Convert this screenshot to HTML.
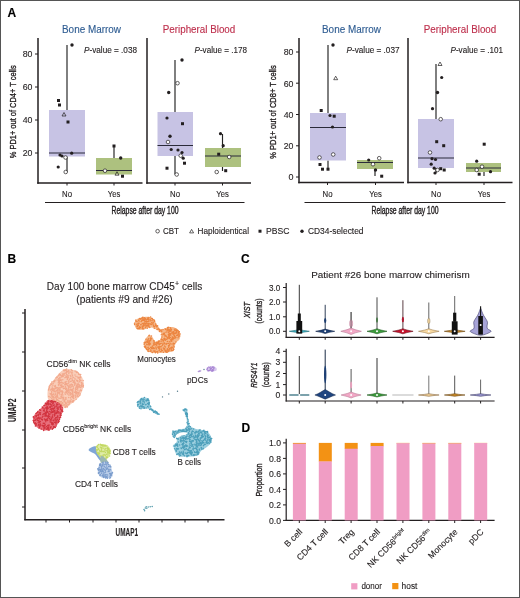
<!DOCTYPE html>
<html><head><meta charset="utf-8"><style>
html,body{margin:0;padding:0;background:#fff;}
svg{display:block;font-family:"Liberation Sans",sans-serif;will-change:transform;}
</style></head><body>
<svg width="520" height="598" viewBox="0 0 520 598">
<rect x="0" y="0" width="520" height="598" fill="#ffffff"/>
<line x1="0" y1="0.5" x2="520" y2="0.5" stroke="#555" stroke-width="1"/>
<line x1="0.5" y1="0" x2="0.5" y2="598" stroke="#555" stroke-width="1"/>
<line x1="519.5" y1="0" x2="519.5" y2="598" stroke="#555" stroke-width="1"/>
<line x1="0" y1="597.5" x2="520" y2="597.5" stroke="#555" stroke-width="1"/>
<text x="7.5" y="17" font-size="12" text-anchor="start" fill="#000" font-weight="bold" stroke="#000" stroke-width="0.12">A</text>
<text x="7.5" y="263" font-size="12" text-anchor="start" fill="#000" font-weight="bold" stroke="#000" stroke-width="0.12">B</text>
<text x="241" y="263" font-size="12" text-anchor="start" fill="#000" font-weight="bold" stroke="#000" stroke-width="0.12">C</text>
<text x="241.5" y="431.5" font-size="12" text-anchor="start" fill="#000" font-weight="bold" stroke="#000" stroke-width="0.12">D</text>
<line x1="38" y1="38" x2="38" y2="183.8" stroke="#231f20" stroke-width="1.5"/>
<line x1="37.25" y1="183" x2="142.5" y2="183" stroke="#231f20" stroke-width="1.6"/>
<line x1="35" y1="54" x2="38" y2="54" stroke="#231f20" stroke-width="1"/>
<text x="32.5" y="57.3" font-size="9.2" text-anchor="end" fill="#231f20" textLength="9.8" lengthAdjust="spacingAndGlyphs" stroke="#231f20" stroke-width="0.12">80</text>
<line x1="35" y1="87" x2="38" y2="87" stroke="#231f20" stroke-width="1"/>
<text x="32.5" y="90.3" font-size="9.2" text-anchor="end" fill="#231f20" textLength="9.8" lengthAdjust="spacingAndGlyphs" stroke="#231f20" stroke-width="0.12">60</text>
<line x1="35" y1="120" x2="38" y2="120" stroke="#231f20" stroke-width="1"/>
<text x="32.5" y="123.3" font-size="9.2" text-anchor="end" fill="#231f20" textLength="9.8" lengthAdjust="spacingAndGlyphs" stroke="#231f20" stroke-width="0.12">40</text>
<line x1="35" y1="153" x2="38" y2="153" stroke="#231f20" stroke-width="1"/>
<text x="32.5" y="156.3" font-size="9.2" text-anchor="end" fill="#231f20" textLength="9.8" lengthAdjust="spacingAndGlyphs" stroke="#231f20" stroke-width="0.12">20</text>
<line x1="67" y1="183" x2="67" y2="185.5" stroke="#231f20" stroke-width="1"/>
<text x="67" y="196.8" font-size="8.6" text-anchor="middle" fill="#231f20" textLength="10" lengthAdjust="spacingAndGlyphs" stroke="#231f20" stroke-width="0.12">No</text>
<line x1="114" y1="183" x2="114" y2="185.5" stroke="#231f20" stroke-width="1"/>
<text x="114" y="196.8" font-size="8.6" text-anchor="middle" fill="#231f20" textLength="12.5" lengthAdjust="spacingAndGlyphs" stroke="#231f20" stroke-width="0.12">Yes</text>
<line x1="147" y1="38" x2="147" y2="183.8" stroke="#231f20" stroke-width="1.5"/>
<line x1="146.25" y1="183" x2="251" y2="183" stroke="#231f20" stroke-width="1.6"/>
<line x1="175" y1="183" x2="175" y2="185.5" stroke="#231f20" stroke-width="1"/>
<text x="175" y="196.8" font-size="8.6" text-anchor="middle" fill="#231f20" textLength="10" lengthAdjust="spacingAndGlyphs" stroke="#231f20" stroke-width="0.12">No</text>
<line x1="222.5" y1="183" x2="222.5" y2="185.5" stroke="#231f20" stroke-width="1"/>
<text x="222.5" y="196.8" font-size="8.6" text-anchor="middle" fill="#231f20" textLength="12.5" lengthAdjust="spacingAndGlyphs" stroke="#231f20" stroke-width="0.12">Yes</text>
<text x="91.5" y="33.3" font-size="10.2" text-anchor="middle" fill="#2e5c92" textLength="59" lengthAdjust="spacingAndGlyphs" stroke="#2e5c92" stroke-width="0.12">Bone Marrow</text>
<text x="199" y="33.3" font-size="10.2" text-anchor="middle" fill="#be2f4c" textLength="72.5" lengthAdjust="spacingAndGlyphs" stroke="#be2f4c" stroke-width="0.12">Peripheral Blood</text>
<line x1="67" y1="45" x2="67" y2="110" stroke="#222" stroke-width="1.15"/>
<line x1="67" y1="156.5" x2="67" y2="172" stroke="#222" stroke-width="1.15"/>
<rect x="49" y="110" width="36" height="46.5" fill="#c7c3e4"/>
<line x1="49" y1="153" x2="85" y2="153" stroke="#2b2b3a" stroke-width="1.2"/>
<circle cx="72" cy="45" r="1.7" fill="#231f20"/>
<rect x="57.0" y="99.0" width="3" height="3" fill="#231f20"/>
<rect x="58.0" y="103.5" width="3" height="3" fill="#231f20"/>
<path d="M64,112.5 L66,116.0 L62,116.0 Z" fill="none" stroke="#231f20" stroke-width="0.7"/>
<rect x="66.5" y="120.5" width="3" height="3" fill="#231f20"/>
<circle cx="60" cy="155" r="1.6" fill="#231f20"/>
<circle cx="62" cy="156" r="1.6" fill="#231f20"/>
<circle cx="71.7" cy="153.2" r="1.6" fill="#231f20"/>
<circle cx="65.5" cy="157.5" r="1.8" fill="#fff" stroke="#231f20" stroke-width="0.7"/>
<circle cx="58.2" cy="167" r="1.6" fill="#231f20"/>
<circle cx="65.7" cy="172" r="1.8" fill="#fff" stroke="#231f20" stroke-width="0.7"/>
<line x1="114" y1="146" x2="114" y2="158" stroke="#222" stroke-width="1.15"/>
<line x1="114" y1="174.5" x2="114" y2="174.5" stroke="#222" stroke-width="1.15"/>
<rect x="96" y="158" width="36" height="16.5" fill="#adc17f"/>
<line x1="96" y1="170.5" x2="132" y2="170.5" stroke="#2b2b3a" stroke-width="1.2"/>
<rect x="112.5" y="144.5" width="3" height="3" fill="#231f20"/>
<circle cx="120.7" cy="158" r="1.7" fill="#231f20"/>
<circle cx="105" cy="170.7" r="1.8" fill="#fff" stroke="#231f20" stroke-width="0.7"/>
<path d="M117,171.7 L119,175.2 L115,175.2 Z" fill="none" stroke="#231f20" stroke-width="0.7"/>
<rect x="121.0" y="174.7" width="3" height="3" fill="#231f20"/>
<line x1="175" y1="60" x2="175" y2="112" stroke="#222" stroke-width="1.15"/>
<line x1="175" y1="156" x2="175" y2="174.5" stroke="#222" stroke-width="1.15"/>
<rect x="157.5" y="112" width="35.5" height="44" fill="#c7c3e4"/>
<line x1="157.5" y1="145.5" x2="193" y2="145.5" stroke="#2b2b3a" stroke-width="1.2"/>
<circle cx="182" cy="60" r="1.7" fill="#231f20"/>
<circle cx="177.5" cy="83.2" r="1.8" fill="#fff" stroke="#231f20" stroke-width="0.7"/>
<circle cx="168.7" cy="92.5" r="1.7" fill="#231f20"/>
<circle cx="167" cy="118" r="1.6" fill="#231f20"/>
<rect x="181.0" y="122.2" width="3" height="3" fill="#231f20"/>
<circle cx="170" cy="136.2" r="1.7" fill="#231f20"/>
<circle cx="168" cy="142" r="1.8" fill="#fff" stroke="#231f20" stroke-width="0.7"/>
<circle cx="171.2" cy="149.5" r="1.6" fill="#231f20"/>
<circle cx="178" cy="150" r="1.6" fill="#231f20"/>
<circle cx="182" cy="152.5" r="1.6" fill="#231f20"/>
<circle cx="180.7" cy="155.7" r="1.8" fill="#fff" stroke="#231f20" stroke-width="0.7"/>
<circle cx="183.2" cy="158.2" r="1.6" fill="#231f20"/>
<rect x="183.0" y="161.7" width="3" height="3" fill="#231f20"/>
<rect x="165.5" y="166.7" width="3" height="3" fill="#231f20"/>
<circle cx="176.7" cy="174.5" r="1.8" fill="#fff" stroke="#231f20" stroke-width="0.7"/>
<line x1="222.5" y1="134" x2="222.5" y2="148" stroke="#222" stroke-width="1.15"/>
<line x1="222.5" y1="167" x2="222.5" y2="171" stroke="#222" stroke-width="1.15"/>
<rect x="205" y="148" width="36" height="19" fill="#adc17f"/>
<line x1="205" y1="156" x2="241" y2="156" stroke="#2b2b3a" stroke-width="1.2"/>
<circle cx="220.5" cy="133.7" r="1.6" fill="#231f20"/>
<circle cx="223.2" cy="145.7" r="1.6" fill="#231f20"/>
<rect x="217.2" y="152.7" width="3" height="3" fill="#231f20"/>
<circle cx="229.2" cy="157" r="1.8" fill="#fff" stroke="#231f20" stroke-width="0.7"/>
<circle cx="216.7" cy="172" r="1.8" fill="#fff" stroke="#231f20" stroke-width="0.7"/>
<rect x="224.2" y="169.2" width="3" height="3" fill="#231f20"/>
<text x="84" y="53" font-size="8.3" fill="#231f20" textLength="53" lengthAdjust="spacingAndGlyphs" stroke="#231f20" stroke-width="0.12"><tspan font-style="italic">P</tspan>-value = .038</text>
<text x="194.5" y="53" font-size="8.3" fill="#231f20" textLength="52.5" lengthAdjust="spacingAndGlyphs" stroke="#231f20" stroke-width="0.12"><tspan font-style="italic">P</tspan>-value = .178</text>
<text transform="translate(16.2,111.8) rotate(-90)" font-size="9.6" text-anchor="middle" fill="#231f20" stroke="#231f20" stroke-width="0.35" textLength="93" lengthAdjust="spacingAndGlyphs">% PD1+ out of CD4+ T cells</text>
<line x1="45" y1="202.5" x2="244.5" y2="202.5" stroke="#231f20" stroke-width="1.2"/>
<text x="145" y="214" font-size="10.4" text-anchor="middle" fill="#231f20" textLength="67" lengthAdjust="spacingAndGlyphs" stroke="#231f20" stroke-width="0.4">Relapse after day 100</text>
<line x1="299" y1="38" x2="299" y2="183.3" stroke="#231f20" stroke-width="1.5"/>
<line x1="298.25" y1="182.5" x2="404" y2="182.5" stroke="#231f20" stroke-width="1.6"/>
<line x1="296" y1="52" x2="299" y2="52" stroke="#231f20" stroke-width="1"/>
<text x="293.5" y="55.3" font-size="9.2" text-anchor="end" fill="#231f20" textLength="9.8" lengthAdjust="spacingAndGlyphs" stroke="#231f20" stroke-width="0.12">80</text>
<line x1="296" y1="83.2" x2="299" y2="83.2" stroke="#231f20" stroke-width="1"/>
<text x="293.5" y="86.5" font-size="9.2" text-anchor="end" fill="#231f20" textLength="9.8" lengthAdjust="spacingAndGlyphs" stroke="#231f20" stroke-width="0.12">60</text>
<line x1="296" y1="114.5" x2="299" y2="114.5" stroke="#231f20" stroke-width="1"/>
<text x="293.5" y="117.8" font-size="9.2" text-anchor="end" fill="#231f20" textLength="9.8" lengthAdjust="spacingAndGlyphs" stroke="#231f20" stroke-width="0.12">40</text>
<line x1="296" y1="145.8" x2="299" y2="145.8" stroke="#231f20" stroke-width="1"/>
<text x="293.5" y="149.10000000000002" font-size="9.2" text-anchor="end" fill="#231f20" textLength="9.8" lengthAdjust="spacingAndGlyphs" stroke="#231f20" stroke-width="0.12">20</text>
<line x1="296" y1="177" x2="299" y2="177" stroke="#231f20" stroke-width="1"/>
<text x="293.5" y="180.3" font-size="9.2" text-anchor="end" fill="#231f20" textLength="5" lengthAdjust="spacingAndGlyphs" stroke="#231f20" stroke-width="0.12">0</text>
<line x1="327.5" y1="182.5" x2="327.5" y2="185.0" stroke="#231f20" stroke-width="1"/>
<text x="327.5" y="196.8" font-size="8.6" text-anchor="middle" fill="#231f20" textLength="10" lengthAdjust="spacingAndGlyphs" stroke="#231f20" stroke-width="0.12">No</text>
<line x1="375.5" y1="182.5" x2="375.5" y2="185.0" stroke="#231f20" stroke-width="1"/>
<text x="375.5" y="196.8" font-size="8.6" text-anchor="middle" fill="#231f20" textLength="12.5" lengthAdjust="spacingAndGlyphs" stroke="#231f20" stroke-width="0.12">Yes</text>
<line x1="408" y1="38" x2="408" y2="183.3" stroke="#231f20" stroke-width="1.5"/>
<line x1="407.25" y1="182.5" x2="512.5" y2="182.5" stroke="#231f20" stroke-width="1.6"/>
<line x1="436" y1="182.5" x2="436" y2="185.0" stroke="#231f20" stroke-width="1"/>
<text x="436" y="196.8" font-size="8.6" text-anchor="middle" fill="#231f20" textLength="10" lengthAdjust="spacingAndGlyphs" stroke="#231f20" stroke-width="0.12">No</text>
<line x1="484" y1="182.5" x2="484" y2="185.0" stroke="#231f20" stroke-width="1"/>
<text x="484" y="196.8" font-size="8.6" text-anchor="middle" fill="#231f20" textLength="12.5" lengthAdjust="spacingAndGlyphs" stroke="#231f20" stroke-width="0.12">Yes</text>
<text x="351.5" y="33.3" font-size="10.2" text-anchor="middle" fill="#2e5c92" textLength="59" lengthAdjust="spacingAndGlyphs" stroke="#2e5c92" stroke-width="0.12">Bone Marrow</text>
<text x="460" y="33.3" font-size="10.2" text-anchor="middle" fill="#be2f4c" textLength="72.5" lengthAdjust="spacingAndGlyphs" stroke="#be2f4c" stroke-width="0.12">Peripheral Blood</text>
<line x1="328" y1="45" x2="328" y2="113" stroke="#222" stroke-width="1.15"/>
<line x1="328" y1="160.5" x2="328" y2="169" stroke="#222" stroke-width="1.15"/>
<rect x="310" y="113" width="36" height="47.5" fill="#c7c3e4"/>
<line x1="310" y1="127.5" x2="346" y2="127.5" stroke="#2b2b3a" stroke-width="1.2"/>
<circle cx="333" cy="45" r="1.7" fill="#231f20"/>
<path d="M335.7,76.2 L337.7,79.7 L333.7,79.7 Z" fill="none" stroke="#231f20" stroke-width="0.7"/>
<rect x="319.7" y="109.0" width="3" height="3" fill="#231f20"/>
<circle cx="330" cy="115.5" r="1.6" fill="#231f20"/>
<rect x="332.7" y="114.7" width="3" height="3" fill="#231f20"/>
<circle cx="332.5" cy="127" r="1.6" fill="#231f20"/>
<circle cx="319.5" cy="157.5" r="1.8" fill="#fff" stroke="#231f20" stroke-width="0.7"/>
<circle cx="333.2" cy="154.5" r="1.8" fill="#fff" stroke="#231f20" stroke-width="0.7"/>
<rect x="318.5" y="163.0" width="3" height="3" fill="#231f20"/>
<rect x="321.0" y="167.7" width="3" height="3" fill="#231f20"/>
<rect x="326.5" y="167.7" width="3" height="3" fill="#231f20"/>
<line x1="375" y1="160" x2="375" y2="160" stroke="#222" stroke-width="1.15"/>
<line x1="375" y1="169" x2="375" y2="176" stroke="#222" stroke-width="1.15"/>
<rect x="357" y="160" width="36" height="9" fill="#adc17f"/>
<line x1="357" y1="162.5" x2="393" y2="162.5" stroke="#2b2b3a" stroke-width="1.2"/>
<circle cx="368.7" cy="160" r="1.6" fill="#231f20"/>
<circle cx="373" cy="164.2" r="1.8" fill="#fff" stroke="#231f20" stroke-width="0.7"/>
<circle cx="379.2" cy="158.2" r="1.8" fill="#fff" stroke="#231f20" stroke-width="0.7"/>
<circle cx="375.5" cy="170" r="1.7" fill="#231f20"/>
<rect x="380.2" y="174.7" width="3" height="3" fill="#231f20"/>
<line x1="436" y1="64" x2="436" y2="119" stroke="#222" stroke-width="1.15"/>
<line x1="436" y1="168" x2="436" y2="173" stroke="#222" stroke-width="1.15"/>
<rect x="418" y="119" width="36" height="49" fill="#c7c3e4"/>
<line x1="418" y1="158" x2="454" y2="158" stroke="#2b2b3a" stroke-width="1.2"/>
<path d="M440,62 L442,65.5 L438,65.5 Z" fill="none" stroke="#231f20" stroke-width="0.7"/>
<circle cx="441.7" cy="77.5" r="1.6" fill="#231f20"/>
<circle cx="437.5" cy="92.5" r="1.7" fill="#231f20"/>
<circle cx="432.5" cy="108.7" r="1.6" fill="#231f20"/>
<circle cx="440.7" cy="119.2" r="1.8" fill="#fff" stroke="#231f20" stroke-width="0.7"/>
<rect x="435.2" y="140.2" width="3" height="3" fill="#231f20"/>
<rect x="442.2" y="144.2" width="3" height="3" fill="#231f20"/>
<circle cx="430" cy="152.5" r="1.8" fill="#fff" stroke="#231f20" stroke-width="0.7"/>
<circle cx="432" cy="158.7" r="1.6" fill="#231f20"/>
<circle cx="435.5" cy="159.5" r="1.6" fill="#231f20"/>
<circle cx="431.2" cy="164.2" r="1.6" fill="#231f20"/>
<circle cx="434.2" cy="168.2" r="1.6" fill="#231f20"/>
<circle cx="437.5" cy="170" r="1.8" fill="#fff" stroke="#231f20" stroke-width="0.7"/>
<rect x="439.2" y="167.2" width="3" height="3" fill="#231f20"/>
<rect x="442.7" y="168.5" width="3" height="3" fill="#231f20"/>
<circle cx="435" cy="173" r="1.6" fill="#231f20"/>
<line x1="484" y1="163" x2="484" y2="163" stroke="#222" stroke-width="1.15"/>
<line x1="484" y1="172" x2="484" y2="176" stroke="#222" stroke-width="1.15"/>
<rect x="466" y="163" width="35" height="9" fill="#adc17f"/>
<line x1="466" y1="168" x2="501" y2="168" stroke="#2b2b3a" stroke-width="1.2"/>
<rect x="482.7" y="142.7" width="3" height="3" fill="#231f20"/>
<circle cx="476.7" cy="161.2" r="1.6" fill="#231f20"/>
<circle cx="482" cy="166.7" r="1.8" fill="#fff" stroke="#231f20" stroke-width="0.7"/>
<circle cx="476.7" cy="170" r="1.8" fill="#fff" stroke="#231f20" stroke-width="0.7"/>
<rect x="477.7" y="172.7" width="3" height="3" fill="#231f20"/>
<circle cx="490.5" cy="171.7" r="1.6" fill="#231f20"/>
<text x="346.5" y="53" font-size="8.3" fill="#231f20" textLength="53" lengthAdjust="spacingAndGlyphs" stroke="#231f20" stroke-width="0.12"><tspan font-style="italic">P</tspan>-value = .037</text>
<text x="450.5" y="53" font-size="8.3" fill="#231f20" textLength="52.5" lengthAdjust="spacingAndGlyphs" stroke="#231f20" stroke-width="0.12"><tspan font-style="italic">P</tspan>-value = .101</text>
<text transform="translate(275.6,112) rotate(-90)" font-size="9.6" text-anchor="middle" fill="#231f20" stroke="#231f20" stroke-width="0.35" textLength="93.5" lengthAdjust="spacingAndGlyphs">% PD1+ out of CD8+ T cells</text>
<line x1="304.5" y1="202.5" x2="505.5" y2="202.5" stroke="#231f20" stroke-width="1.2"/>
<text x="405" y="214" font-size="10.4" text-anchor="middle" fill="#231f20" textLength="67" lengthAdjust="spacingAndGlyphs" stroke="#231f20" stroke-width="0.4">Relapse after day 100</text>
<circle cx="157.6" cy="231.2" r="1.8" fill="#fff" stroke="#231f20" stroke-width="0.7"/>
<text x="163" y="233.6" font-size="8.4" text-anchor="start" fill="#231f20" textLength="16" lengthAdjust="spacingAndGlyphs" stroke="#231f20" stroke-width="0.12">CBT</text>
<path d="M191.6,229.4 L193.6,232.9 L189.6,232.9 Z" fill="none" stroke="#231f20" stroke-width="0.7"/>
<text x="197.5" y="233.6" font-size="8.4" text-anchor="start" fill="#231f20" textLength="51.5" lengthAdjust="spacingAndGlyphs" stroke="#231f20" stroke-width="0.12">Haploidentical</text>
<rect x="258.5" y="229.7" width="3" height="3" fill="#231f20"/>
<text x="266" y="233.6" font-size="8.4" text-anchor="start" fill="#231f20" textLength="23.5" lengthAdjust="spacingAndGlyphs" stroke="#231f20" stroke-width="0.12">PBSC</text>
<circle cx="302" cy="231.2" r="1.7" fill="#231f20"/>
<text x="308" y="233.6" font-size="8.4" text-anchor="start" fill="#231f20" textLength="55.5" lengthAdjust="spacingAndGlyphs" stroke="#231f20" stroke-width="0.12">CD34-selected</text>
<text x="124.5" y="289.8" font-size="10" text-anchor="middle" fill="#231f20" textLength="155.5" stroke="#231f20" stroke-width="0.12">Day 100 bone marrow CD45<tspan font-size="7" dy="-4">+</tspan><tspan dy="4"> cells</tspan></text>
<text x="124.5" y="302.8" font-size="10" text-anchor="middle" fill="#231f20" textLength="96.5" lengthAdjust="spacingAndGlyphs" stroke="#231f20" stroke-width="0.12">(patients #9 and #26)</text>
<line x1="25" y1="309" x2="25" y2="520.2" stroke="#231f20" stroke-width="1.5"/>
<line x1="24.3" y1="519.8" x2="224.5" y2="519.8" stroke="#231f20" stroke-width="1.6"/>
<line x1="22" y1="313" x2="25" y2="313" stroke="#231f20" stroke-width="1"/>
<line x1="22" y1="352" x2="25" y2="352" stroke="#231f20" stroke-width="1"/>
<line x1="22" y1="391" x2="25" y2="391" stroke="#231f20" stroke-width="1"/>
<line x1="22" y1="430" x2="25" y2="430" stroke="#231f20" stroke-width="1"/>
<line x1="22" y1="468" x2="25" y2="468" stroke="#231f20" stroke-width="1"/>
<line x1="22" y1="507" x2="25" y2="507" stroke="#231f20" stroke-width="1"/>
<line x1="46" y1="519.8" x2="46" y2="522.5" stroke="#231f20" stroke-width="1"/>
<line x1="69.5" y1="519.8" x2="69.5" y2="522.5" stroke="#231f20" stroke-width="1"/>
<line x1="93" y1="519.8" x2="93" y2="522.5" stroke="#231f20" stroke-width="1"/>
<line x1="116" y1="519.8" x2="116" y2="522.5" stroke="#231f20" stroke-width="1"/>
<line x1="139" y1="519.8" x2="139" y2="522.5" stroke="#231f20" stroke-width="1"/>
<line x1="162" y1="519.8" x2="162" y2="522.5" stroke="#231f20" stroke-width="1"/>
<line x1="185" y1="519.8" x2="185" y2="522.5" stroke="#231f20" stroke-width="1"/>
<line x1="208" y1="519.8" x2="208" y2="522.5" stroke="#231f20" stroke-width="1"/>
<text transform="translate(15.8,410.3) rotate(-90)" font-size="10.2" font-weight="bold" text-anchor="middle" fill="#231f20" textLength="23.5" lengthAdjust="spacingAndGlyphs" stroke="#231f20" stroke-width="0.12">UMAP2</text>
<text x="126.8" y="535.6" font-size="10.4" text-anchor="middle" fill="#231f20" font-weight="bold" textLength="22.5" lengthAdjust="spacingAndGlyphs" stroke="#231f20" stroke-width="0.12">UMAP1</text>
<path d="M68.6,369.1 C70.9,369.3 74.6,370.2 76.8,371.4 C79.0,372.6 80.3,374.2 81.5,376.2 C82.7,378.2 83.7,380.9 83.8,383.5 C83.9,386.1 83.0,389.0 82.0,391.5 C81.0,394.0 79.3,396.4 77.5,398.5 C75.7,400.6 73.1,402.4 71.0,404.0 C68.9,405.6 67.5,408.2 65.0,408.0 C62.5,407.8 58.7,403.8 56.0,402.5 C53.3,401.2 50.1,401.7 48.7,400.1 C47.3,398.5 47.4,395.6 47.5,393.1 C47.6,390.6 48.3,387.0 49.3,384.9 C50.3,382.8 51.9,381.9 53.4,380.2 C54.9,378.4 56.5,376.0 58.1,374.4 C59.7,372.8 61.0,371.2 62.7,370.3 C64.5,369.4 66.2,368.9 68.6,369.1 Z" fill="#f9cdb8"/>
<path d="M75.2,379.0m-0.75,0a0.75,0.75 0 1,0 1.5,0a0.75,0.75 0 1,0 -1.5,0M65.5,386.6m-0.75,0a0.75,0.75 0 1,0 1.5,0a0.75,0.75 0 1,0 -1.5,0M71.1,399.8m-0.75,0a0.75,0.75 0 1,0 1.5,0a0.75,0.75 0 1,0 -1.5,0M77.8,385.9m-0.75,0a0.75,0.75 0 1,0 1.5,0a0.75,0.75 0 1,0 -1.5,0M63.6,397.2m-0.75,0a0.75,0.75 0 1,0 1.5,0a0.75,0.75 0 1,0 -1.5,0M48.4,390.1m-0.75,0a0.75,0.75 0 1,0 1.5,0a0.75,0.75 0 1,0 -1.5,0M81.6,383.9m-0.75,0a0.75,0.75 0 1,0 1.5,0a0.75,0.75 0 1,0 -1.5,0M55.3,385.5m-0.75,0a0.75,0.75 0 1,0 1.5,0a0.75,0.75 0 1,0 -1.5,0M63.4,388.4m-0.75,0a0.75,0.75 0 1,0 1.5,0a0.75,0.75 0 1,0 -1.5,0M55.9,378.1m-0.75,0a0.75,0.75 0 1,0 1.5,0a0.75,0.75 0 1,0 -1.5,0M55.4,387.0m-0.75,0a0.75,0.75 0 1,0 1.5,0a0.75,0.75 0 1,0 -1.5,0M77.9,390.7m-0.75,0a0.75,0.75 0 1,0 1.5,0a0.75,0.75 0 1,0 -1.5,0M70.8,376.3m-0.75,0a0.75,0.75 0 1,0 1.5,0a0.75,0.75 0 1,0 -1.5,0M51.8,382.0m-0.75,0a0.75,0.75 0 1,0 1.5,0a0.75,0.75 0 1,0 -1.5,0M73.7,396.8m-0.75,0a0.75,0.75 0 1,0 1.5,0a0.75,0.75 0 1,0 -1.5,0M81.5,385.5m-0.75,0a0.75,0.75 0 1,0 1.5,0a0.75,0.75 0 1,0 -1.5,0M77.6,395.2m-0.75,0a0.75,0.75 0 1,0 1.5,0a0.75,0.75 0 1,0 -1.5,0M58.5,391.9m-0.75,0a0.75,0.75 0 1,0 1.5,0a0.75,0.75 0 1,0 -1.5,0M65.8,392.0m-0.75,0a0.75,0.75 0 1,0 1.5,0a0.75,0.75 0 1,0 -1.5,0M76.4,385.2m-0.75,0a0.75,0.75 0 1,0 1.5,0a0.75,0.75 0 1,0 -1.5,0M53.7,390.4m-0.75,0a0.75,0.75 0 1,0 1.5,0a0.75,0.75 0 1,0 -1.5,0M73.0,395.3m-0.75,0a0.75,0.75 0 1,0 1.5,0a0.75,0.75 0 1,0 -1.5,0M61.1,386.2m-0.75,0a0.75,0.75 0 1,0 1.5,0a0.75,0.75 0 1,0 -1.5,0M65.9,399.4m-0.75,0a0.75,0.75 0 1,0 1.5,0a0.75,0.75 0 1,0 -1.5,0M66.4,384.4m-0.75,0a0.75,0.75 0 1,0 1.5,0a0.75,0.75 0 1,0 -1.5,0M65.2,370.2m-0.75,0a0.75,0.75 0 1,0 1.5,0a0.75,0.75 0 1,0 -1.5,0M49.0,396.5m-0.75,0a0.75,0.75 0 1,0 1.5,0a0.75,0.75 0 1,0 -1.5,0M61.8,375.7m-0.75,0a0.75,0.75 0 1,0 1.5,0a0.75,0.75 0 1,0 -1.5,0M65.7,407.3m-0.75,0a0.75,0.75 0 1,0 1.5,0a0.75,0.75 0 1,0 -1.5,0M75.5,390.1m-0.75,0a0.75,0.75 0 1,0 1.5,0a0.75,0.75 0 1,0 -1.5,0M78.7,378.1m-0.75,0a0.75,0.75 0 1,0 1.5,0a0.75,0.75 0 1,0 -1.5,0M66.1,406.1m-0.75,0a0.75,0.75 0 1,0 1.5,0a0.75,0.75 0 1,0 -1.5,0M68.5,386.9m-0.75,0a0.75,0.75 0 1,0 1.5,0a0.75,0.75 0 1,0 -1.5,0M57.2,390.4m-0.75,0a0.75,0.75 0 1,0 1.5,0a0.75,0.75 0 1,0 -1.5,0M76.9,389.3m-0.75,0a0.75,0.75 0 1,0 1.5,0a0.75,0.75 0 1,0 -1.5,0M67.9,385.7m-0.75,0a0.75,0.75 0 1,0 1.5,0a0.75,0.75 0 1,0 -1.5,0M68.2,376.8m-0.75,0a0.75,0.75 0 1,0 1.5,0a0.75,0.75 0 1,0 -1.5,0M65.8,387.9m-0.75,0a0.75,0.75 0 1,0 1.5,0a0.75,0.75 0 1,0 -1.5,0M60.4,382.5m-0.75,0a0.75,0.75 0 1,0 1.5,0a0.75,0.75 0 1,0 -1.5,0M67.0,393.3m-0.75,0a0.75,0.75 0 1,0 1.5,0a0.75,0.75 0 1,0 -1.5,0M69.7,386.9m-0.75,0a0.75,0.75 0 1,0 1.5,0a0.75,0.75 0 1,0 -1.5,0M53.9,391.8m-0.75,0a0.75,0.75 0 1,0 1.5,0a0.75,0.75 0 1,0 -1.5,0M56.7,401.8m-0.75,0a0.75,0.75 0 1,0 1.5,0a0.75,0.75 0 1,0 -1.5,0M71.9,372.3m-0.75,0a0.75,0.75 0 1,0 1.5,0a0.75,0.75 0 1,0 -1.5,0M74.9,378.8m-0.75,0a0.75,0.75 0 1,0 1.5,0a0.75,0.75 0 1,0 -1.5,0M51.4,393.4m-0.75,0a0.75,0.75 0 1,0 1.5,0a0.75,0.75 0 1,0 -1.5,0M53.2,389.6m-0.75,0a0.75,0.75 0 1,0 1.5,0a0.75,0.75 0 1,0 -1.5,0M73.3,386.8m-0.75,0a0.75,0.75 0 1,0 1.5,0a0.75,0.75 0 1,0 -1.5,0M59.2,387.5m-0.75,0a0.75,0.75 0 1,0 1.5,0a0.75,0.75 0 1,0 -1.5,0M62.7,376.4m-0.75,0a0.75,0.75 0 1,0 1.5,0a0.75,0.75 0 1,0 -1.5,0M66.0,377.2m-0.75,0a0.75,0.75 0 1,0 1.5,0a0.75,0.75 0 1,0 -1.5,0M69.5,400.9m-0.75,0a0.75,0.75 0 1,0 1.5,0a0.75,0.75 0 1,0 -1.5,0M52.8,397.1m-0.75,0a0.75,0.75 0 1,0 1.5,0a0.75,0.75 0 1,0 -1.5,0M53.3,396.5m-0.75,0a0.75,0.75 0 1,0 1.5,0a0.75,0.75 0 1,0 -1.5,0M72.1,390.3m-0.75,0a0.75,0.75 0 1,0 1.5,0a0.75,0.75 0 1,0 -1.5,0M76.4,389.2m-0.75,0a0.75,0.75 0 1,0 1.5,0a0.75,0.75 0 1,0 -1.5,0M55.6,394.3m-0.75,0a0.75,0.75 0 1,0 1.5,0a0.75,0.75 0 1,0 -1.5,0M61.8,391.5m-0.75,0a0.75,0.75 0 1,0 1.5,0a0.75,0.75 0 1,0 -1.5,0M59.1,393.6m-0.75,0a0.75,0.75 0 1,0 1.5,0a0.75,0.75 0 1,0 -1.5,0M58.6,402.5m-0.75,0a0.75,0.75 0 1,0 1.5,0a0.75,0.75 0 1,0 -1.5,0M74.5,385.3m-0.75,0a0.75,0.75 0 1,0 1.5,0a0.75,0.75 0 1,0 -1.5,0M68.2,375.7m-0.75,0a0.75,0.75 0 1,0 1.5,0a0.75,0.75 0 1,0 -1.5,0M73.0,388.9m-0.75,0a0.75,0.75 0 1,0 1.5,0a0.75,0.75 0 1,0 -1.5,0M61.2,382.6m-0.75,0a0.75,0.75 0 1,0 1.5,0a0.75,0.75 0 1,0 -1.5,0M54.9,395.3m-0.75,0a0.75,0.75 0 1,0 1.5,0a0.75,0.75 0 1,0 -1.5,0M63.2,376.6m-0.75,0a0.75,0.75 0 1,0 1.5,0a0.75,0.75 0 1,0 -1.5,0M51.2,395.0m-0.75,0a0.75,0.75 0 1,0 1.5,0a0.75,0.75 0 1,0 -1.5,0M58.2,388.5m-0.75,0a0.75,0.75 0 1,0 1.5,0a0.75,0.75 0 1,0 -1.5,0M59.3,403.0m-0.75,0a0.75,0.75 0 1,0 1.5,0a0.75,0.75 0 1,0 -1.5,0M54.7,381.8m-0.75,0a0.75,0.75 0 1,0 1.5,0a0.75,0.75 0 1,0 -1.5,0M59.8,377.4m-0.75,0a0.75,0.75 0 1,0 1.5,0a0.75,0.75 0 1,0 -1.5,0M72.0,401.7m-0.75,0a0.75,0.75 0 1,0 1.5,0a0.75,0.75 0 1,0 -1.5,0M81.3,382.5m-0.75,0a0.75,0.75 0 1,0 1.5,0a0.75,0.75 0 1,0 -1.5,0M79.5,395.8m-0.75,0a0.75,0.75 0 1,0 1.5,0a0.75,0.75 0 1,0 -1.5,0M65.1,407.4m-0.75,0a0.75,0.75 0 1,0 1.5,0a0.75,0.75 0 1,0 -1.5,0M56.0,397.3m-0.75,0a0.75,0.75 0 1,0 1.5,0a0.75,0.75 0 1,0 -1.5,0M80.6,377.4m-0.75,0a0.75,0.75 0 1,0 1.5,0a0.75,0.75 0 1,0 -1.5,0M75.0,392.4m-0.75,0a0.75,0.75 0 1,0 1.5,0a0.75,0.75 0 1,0 -1.5,0M78.0,383.4m-0.75,0a0.75,0.75 0 1,0 1.5,0a0.75,0.75 0 1,0 -1.5,0M59.8,380.4m-0.75,0a0.75,0.75 0 1,0 1.5,0a0.75,0.75 0 1,0 -1.5,0M79.0,392.6m-0.75,0a0.75,0.75 0 1,0 1.5,0a0.75,0.75 0 1,0 -1.5,0M52.4,390.5m-0.75,0a0.75,0.75 0 1,0 1.5,0a0.75,0.75 0 1,0 -1.5,0M59.8,393.0m-0.75,0a0.75,0.75 0 1,0 1.5,0a0.75,0.75 0 1,0 -1.5,0M75.9,383.8m-0.75,0a0.75,0.75 0 1,0 1.5,0a0.75,0.75 0 1,0 -1.5,0M68.2,377.8m-0.75,0a0.75,0.75 0 1,0 1.5,0a0.75,0.75 0 1,0 -1.5,0M79.8,391.0m-0.75,0a0.75,0.75 0 1,0 1.5,0a0.75,0.75 0 1,0 -1.5,0M81.1,386.9m-0.75,0a0.75,0.75 0 1,0 1.5,0a0.75,0.75 0 1,0 -1.5,0M57.5,399.7m-0.75,0a0.75,0.75 0 1,0 1.5,0a0.75,0.75 0 1,0 -1.5,0M71.8,372.6m-0.75,0a0.75,0.75 0 1,0 1.5,0a0.75,0.75 0 1,0 -1.5,0M83.4,385.5m-0.75,0a0.75,0.75 0 1,0 1.5,0a0.75,0.75 0 1,0 -1.5,0M56.2,398.0m-0.75,0a0.75,0.75 0 1,0 1.5,0a0.75,0.75 0 1,0 -1.5,0M80.5,380.5m-0.75,0a0.75,0.75 0 1,0 1.5,0a0.75,0.75 0 1,0 -1.5,0M56.7,387.6m-0.75,0a0.75,0.75 0 1,0 1.5,0a0.75,0.75 0 1,0 -1.5,0M51.1,394.5m-0.75,0a0.75,0.75 0 1,0 1.5,0a0.75,0.75 0 1,0 -1.5,0M83.2,380.6m-0.75,0a0.75,0.75 0 1,0 1.5,0a0.75,0.75 0 1,0 -1.5,0M69.1,386.6m-0.75,0a0.75,0.75 0 1,0 1.5,0a0.75,0.75 0 1,0 -1.5,0M55.3,393.1m-0.75,0a0.75,0.75 0 1,0 1.5,0a0.75,0.75 0 1,0 -1.5,0M72.5,394.8m-0.75,0a0.75,0.75 0 1,0 1.5,0a0.75,0.75 0 1,0 -1.5,0M56.9,390.2m-0.75,0a0.75,0.75 0 1,0 1.5,0a0.75,0.75 0 1,0 -1.5,0M58.6,378.7m-0.75,0a0.75,0.75 0 1,0 1.5,0a0.75,0.75 0 1,0 -1.5,0M83.2,386.5m-0.75,0a0.75,0.75 0 1,0 1.5,0a0.75,0.75 0 1,0 -1.5,0M71.1,394.1m-0.75,0a0.75,0.75 0 1,0 1.5,0a0.75,0.75 0 1,0 -1.5,0M81.6,384.3m-0.75,0a0.75,0.75 0 1,0 1.5,0a0.75,0.75 0 1,0 -1.5,0M58.6,381.8m-0.75,0a0.75,0.75 0 1,0 1.5,0a0.75,0.75 0 1,0 -1.5,0M59.0,402.0m-0.75,0a0.75,0.75 0 1,0 1.5,0a0.75,0.75 0 1,0 -1.5,0M79.9,380.9m-0.75,0a0.75,0.75 0 1,0 1.5,0a0.75,0.75 0 1,0 -1.5,0M59.6,390.3m-0.75,0a0.75,0.75 0 1,0 1.5,0a0.75,0.75 0 1,0 -1.5,0M68.5,392.3m-0.75,0a0.75,0.75 0 1,0 1.5,0a0.75,0.75 0 1,0 -1.5,0M67.5,371.8m-0.75,0a0.75,0.75 0 1,0 1.5,0a0.75,0.75 0 1,0 -1.5,0M50.2,393.8m-0.75,0a0.75,0.75 0 1,0 1.5,0a0.75,0.75 0 1,0 -1.5,0M58.0,399.9m-0.75,0a0.75,0.75 0 1,0 1.5,0a0.75,0.75 0 1,0 -1.5,0M65.4,402.7m-0.75,0a0.75,0.75 0 1,0 1.5,0a0.75,0.75 0 1,0 -1.5,0M53.1,388.6m-0.75,0a0.75,0.75 0 1,0 1.5,0a0.75,0.75 0 1,0 -1.5,0M76.3,372.1m-0.75,0a0.75,0.75 0 1,0 1.5,0a0.75,0.75 0 1,0 -1.5,0M77.3,381.5m-0.75,0a0.75,0.75 0 1,0 1.5,0a0.75,0.75 0 1,0 -1.5,0M51.3,389.1m-0.75,0a0.75,0.75 0 1,0 1.5,0a0.75,0.75 0 1,0 -1.5,0M80.9,380.5m-0.75,0a0.75,0.75 0 1,0 1.5,0a0.75,0.75 0 1,0 -1.5,0M79.9,374.6m-0.75,0a0.75,0.75 0 1,0 1.5,0a0.75,0.75 0 1,0 -1.5,0M58.9,404.2m-0.75,0a0.75,0.75 0 1,0 1.5,0a0.75,0.75 0 1,0 -1.5,0M72.5,376.0m-0.75,0a0.75,0.75 0 1,0 1.5,0a0.75,0.75 0 1,0 -1.5,0M63.2,375.2m-0.75,0a0.75,0.75 0 1,0 1.5,0a0.75,0.75 0 1,0 -1.5,0M73.4,395.1m-0.75,0a0.75,0.75 0 1,0 1.5,0a0.75,0.75 0 1,0 -1.5,0M67.4,390.1m-0.75,0a0.75,0.75 0 1,0 1.5,0a0.75,0.75 0 1,0 -1.5,0M78.4,386.7m-0.75,0a0.75,0.75 0 1,0 1.5,0a0.75,0.75 0 1,0 -1.5,0M61.8,382.2m-0.75,0a0.75,0.75 0 1,0 1.5,0a0.75,0.75 0 1,0 -1.5,0M70.9,385.3m-0.75,0a0.75,0.75 0 1,0 1.5,0a0.75,0.75 0 1,0 -1.5,0M68.2,371.5m-0.75,0a0.75,0.75 0 1,0 1.5,0a0.75,0.75 0 1,0 -1.5,0M60.3,374.4m-0.75,0a0.75,0.75 0 1,0 1.5,0a0.75,0.75 0 1,0 -1.5,0M77.6,384.6m-0.75,0a0.75,0.75 0 1,0 1.5,0a0.75,0.75 0 1,0 -1.5,0M62.0,392.9m-0.75,0a0.75,0.75 0 1,0 1.5,0a0.75,0.75 0 1,0 -1.5,0M66.7,388.6m-0.75,0a0.75,0.75 0 1,0 1.5,0a0.75,0.75 0 1,0 -1.5,0M71.0,386.1m-0.75,0a0.75,0.75 0 1,0 1.5,0a0.75,0.75 0 1,0 -1.5,0M72.4,397.5m-0.75,0a0.75,0.75 0 1,0 1.5,0a0.75,0.75 0 1,0 -1.5,0M56.1,388.3m-0.75,0a0.75,0.75 0 1,0 1.5,0a0.75,0.75 0 1,0 -1.5,0M64.9,377.8m-0.75,0a0.75,0.75 0 1,0 1.5,0a0.75,0.75 0 1,0 -1.5,0M62.4,390.9m-0.75,0a0.75,0.75 0 1,0 1.5,0a0.75,0.75 0 1,0 -1.5,0M57.5,394.2m-0.75,0a0.75,0.75 0 1,0 1.5,0a0.75,0.75 0 1,0 -1.5,0M66.0,403.2m-0.75,0a0.75,0.75 0 1,0 1.5,0a0.75,0.75 0 1,0 -1.5,0M53.2,398.9m-0.75,0a0.75,0.75 0 1,0 1.5,0a0.75,0.75 0 1,0 -1.5,0M79.5,381.2m-0.75,0a0.75,0.75 0 1,0 1.5,0a0.75,0.75 0 1,0 -1.5,0M72.6,402.1m-0.75,0a0.75,0.75 0 1,0 1.5,0a0.75,0.75 0 1,0 -1.5,0M61.0,396.4m-0.75,0a0.75,0.75 0 1,0 1.5,0a0.75,0.75 0 1,0 -1.5,0M74.2,392.2m-0.75,0a0.75,0.75 0 1,0 1.5,0a0.75,0.75 0 1,0 -1.5,0M55.4,391.2m-0.75,0a0.75,0.75 0 1,0 1.5,0a0.75,0.75 0 1,0 -1.5,0M75.0,371.1m-0.75,0a0.75,0.75 0 1,0 1.5,0a0.75,0.75 0 1,0 -1.5,0M72.2,397.0m-0.75,0a0.75,0.75 0 1,0 1.5,0a0.75,0.75 0 1,0 -1.5,0M60.1,389.1m-0.75,0a0.75,0.75 0 1,0 1.5,0a0.75,0.75 0 1,0 -1.5,0M53.4,397.5m-0.75,0a0.75,0.75 0 1,0 1.5,0a0.75,0.75 0 1,0 -1.5,0M76.8,393.5m-0.75,0a0.75,0.75 0 1,0 1.5,0a0.75,0.75 0 1,0 -1.5,0M71.4,396.3m-0.75,0a0.75,0.75 0 1,0 1.5,0a0.75,0.75 0 1,0 -1.5,0M63.6,405.1m-0.75,0a0.75,0.75 0 1,0 1.5,0a0.75,0.75 0 1,0 -1.5,0M82.8,384.0m-0.75,0a0.75,0.75 0 1,0 1.5,0a0.75,0.75 0 1,0 -1.5,0M76.6,385.9m-0.75,0a0.75,0.75 0 1,0 1.5,0a0.75,0.75 0 1,0 -1.5,0M53.4,381.7m-0.75,0a0.75,0.75 0 1,0 1.5,0a0.75,0.75 0 1,0 -1.5,0M69.3,385.0m-0.75,0a0.75,0.75 0 1,0 1.5,0a0.75,0.75 0 1,0 -1.5,0M56.5,398.2m-0.75,0a0.75,0.75 0 1,0 1.5,0a0.75,0.75 0 1,0 -1.5,0M63.4,369.9m-0.75,0a0.75,0.75 0 1,0 1.5,0a0.75,0.75 0 1,0 -1.5,0M70.3,392.6m-0.75,0a0.75,0.75 0 1,0 1.5,0a0.75,0.75 0 1,0 -1.5,0M77.8,377.1m-0.75,0a0.75,0.75 0 1,0 1.5,0a0.75,0.75 0 1,0 -1.5,0M57.8,390.2m-0.75,0a0.75,0.75 0 1,0 1.5,0a0.75,0.75 0 1,0 -1.5,0M57.4,391.9m-0.75,0a0.75,0.75 0 1,0 1.5,0a0.75,0.75 0 1,0 -1.5,0M56.6,395.7m-0.75,0a0.75,0.75 0 1,0 1.5,0a0.75,0.75 0 1,0 -1.5,0M65.3,402.4m-0.75,0a0.75,0.75 0 1,0 1.5,0a0.75,0.75 0 1,0 -1.5,0M75.4,391.3m-0.75,0a0.75,0.75 0 1,0 1.5,0a0.75,0.75 0 1,0 -1.5,0M61.4,380.1m-0.75,0a0.75,0.75 0 1,0 1.5,0a0.75,0.75 0 1,0 -1.5,0M51.4,400.5m-0.75,0a0.75,0.75 0 1,0 1.5,0a0.75,0.75 0 1,0 -1.5,0M51.7,398.2m-0.75,0a0.75,0.75 0 1,0 1.5,0a0.75,0.75 0 1,0 -1.5,0M67.3,406.6m-0.75,0a0.75,0.75 0 1,0 1.5,0a0.75,0.75 0 1,0 -1.5,0M52.4,388.5m-0.75,0a0.75,0.75 0 1,0 1.5,0a0.75,0.75 0 1,0 -1.5,0M68.3,381.2m-0.75,0a0.75,0.75 0 1,0 1.5,0a0.75,0.75 0 1,0 -1.5,0M65.7,383.0m-0.75,0a0.75,0.75 0 1,0 1.5,0a0.75,0.75 0 1,0 -1.5,0M66.7,369.1m-0.75,0a0.75,0.75 0 1,0 1.5,0a0.75,0.75 0 1,0 -1.5,0M63.5,386.6m-0.75,0a0.75,0.75 0 1,0 1.5,0a0.75,0.75 0 1,0 -1.5,0M58.5,384.6m-0.75,0a0.75,0.75 0 1,0 1.5,0a0.75,0.75 0 1,0 -1.5,0M75.9,395.7m-0.75,0a0.75,0.75 0 1,0 1.5,0a0.75,0.75 0 1,0 -1.5,0M65.3,394.3m-0.75,0a0.75,0.75 0 1,0 1.5,0a0.75,0.75 0 1,0 -1.5,0M61.2,377.0m-0.75,0a0.75,0.75 0 1,0 1.5,0a0.75,0.75 0 1,0 -1.5,0M69.2,403.4m-0.75,0a0.75,0.75 0 1,0 1.5,0a0.75,0.75 0 1,0 -1.5,0M77.6,389.0m-0.75,0a0.75,0.75 0 1,0 1.5,0a0.75,0.75 0 1,0 -1.5,0M83.3,387.0m-0.75,0a0.75,0.75 0 1,0 1.5,0a0.75,0.75 0 1,0 -1.5,0M77.8,385.0m-0.75,0a0.75,0.75 0 1,0 1.5,0a0.75,0.75 0 1,0 -1.5,0M58.5,375.7m-0.75,0a0.75,0.75 0 1,0 1.5,0a0.75,0.75 0 1,0 -1.5,0M70.0,389.7m-0.75,0a0.75,0.75 0 1,0 1.5,0a0.75,0.75 0 1,0 -1.5,0M61.6,385.6m-0.75,0a0.75,0.75 0 1,0 1.5,0a0.75,0.75 0 1,0 -1.5,0M62.2,402.6m-0.75,0a0.75,0.75 0 1,0 1.5,0a0.75,0.75 0 1,0 -1.5,0M68.7,397.6m-0.75,0a0.75,0.75 0 1,0 1.5,0a0.75,0.75 0 1,0 -1.5,0M65.4,398.1m-0.75,0a0.75,0.75 0 1,0 1.5,0a0.75,0.75 0 1,0 -1.5,0M70.7,394.3m-0.75,0a0.75,0.75 0 1,0 1.5,0a0.75,0.75 0 1,0 -1.5,0M70.3,384.9m-0.75,0a0.75,0.75 0 1,0 1.5,0a0.75,0.75 0 1,0 -1.5,0M70.3,393.7m-0.75,0a0.75,0.75 0 1,0 1.5,0a0.75,0.75 0 1,0 -1.5,0M77.1,392.6m-0.75,0a0.75,0.75 0 1,0 1.5,0a0.75,0.75 0 1,0 -1.5,0M60.1,379.4m-0.75,0a0.75,0.75 0 1,0 1.5,0a0.75,0.75 0 1,0 -1.5,0M67.2,375.0m-0.75,0a0.75,0.75 0 1,0 1.5,0a0.75,0.75 0 1,0 -1.5,0M77.7,387.9m-0.75,0a0.75,0.75 0 1,0 1.5,0a0.75,0.75 0 1,0 -1.5,0M64.4,370.8m-0.75,0a0.75,0.75 0 1,0 1.5,0a0.75,0.75 0 1,0 -1.5,0M66.0,398.1m-0.75,0a0.75,0.75 0 1,0 1.5,0a0.75,0.75 0 1,0 -1.5,0M62.8,382.9m-0.75,0a0.75,0.75 0 1,0 1.5,0a0.75,0.75 0 1,0 -1.5,0M71.3,369.8m-0.75,0a0.75,0.75 0 1,0 1.5,0a0.75,0.75 0 1,0 -1.5,0M65.9,405.9m-0.75,0a0.75,0.75 0 1,0 1.5,0a0.75,0.75 0 1,0 -1.5,0M72.5,384.7m-0.75,0a0.75,0.75 0 1,0 1.5,0a0.75,0.75 0 1,0 -1.5,0M72.5,392.6m-0.75,0a0.75,0.75 0 1,0 1.5,0a0.75,0.75 0 1,0 -1.5,0M79.7,379.5m-0.75,0a0.75,0.75 0 1,0 1.5,0a0.75,0.75 0 1,0 -1.5,0M66.5,383.4m-0.75,0a0.75,0.75 0 1,0 1.5,0a0.75,0.75 0 1,0 -1.5,0M66.0,397.7m-0.75,0a0.75,0.75 0 1,0 1.5,0a0.75,0.75 0 1,0 -1.5,0M53.6,394.5m-0.75,0a0.75,0.75 0 1,0 1.5,0a0.75,0.75 0 1,0 -1.5,0M73.4,400.8m-0.75,0a0.75,0.75 0 1,0 1.5,0a0.75,0.75 0 1,0 -1.5,0M57.3,392.8m-0.75,0a0.75,0.75 0 1,0 1.5,0a0.75,0.75 0 1,0 -1.5,0M55.9,390.9m-0.75,0a0.75,0.75 0 1,0 1.5,0a0.75,0.75 0 1,0 -1.5,0M53.7,399.8m-0.75,0a0.75,0.75 0 1,0 1.5,0a0.75,0.75 0 1,0 -1.5,0M79.0,381.9m-0.75,0a0.75,0.75 0 1,0 1.5,0a0.75,0.75 0 1,0 -1.5,0M73.1,401.9m-0.75,0a0.75,0.75 0 1,0 1.5,0a0.75,0.75 0 1,0 -1.5,0M70.1,381.4m-0.75,0a0.75,0.75 0 1,0 1.5,0a0.75,0.75 0 1,0 -1.5,0M63.1,398.7m-0.75,0a0.75,0.75 0 1,0 1.5,0a0.75,0.75 0 1,0 -1.5,0M76.0,376.5m-0.75,0a0.75,0.75 0 1,0 1.5,0a0.75,0.75 0 1,0 -1.5,0M70.2,375.5m-0.75,0a0.75,0.75 0 1,0 1.5,0a0.75,0.75 0 1,0 -1.5,0M82.8,386.3m-0.75,0a0.75,0.75 0 1,0 1.5,0a0.75,0.75 0 1,0 -1.5,0M69.5,379.3m-0.75,0a0.75,0.75 0 1,0 1.5,0a0.75,0.75 0 1,0 -1.5,0M66.6,374.5m-0.75,0a0.75,0.75 0 1,0 1.5,0a0.75,0.75 0 1,0 -1.5,0M52.5,396.9m-0.75,0a0.75,0.75 0 1,0 1.5,0a0.75,0.75 0 1,0 -1.5,0M60.6,398.3m-0.75,0a0.75,0.75 0 1,0 1.5,0a0.75,0.75 0 1,0 -1.5,0M56.2,397.0m-0.75,0a0.75,0.75 0 1,0 1.5,0a0.75,0.75 0 1,0 -1.5,0M73.6,381.0m-0.75,0a0.75,0.75 0 1,0 1.5,0a0.75,0.75 0 1,0 -1.5,0M51.3,384.5m-0.75,0a0.75,0.75 0 1,0 1.5,0a0.75,0.75 0 1,0 -1.5,0M65.3,373.0m-0.75,0a0.75,0.75 0 1,0 1.5,0a0.75,0.75 0 1,0 -1.5,0M69.2,403.7m-0.75,0a0.75,0.75 0 1,0 1.5,0a0.75,0.75 0 1,0 -1.5,0M73.0,400.8m-0.75,0a0.75,0.75 0 1,0 1.5,0a0.75,0.75 0 1,0 -1.5,0M59.9,401.7m-0.75,0a0.75,0.75 0 1,0 1.5,0a0.75,0.75 0 1,0 -1.5,0M51.7,396.0m-0.75,0a0.75,0.75 0 1,0 1.5,0a0.75,0.75 0 1,0 -1.5,0M50.9,384.6m-0.75,0a0.75,0.75 0 1,0 1.5,0a0.75,0.75 0 1,0 -1.5,0M65.4,383.8m-0.75,0a0.75,0.75 0 1,0 1.5,0a0.75,0.75 0 1,0 -1.5,0M77.3,387.1m-0.75,0a0.75,0.75 0 1,0 1.5,0a0.75,0.75 0 1,0 -1.5,0M68.5,377.3m-0.75,0a0.75,0.75 0 1,0 1.5,0a0.75,0.75 0 1,0 -1.5,0M73.4,381.9m-0.75,0a0.75,0.75 0 1,0 1.5,0a0.75,0.75 0 1,0 -1.5,0M69.0,404.5m-0.75,0a0.75,0.75 0 1,0 1.5,0a0.75,0.75 0 1,0 -1.5,0M59.1,384.0m-0.75,0a0.75,0.75 0 1,0 1.5,0a0.75,0.75 0 1,0 -1.5,0M68.5,404.8m-0.75,0a0.75,0.75 0 1,0 1.5,0a0.75,0.75 0 1,0 -1.5,0M62.0,403.3m-0.75,0a0.75,0.75 0 1,0 1.5,0a0.75,0.75 0 1,0 -1.5,0M75.0,375.0m-0.75,0a0.75,0.75 0 1,0 1.5,0a0.75,0.75 0 1,0 -1.5,0M52.7,394.9m-0.75,0a0.75,0.75 0 1,0 1.5,0a0.75,0.75 0 1,0 -1.5,0M52.2,387.1m-0.75,0a0.75,0.75 0 1,0 1.5,0a0.75,0.75 0 1,0 -1.5,0M70.6,398.1m-0.75,0a0.75,0.75 0 1,0 1.5,0a0.75,0.75 0 1,0 -1.5,0M72.4,402.0m-0.75,0a0.75,0.75 0 1,0 1.5,0a0.75,0.75 0 1,0 -1.5,0M71.5,384.2m-0.75,0a0.75,0.75 0 1,0 1.5,0a0.75,0.75 0 1,0 -1.5,0M70.8,378.5m-0.75,0a0.75,0.75 0 1,0 1.5,0a0.75,0.75 0 1,0 -1.5,0M68.9,382.7m-0.75,0a0.75,0.75 0 1,0 1.5,0a0.75,0.75 0 1,0 -1.5,0M69.5,390.9m-0.75,0a0.75,0.75 0 1,0 1.5,0a0.75,0.75 0 1,0 -1.5,0M66.4,371.4m-0.75,0a0.75,0.75 0 1,0 1.5,0a0.75,0.75 0 1,0 -1.5,0M60.3,385.1m-0.75,0a0.75,0.75 0 1,0 1.5,0a0.75,0.75 0 1,0 -1.5,0M62.9,394.9m-0.75,0a0.75,0.75 0 1,0 1.5,0a0.75,0.75 0 1,0 -1.5,0M73.4,398.0m-0.75,0a0.75,0.75 0 1,0 1.5,0a0.75,0.75 0 1,0 -1.5,0M73.7,398.4m-0.75,0a0.75,0.75 0 1,0 1.5,0a0.75,0.75 0 1,0 -1.5,0M77.0,387.3m-0.75,0a0.75,0.75 0 1,0 1.5,0a0.75,0.75 0 1,0 -1.5,0M48.9,389.8m-0.75,0a0.75,0.75 0 1,0 1.5,0a0.75,0.75 0 1,0 -1.5,0M63.6,374.1m-0.75,0a0.75,0.75 0 1,0 1.5,0a0.75,0.75 0 1,0 -1.5,0M61.8,396.6m-0.75,0a0.75,0.75 0 1,0 1.5,0a0.75,0.75 0 1,0 -1.5,0M66.5,372.6m-0.75,0a0.75,0.75 0 1,0 1.5,0a0.75,0.75 0 1,0 -1.5,0M76.5,372.4m-0.75,0a0.75,0.75 0 1,0 1.5,0a0.75,0.75 0 1,0 -1.5,0M74.1,381.3m-0.75,0a0.75,0.75 0 1,0 1.5,0a0.75,0.75 0 1,0 -1.5,0M52.2,400.0m-0.75,0a0.75,0.75 0 1,0 1.5,0a0.75,0.75 0 1,0 -1.5,0M58.5,385.6m-0.75,0a0.75,0.75 0 1,0 1.5,0a0.75,0.75 0 1,0 -1.5,0M56.4,390.8m-0.75,0a0.75,0.75 0 1,0 1.5,0a0.75,0.75 0 1,0 -1.5,0M59.4,382.2m-0.75,0a0.75,0.75 0 1,0 1.5,0a0.75,0.75 0 1,0 -1.5,0M68.7,373.1m-0.75,0a0.75,0.75 0 1,0 1.5,0a0.75,0.75 0 1,0 -1.5,0M71.2,386.5m-0.75,0a0.75,0.75 0 1,0 1.5,0a0.75,0.75 0 1,0 -1.5,0M77.8,396.4m-0.75,0a0.75,0.75 0 1,0 1.5,0a0.75,0.75 0 1,0 -1.5,0M66.9,404.0m-0.75,0a0.75,0.75 0 1,0 1.5,0a0.75,0.75 0 1,0 -1.5,0M77.7,380.4m-0.75,0a0.75,0.75 0 1,0 1.5,0a0.75,0.75 0 1,0 -1.5,0M53.2,383.5m-0.75,0a0.75,0.75 0 1,0 1.5,0a0.75,0.75 0 1,0 -1.5,0M66.4,372.9m-0.75,0a0.75,0.75 0 1,0 1.5,0a0.75,0.75 0 1,0 -1.5,0M60.0,391.4m-0.75,0a0.75,0.75 0 1,0 1.5,0a0.75,0.75 0 1,0 -1.5,0M71.1,381.3m-0.75,0a0.75,0.75 0 1,0 1.5,0a0.75,0.75 0 1,0 -1.5,0M58.3,382.8m-0.75,0a0.75,0.75 0 1,0 1.5,0a0.75,0.75 0 1,0 -1.5,0M59.3,398.2m-0.75,0a0.75,0.75 0 1,0 1.5,0a0.75,0.75 0 1,0 -1.5,0M65.7,389.5m-0.75,0a0.75,0.75 0 1,0 1.5,0a0.75,0.75 0 1,0 -1.5,0M59.3,381.8m-0.75,0a0.75,0.75 0 1,0 1.5,0a0.75,0.75 0 1,0 -1.5,0M64.9,404.6m-0.75,0a0.75,0.75 0 1,0 1.5,0a0.75,0.75 0 1,0 -1.5,0M52.3,389.5m-0.75,0a0.75,0.75 0 1,0 1.5,0a0.75,0.75 0 1,0 -1.5,0M75.9,396.4m-0.75,0a0.75,0.75 0 1,0 1.5,0a0.75,0.75 0 1,0 -1.5,0M74.6,383.1m-0.75,0a0.75,0.75 0 1,0 1.5,0a0.75,0.75 0 1,0 -1.5,0M62.1,387.2m-0.75,0a0.75,0.75 0 1,0 1.5,0a0.75,0.75 0 1,0 -1.5,0M72.4,391.0m-0.75,0a0.75,0.75 0 1,0 1.5,0a0.75,0.75 0 1,0 -1.5,0M80.4,376.3m-0.75,0a0.75,0.75 0 1,0 1.5,0a0.75,0.75 0 1,0 -1.5,0M62.4,397.4m-0.75,0a0.75,0.75 0 1,0 1.5,0a0.75,0.75 0 1,0 -1.5,0M67.3,379.4m-0.75,0a0.75,0.75 0 1,0 1.5,0a0.75,0.75 0 1,0 -1.5,0M70.4,389.6m-0.75,0a0.75,0.75 0 1,0 1.5,0a0.75,0.75 0 1,0 -1.5,0M78.4,394.1m-0.75,0a0.75,0.75 0 1,0 1.5,0a0.75,0.75 0 1,0 -1.5,0M78.3,396.7m-0.75,0a0.75,0.75 0 1,0 1.5,0a0.75,0.75 0 1,0 -1.5,0M57.8,403.8m-0.75,0a0.75,0.75 0 1,0 1.5,0a0.75,0.75 0 1,0 -1.5,0M69.2,402.8m-0.75,0a0.75,0.75 0 1,0 1.5,0a0.75,0.75 0 1,0 -1.5,0M79.9,385.6m-0.75,0a0.75,0.75 0 1,0 1.5,0a0.75,0.75 0 1,0 -1.5,0M72.0,390.3m-0.75,0a0.75,0.75 0 1,0 1.5,0a0.75,0.75 0 1,0 -1.5,0M73.8,400.8m-0.75,0a0.75,0.75 0 1,0 1.5,0a0.75,0.75 0 1,0 -1.5,0M54.8,398.1m-0.75,0a0.75,0.75 0 1,0 1.5,0a0.75,0.75 0 1,0 -1.5,0M75.5,389.1m-0.75,0a0.75,0.75 0 1,0 1.5,0a0.75,0.75 0 1,0 -1.5,0M65.2,384.8m-0.75,0a0.75,0.75 0 1,0 1.5,0a0.75,0.75 0 1,0 -1.5,0M68.7,370.6m-0.75,0a0.75,0.75 0 1,0 1.5,0a0.75,0.75 0 1,0 -1.5,0M78.4,386.9m-0.75,0a0.75,0.75 0 1,0 1.5,0a0.75,0.75 0 1,0 -1.5,0M54.3,380.7m-0.75,0a0.75,0.75 0 1,0 1.5,0a0.75,0.75 0 1,0 -1.5,0M68.2,390.5m-0.75,0a0.75,0.75 0 1,0 1.5,0a0.75,0.75 0 1,0 -1.5,0M66.6,390.2m-0.75,0a0.75,0.75 0 1,0 1.5,0a0.75,0.75 0 1,0 -1.5,0M62.3,393.6m-0.75,0a0.75,0.75 0 1,0 1.5,0a0.75,0.75 0 1,0 -1.5,0M58.6,380.8m-0.75,0a0.75,0.75 0 1,0 1.5,0a0.75,0.75 0 1,0 -1.5,0M65.9,391.9m-0.75,0a0.75,0.75 0 1,0 1.5,0a0.75,0.75 0 1,0 -1.5,0M67.4,407.1m-0.75,0a0.75,0.75 0 1,0 1.5,0a0.75,0.75 0 1,0 -1.5,0M53.4,393.9m-0.75,0a0.75,0.75 0 1,0 1.5,0a0.75,0.75 0 1,0 -1.5,0M68.0,383.4m-0.75,0a0.75,0.75 0 1,0 1.5,0a0.75,0.75 0 1,0 -1.5,0M62.1,405.5m-0.75,0a0.75,0.75 0 1,0 1.5,0a0.75,0.75 0 1,0 -1.5,0M80.0,395.1m-0.75,0a0.75,0.75 0 1,0 1.5,0a0.75,0.75 0 1,0 -1.5,0M78.2,384.0m-0.75,0a0.75,0.75 0 1,0 1.5,0a0.75,0.75 0 1,0 -1.5,0M64.3,400.1m-0.75,0a0.75,0.75 0 1,0 1.5,0a0.75,0.75 0 1,0 -1.5,0M61.0,398.2m-0.75,0a0.75,0.75 0 1,0 1.5,0a0.75,0.75 0 1,0 -1.5,0M64.9,382.2m-0.75,0a0.75,0.75 0 1,0 1.5,0a0.75,0.75 0 1,0 -1.5,0M64.0,373.6m-0.75,0a0.75,0.75 0 1,0 1.5,0a0.75,0.75 0 1,0 -1.5,0M60.3,385.2m-0.75,0a0.75,0.75 0 1,0 1.5,0a0.75,0.75 0 1,0 -1.5,0M56.9,402.5m-0.75,0a0.75,0.75 0 1,0 1.5,0a0.75,0.75 0 1,0 -1.5,0M68.9,380.2m-0.75,0a0.75,0.75 0 1,0 1.5,0a0.75,0.75 0 1,0 -1.5,0M66.1,397.9m-0.75,0a0.75,0.75 0 1,0 1.5,0a0.75,0.75 0 1,0 -1.5,0M72.6,385.9m-0.75,0a0.75,0.75 0 1,0 1.5,0a0.75,0.75 0 1,0 -1.5,0M75.7,388.0m-0.75,0a0.75,0.75 0 1,0 1.5,0a0.75,0.75 0 1,0 -1.5,0M73.5,388.2m-0.75,0a0.75,0.75 0 1,0 1.5,0a0.75,0.75 0 1,0 -1.5,0M64.9,406.1m-0.75,0a0.75,0.75 0 1,0 1.5,0a0.75,0.75 0 1,0 -1.5,0M62.0,397.2m-0.75,0a0.75,0.75 0 1,0 1.5,0a0.75,0.75 0 1,0 -1.5,0M77.8,372.5m-0.75,0a0.75,0.75 0 1,0 1.5,0a0.75,0.75 0 1,0 -1.5,0M67.4,389.9m-0.75,0a0.75,0.75 0 1,0 1.5,0a0.75,0.75 0 1,0 -1.5,0M67.5,385.4m-0.75,0a0.75,0.75 0 1,0 1.5,0a0.75,0.75 0 1,0 -1.5,0M71.9,373.7m-0.75,0a0.75,0.75 0 1,0 1.5,0a0.75,0.75 0 1,0 -1.5,0M57.1,379.9m-0.75,0a0.75,0.75 0 1,0 1.5,0a0.75,0.75 0 1,0 -1.5,0M64.9,400.0m-0.75,0a0.75,0.75 0 1,0 1.5,0a0.75,0.75 0 1,0 -1.5,0M72.1,372.5m-0.75,0a0.75,0.75 0 1,0 1.5,0a0.75,0.75 0 1,0 -1.5,0M61.6,395.1m-0.75,0a0.75,0.75 0 1,0 1.5,0a0.75,0.75 0 1,0 -1.5,0M58.1,388.8m-0.75,0a0.75,0.75 0 1,0 1.5,0a0.75,0.75 0 1,0 -1.5,0M78.5,373.2m-0.75,0a0.75,0.75 0 1,0 1.5,0a0.75,0.75 0 1,0 -1.5,0M61.5,404.3m-0.75,0a0.75,0.75 0 1,0 1.5,0a0.75,0.75 0 1,0 -1.5,0M54.8,389.3m-0.75,0a0.75,0.75 0 1,0 1.5,0a0.75,0.75 0 1,0 -1.5,0M62.6,403.6m-0.75,0a0.75,0.75 0 1,0 1.5,0a0.75,0.75 0 1,0 -1.5,0M65.3,403.9m-0.75,0a0.75,0.75 0 1,0 1.5,0a0.75,0.75 0 1,0 -1.5,0M67.3,377.4m-0.75,0a0.75,0.75 0 1,0 1.5,0a0.75,0.75 0 1,0 -1.5,0M75.1,382.2m-0.75,0a0.75,0.75 0 1,0 1.5,0a0.75,0.75 0 1,0 -1.5,0M65.1,369.4m-0.75,0a0.75,0.75 0 1,0 1.5,0a0.75,0.75 0 1,0 -1.5,0M57.2,390.1m-0.75,0a0.75,0.75 0 1,0 1.5,0a0.75,0.75 0 1,0 -1.5,0M63.5,398.6m-0.75,0a0.75,0.75 0 1,0 1.5,0a0.75,0.75 0 1,0 -1.5,0M78.1,378.0m-0.75,0a0.75,0.75 0 1,0 1.5,0a0.75,0.75 0 1,0 -1.5,0M57.4,396.6m-0.75,0a0.75,0.75 0 1,0 1.5,0a0.75,0.75 0 1,0 -1.5,0M62.4,374.1m-0.75,0a0.75,0.75 0 1,0 1.5,0a0.75,0.75 0 1,0 -1.5,0M54.5,390.9m-0.75,0a0.75,0.75 0 1,0 1.5,0a0.75,0.75 0 1,0 -1.5,0M66.8,392.8m-0.75,0a0.75,0.75 0 1,0 1.5,0a0.75,0.75 0 1,0 -1.5,0M52.9,385.2m-0.75,0a0.75,0.75 0 1,0 1.5,0a0.75,0.75 0 1,0 -1.5,0M57.6,396.1m-0.75,0a0.75,0.75 0 1,0 1.5,0a0.75,0.75 0 1,0 -1.5,0M57.2,377.4m-0.75,0a0.75,0.75 0 1,0 1.5,0a0.75,0.75 0 1,0 -1.5,0M60.8,387.4m-0.75,0a0.75,0.75 0 1,0 1.5,0a0.75,0.75 0 1,0 -1.5,0M59.7,392.6m-0.75,0a0.75,0.75 0 1,0 1.5,0a0.75,0.75 0 1,0 -1.5,0M72.7,389.9m-0.75,0a0.75,0.75 0 1,0 1.5,0a0.75,0.75 0 1,0 -1.5,0M72.5,394.2m-0.75,0a0.75,0.75 0 1,0 1.5,0a0.75,0.75 0 1,0 -1.5,0M58.9,388.3m-0.75,0a0.75,0.75 0 1,0 1.5,0a0.75,0.75 0 1,0 -1.5,0M59.4,374.0m-0.75,0a0.75,0.75 0 1,0 1.5,0a0.75,0.75 0 1,0 -1.5,0M50.6,390.0m-0.75,0a0.75,0.75 0 1,0 1.5,0a0.75,0.75 0 1,0 -1.5,0M73.0,391.0m-0.75,0a0.75,0.75 0 1,0 1.5,0a0.75,0.75 0 1,0 -1.5,0M72.3,377.9m-0.75,0a0.75,0.75 0 1,0 1.5,0a0.75,0.75 0 1,0 -1.5,0M54.7,391.2m-0.75,0a0.75,0.75 0 1,0 1.5,0a0.75,0.75 0 1,0 -1.5,0M79.6,385.5m-0.75,0a0.75,0.75 0 1,0 1.5,0a0.75,0.75 0 1,0 -1.5,0M58.5,393.0m-0.75,0a0.75,0.75 0 1,0 1.5,0a0.75,0.75 0 1,0 -1.5,0M59.8,392.5m-0.75,0a0.75,0.75 0 1,0 1.5,0a0.75,0.75 0 1,0 -1.5,0M66.3,370.0m-0.75,0a0.75,0.75 0 1,0 1.5,0a0.75,0.75 0 1,0 -1.5,0M59.4,374.5m-0.75,0a0.75,0.75 0 1,0 1.5,0a0.75,0.75 0 1,0 -1.5,0M56.6,399.0m-0.75,0a0.75,0.75 0 1,0 1.5,0a0.75,0.75 0 1,0 -1.5,0M72.2,370.7m-0.75,0a0.75,0.75 0 1,0 1.5,0a0.75,0.75 0 1,0 -1.5,0M50.3,397.3m-0.75,0a0.75,0.75 0 1,0 1.5,0a0.75,0.75 0 1,0 -1.5,0M62.0,405.4m-0.75,0a0.75,0.75 0 1,0 1.5,0a0.75,0.75 0 1,0 -1.5,0M70.7,378.5m-0.75,0a0.75,0.75 0 1,0 1.5,0a0.75,0.75 0 1,0 -1.5,0M72.2,379.7m-0.75,0a0.75,0.75 0 1,0 1.5,0a0.75,0.75 0 1,0 -1.5,0M66.2,381.6m-0.75,0a0.75,0.75 0 1,0 1.5,0a0.75,0.75 0 1,0 -1.5,0M81.9,382.8m-0.75,0a0.75,0.75 0 1,0 1.5,0a0.75,0.75 0 1,0 -1.5,0M76.7,394.0m-0.75,0a0.75,0.75 0 1,0 1.5,0a0.75,0.75 0 1,0 -1.5,0M78.1,392.7m-0.75,0a0.75,0.75 0 1,0 1.5,0a0.75,0.75 0 1,0 -1.5,0M79.1,384.8m-0.75,0a0.75,0.75 0 1,0 1.5,0a0.75,0.75 0 1,0 -1.5,0M72.1,393.2m-0.75,0a0.75,0.75 0 1,0 1.5,0a0.75,0.75 0 1,0 -1.5,0M66.6,391.0m-0.75,0a0.75,0.75 0 1,0 1.5,0a0.75,0.75 0 1,0 -1.5,0M66.9,384.4m-0.75,0a0.75,0.75 0 1,0 1.5,0a0.75,0.75 0 1,0 -1.5,0M80.1,393.7m-0.75,0a0.75,0.75 0 1,0 1.5,0a0.75,0.75 0 1,0 -1.5,0M67.4,371.2m-0.75,0a0.75,0.75 0 1,0 1.5,0a0.75,0.75 0 1,0 -1.5,0M65.9,375.9m-0.75,0a0.75,0.75 0 1,0 1.5,0a0.75,0.75 0 1,0 -1.5,0M55.3,386.0m-0.75,0a0.75,0.75 0 1,0 1.5,0a0.75,0.75 0 1,0 -1.5,0M67.3,378.8m-0.75,0a0.75,0.75 0 1,0 1.5,0a0.75,0.75 0 1,0 -1.5,0M57.3,389.7m-0.75,0a0.75,0.75 0 1,0 1.5,0a0.75,0.75 0 1,0 -1.5,0M64.7,384.8m-0.75,0a0.75,0.75 0 1,0 1.5,0a0.75,0.75 0 1,0 -1.5,0M51.2,383.6m-0.75,0a0.75,0.75 0 1,0 1.5,0a0.75,0.75 0 1,0 -1.5,0M71.2,390.3m-0.75,0a0.75,0.75 0 1,0 1.5,0a0.75,0.75 0 1,0 -1.5,0M67.2,401.9m-0.75,0a0.75,0.75 0 1,0 1.5,0a0.75,0.75 0 1,0 -1.5,0M73.7,395.7m-0.75,0a0.75,0.75 0 1,0 1.5,0a0.75,0.75 0 1,0 -1.5,0M72.3,375.1m-0.75,0a0.75,0.75 0 1,0 1.5,0a0.75,0.75 0 1,0 -1.5,0M80.7,374.6m-0.75,0a0.75,0.75 0 1,0 1.5,0a0.75,0.75 0 1,0 -1.5,0M79.4,377.5m-0.75,0a0.75,0.75 0 1,0 1.5,0a0.75,0.75 0 1,0 -1.5,0M59.6,403.7m-0.75,0a0.75,0.75 0 1,0 1.5,0a0.75,0.75 0 1,0 -1.5,0M61.3,386.2m-0.75,0a0.75,0.75 0 1,0 1.5,0a0.75,0.75 0 1,0 -1.5,0M51.7,392.5m-0.75,0a0.75,0.75 0 1,0 1.5,0a0.75,0.75 0 1,0 -1.5,0M57.3,395.0m-0.75,0a0.75,0.75 0 1,0 1.5,0a0.75,0.75 0 1,0 -1.5,0M76.5,392.6m-0.75,0a0.75,0.75 0 1,0 1.5,0a0.75,0.75 0 1,0 -1.5,0M61.2,390.9m-0.75,0a0.75,0.75 0 1,0 1.5,0a0.75,0.75 0 1,0 -1.5,0M79.5,387.0m-0.75,0a0.75,0.75 0 1,0 1.5,0a0.75,0.75 0 1,0 -1.5,0M75.8,392.4m-0.75,0a0.75,0.75 0 1,0 1.5,0a0.75,0.75 0 1,0 -1.5,0M62.8,405.4m-0.75,0a0.75,0.75 0 1,0 1.5,0a0.75,0.75 0 1,0 -1.5,0M62.3,392.7m-0.75,0a0.75,0.75 0 1,0 1.5,0a0.75,0.75 0 1,0 -1.5,0M49.4,387.4m-0.75,0a0.75,0.75 0 1,0 1.5,0a0.75,0.75 0 1,0 -1.5,0M48.8,396.5m-0.75,0a0.75,0.75 0 1,0 1.5,0a0.75,0.75 0 1,0 -1.5,0M65.9,382.9m-0.75,0a0.75,0.75 0 1,0 1.5,0a0.75,0.75 0 1,0 -1.5,0M56.4,400.5m-0.75,0a0.75,0.75 0 1,0 1.5,0a0.75,0.75 0 1,0 -1.5,0M56.2,391.0m-0.75,0a0.75,0.75 0 1,0 1.5,0a0.75,0.75 0 1,0 -1.5,0M60.5,375.2m-0.75,0a0.75,0.75 0 1,0 1.5,0a0.75,0.75 0 1,0 -1.5,0M58.9,403.3m-0.75,0a0.75,0.75 0 1,0 1.5,0a0.75,0.75 0 1,0 -1.5,0M60.0,394.7m-0.75,0a0.75,0.75 0 1,0 1.5,0a0.75,0.75 0 1,0 -1.5,0M49.5,386.0m-0.75,0a0.75,0.75 0 1,0 1.5,0a0.75,0.75 0 1,0 -1.5,0M61.1,380.5m-0.75,0a0.75,0.75 0 1,0 1.5,0a0.75,0.75 0 1,0 -1.5,0M77.1,386.2m-0.75,0a0.75,0.75 0 1,0 1.5,0a0.75,0.75 0 1,0 -1.5,0M72.9,393.8m-0.75,0a0.75,0.75 0 1,0 1.5,0a0.75,0.75 0 1,0 -1.5,0M66.3,371.2m-0.75,0a0.75,0.75 0 1,0 1.5,0a0.75,0.75 0 1,0 -1.5,0M53.7,394.1m-0.75,0a0.75,0.75 0 1,0 1.5,0a0.75,0.75 0 1,0 -1.5,0M65.2,382.3m-0.75,0a0.75,0.75 0 1,0 1.5,0a0.75,0.75 0 1,0 -1.5,0M61.4,401.5m-0.75,0a0.75,0.75 0 1,0 1.5,0a0.75,0.75 0 1,0 -1.5,0M53.8,397.0m-0.75,0a0.75,0.75 0 1,0 1.5,0a0.75,0.75 0 1,0 -1.5,0M76.0,387.0m-0.75,0a0.75,0.75 0 1,0 1.5,0a0.75,0.75 0 1,0 -1.5,0M64.6,388.2m-0.75,0a0.75,0.75 0 1,0 1.5,0a0.75,0.75 0 1,0 -1.5,0M75.6,397.2m-0.75,0a0.75,0.75 0 1,0 1.5,0a0.75,0.75 0 1,0 -1.5,0M54.5,386.2m-0.75,0a0.75,0.75 0 1,0 1.5,0a0.75,0.75 0 1,0 -1.5,0M67.2,391.3m-0.75,0a0.75,0.75 0 1,0 1.5,0a0.75,0.75 0 1,0 -1.5,0M52.9,383.7m-0.75,0a0.75,0.75 0 1,0 1.5,0a0.75,0.75 0 1,0 -1.5,0M75.3,395.0m-0.75,0a0.75,0.75 0 1,0 1.5,0a0.75,0.75 0 1,0 -1.5,0M76.5,380.3m-0.75,0a0.75,0.75 0 1,0 1.5,0a0.75,0.75 0 1,0 -1.5,0M70.5,397.7m-0.75,0a0.75,0.75 0 1,0 1.5,0a0.75,0.75 0 1,0 -1.5,0M80.6,390.0m-0.75,0a0.75,0.75 0 1,0 1.5,0a0.75,0.75 0 1,0 -1.5,0M59.9,378.4m-0.75,0a0.75,0.75 0 1,0 1.5,0a0.75,0.75 0 1,0 -1.5,0M68.7,389.0m-0.75,0a0.75,0.75 0 1,0 1.5,0a0.75,0.75 0 1,0 -1.5,0M63.0,400.0m-0.75,0a0.75,0.75 0 1,0 1.5,0a0.75,0.75 0 1,0 -1.5,0M72.9,396.0m-0.75,0a0.75,0.75 0 1,0 1.5,0a0.75,0.75 0 1,0 -1.5,0M71.2,390.0m-0.75,0a0.75,0.75 0 1,0 1.5,0a0.75,0.75 0 1,0 -1.5,0M56.5,399.4m-0.75,0a0.75,0.75 0 1,0 1.5,0a0.75,0.75 0 1,0 -1.5,0M51.8,394.1m-0.75,0a0.75,0.75 0 1,0 1.5,0a0.75,0.75 0 1,0 -1.5,0M61.5,390.9m-0.75,0a0.75,0.75 0 1,0 1.5,0a0.75,0.75 0 1,0 -1.5,0M70.8,387.7m-0.75,0a0.75,0.75 0 1,0 1.5,0a0.75,0.75 0 1,0 -1.5,0M58.8,379.9m-0.75,0a0.75,0.75 0 1,0 1.5,0a0.75,0.75 0 1,0 -1.5,0M62.6,392.2m-0.75,0a0.75,0.75 0 1,0 1.5,0a0.75,0.75 0 1,0 -1.5,0M59.0,389.9m-0.75,0a0.75,0.75 0 1,0 1.5,0a0.75,0.75 0 1,0 -1.5,0M63.8,388.6m-0.75,0a0.75,0.75 0 1,0 1.5,0a0.75,0.75 0 1,0 -1.5,0M62.6,375.6m-0.75,0a0.75,0.75 0 1,0 1.5,0a0.75,0.75 0 1,0 -1.5,0M61.8,384.2m-0.75,0a0.75,0.75 0 1,0 1.5,0a0.75,0.75 0 1,0 -1.5,0M54.7,400.9m-0.75,0a0.75,0.75 0 1,0 1.5,0a0.75,0.75 0 1,0 -1.5,0M60.5,375.0m-0.75,0a0.75,0.75 0 1,0 1.5,0a0.75,0.75 0 1,0 -1.5,0M68.1,402.0m-0.75,0a0.75,0.75 0 1,0 1.5,0a0.75,0.75 0 1,0 -1.5,0M75.8,393.3m-0.75,0a0.75,0.75 0 1,0 1.5,0a0.75,0.75 0 1,0 -1.5,0M74.0,382.2m-0.75,0a0.75,0.75 0 1,0 1.5,0a0.75,0.75 0 1,0 -1.5,0M60.1,379.9m-0.75,0a0.75,0.75 0 1,0 1.5,0a0.75,0.75 0 1,0 -1.5,0M64.5,374.9m-0.75,0a0.75,0.75 0 1,0 1.5,0a0.75,0.75 0 1,0 -1.5,0M54.6,400.3m-0.75,0a0.75,0.75 0 1,0 1.5,0a0.75,0.75 0 1,0 -1.5,0M67.0,376.8m-0.75,0a0.75,0.75 0 1,0 1.5,0a0.75,0.75 0 1,0 -1.5,0M63.0,403.0m-0.75,0a0.75,0.75 0 1,0 1.5,0a0.75,0.75 0 1,0 -1.5,0M68.4,390.6m-0.75,0a0.75,0.75 0 1,0 1.5,0a0.75,0.75 0 1,0 -1.5,0M61.7,376.7m-0.75,0a0.75,0.75 0 1,0 1.5,0a0.75,0.75 0 1,0 -1.5,0M70.2,372.1m-0.75,0a0.75,0.75 0 1,0 1.5,0a0.75,0.75 0 1,0 -1.5,0M76.0,371.3m-0.75,0a0.75,0.75 0 1,0 1.5,0a0.75,0.75 0 1,0 -1.5,0M74.6,384.0m-0.75,0a0.75,0.75 0 1,0 1.5,0a0.75,0.75 0 1,0 -1.5,0M72.3,392.1m-0.75,0a0.75,0.75 0 1,0 1.5,0a0.75,0.75 0 1,0 -1.5,0M52.1,390.0m-0.75,0a0.75,0.75 0 1,0 1.5,0a0.75,0.75 0 1,0 -1.5,0M61.3,380.2m-0.75,0a0.75,0.75 0 1,0 1.5,0a0.75,0.75 0 1,0 -1.5,0M60.4,401.7m-0.75,0a0.75,0.75 0 1,0 1.5,0a0.75,0.75 0 1,0 -1.5,0M55.6,396.7m-0.75,0a0.75,0.75 0 1,0 1.5,0a0.75,0.75 0 1,0 -1.5,0M60.1,389.9m-0.75,0a0.75,0.75 0 1,0 1.5,0a0.75,0.75 0 1,0 -1.5,0M55.0,387.1m-0.75,0a0.75,0.75 0 1,0 1.5,0a0.75,0.75 0 1,0 -1.5,0M58.0,400.6m-0.75,0a0.75,0.75 0 1,0 1.5,0a0.75,0.75 0 1,0 -1.5,0M69.0,393.0m-0.75,0a0.75,0.75 0 1,0 1.5,0a0.75,0.75 0 1,0 -1.5,0M74.9,379.0m-0.75,0a0.75,0.75 0 1,0 1.5,0a0.75,0.75 0 1,0 -1.5,0M58.9,400.7m-0.75,0a0.75,0.75 0 1,0 1.5,0a0.75,0.75 0 1,0 -1.5,0M70.5,378.6m-0.75,0a0.75,0.75 0 1,0 1.5,0a0.75,0.75 0 1,0 -1.5,0M55.0,388.8m-0.75,0a0.75,0.75 0 1,0 1.5,0a0.75,0.75 0 1,0 -1.5,0M73.2,401.0m-0.75,0a0.75,0.75 0 1,0 1.5,0a0.75,0.75 0 1,0 -1.5,0M61.4,405.0m-0.75,0a0.75,0.75 0 1,0 1.5,0a0.75,0.75 0 1,0 -1.5,0M52.3,397.0m-0.75,0a0.75,0.75 0 1,0 1.5,0a0.75,0.75 0 1,0 -1.5,0M75.2,383.8m-0.75,0a0.75,0.75 0 1,0 1.5,0a0.75,0.75 0 1,0 -1.5,0M65.0,393.0m-0.75,0a0.75,0.75 0 1,0 1.5,0a0.75,0.75 0 1,0 -1.5,0M57.2,393.9m-0.75,0a0.75,0.75 0 1,0 1.5,0a0.75,0.75 0 1,0 -1.5,0M65.7,402.4m-0.75,0a0.75,0.75 0 1,0 1.5,0a0.75,0.75 0 1,0 -1.5,0M62.8,379.7m-0.75,0a0.75,0.75 0 1,0 1.5,0a0.75,0.75 0 1,0 -1.5,0M52.2,390.8m-0.75,0a0.75,0.75 0 1,0 1.5,0a0.75,0.75 0 1,0 -1.5,0M63.9,370.8m-0.75,0a0.75,0.75 0 1,0 1.5,0a0.75,0.75 0 1,0 -1.5,0M55.2,401.1m-0.75,0a0.75,0.75 0 1,0 1.5,0a0.75,0.75 0 1,0 -1.5,0M67.0,405.1m-0.75,0a0.75,0.75 0 1,0 1.5,0a0.75,0.75 0 1,0 -1.5,0M72.1,370.7m-0.75,0a0.75,0.75 0 1,0 1.5,0a0.75,0.75 0 1,0 -1.5,0M62.8,386.3m-0.75,0a0.75,0.75 0 1,0 1.5,0a0.75,0.75 0 1,0 -1.5,0M54.4,388.9m-0.75,0a0.75,0.75 0 1,0 1.5,0a0.75,0.75 0 1,0 -1.5,0M66.4,376.7m-0.75,0a0.75,0.75 0 1,0 1.5,0a0.75,0.75 0 1,0 -1.5,0M60.5,403.2m-0.75,0a0.75,0.75 0 1,0 1.5,0a0.75,0.75 0 1,0 -1.5,0M64.1,401.5m-0.75,0a0.75,0.75 0 1,0 1.5,0a0.75,0.75 0 1,0 -1.5,0M80.4,380.2m-0.75,0a0.75,0.75 0 1,0 1.5,0a0.75,0.75 0 1,0 -1.5,0M49.0,388.6m-0.75,0a0.75,0.75 0 1,0 1.5,0a0.75,0.75 0 1,0 -1.5,0M70.9,384.4m-0.75,0a0.75,0.75 0 1,0 1.5,0a0.75,0.75 0 1,0 -1.5,0M80.4,387.4m-0.75,0a0.75,0.75 0 1,0 1.5,0a0.75,0.75 0 1,0 -1.5,0M81.4,390.6m-0.75,0a0.75,0.75 0 1,0 1.5,0a0.75,0.75 0 1,0 -1.5,0M80.5,387.6m-0.75,0a0.75,0.75 0 1,0 1.5,0a0.75,0.75 0 1,0 -1.5,0M63.0,392.0m-0.75,0a0.75,0.75 0 1,0 1.5,0a0.75,0.75 0 1,0 -1.5,0M59.0,374.9m-0.75,0a0.75,0.75 0 1,0 1.5,0a0.75,0.75 0 1,0 -1.5,0M68.9,402.2m-0.75,0a0.75,0.75 0 1,0 1.5,0a0.75,0.75 0 1,0 -1.5,0M57.5,402.7m-0.75,0a0.75,0.75 0 1,0 1.5,0a0.75,0.75 0 1,0 -1.5,0M76.1,399.3m-0.75,0a0.75,0.75 0 1,0 1.5,0a0.75,0.75 0 1,0 -1.5,0M76.2,391.5m-0.75,0a0.75,0.75 0 1,0 1.5,0a0.75,0.75 0 1,0 -1.5,0M51.6,391.4m-0.75,0a0.75,0.75 0 1,0 1.5,0a0.75,0.75 0 1,0 -1.5,0M59.7,383.4m-0.75,0a0.75,0.75 0 1,0 1.5,0a0.75,0.75 0 1,0 -1.5,0M67.5,393.9m-0.75,0a0.75,0.75 0 1,0 1.5,0a0.75,0.75 0 1,0 -1.5,0M68.6,387.9m-0.75,0a0.75,0.75 0 1,0 1.5,0a0.75,0.75 0 1,0 -1.5,0M70.5,402.0m-0.75,0a0.75,0.75 0 1,0 1.5,0a0.75,0.75 0 1,0 -1.5,0M63.7,388.5m-0.75,0a0.75,0.75 0 1,0 1.5,0a0.75,0.75 0 1,0 -1.5,0M53.3,381.7m-0.75,0a0.75,0.75 0 1,0 1.5,0a0.75,0.75 0 1,0 -1.5,0M59.0,388.9m-0.75,0a0.75,0.75 0 1,0 1.5,0a0.75,0.75 0 1,0 -1.5,0M78.4,392.8m-0.75,0a0.75,0.75 0 1,0 1.5,0a0.75,0.75 0 1,0 -1.5,0M70.4,401.0m-0.75,0a0.75,0.75 0 1,0 1.5,0a0.75,0.75 0 1,0 -1.5,0M67.5,391.4m-0.75,0a0.75,0.75 0 1,0 1.5,0a0.75,0.75 0 1,0 -1.5,0M69.9,372.0m-0.75,0a0.75,0.75 0 1,0 1.5,0a0.75,0.75 0 1,0 -1.5,0M57.7,397.3m-0.75,0a0.75,0.75 0 1,0 1.5,0a0.75,0.75 0 1,0 -1.5,0M57.0,377.3m-0.75,0a0.75,0.75 0 1,0 1.5,0a0.75,0.75 0 1,0 -1.5,0M57.5,387.8m-0.75,0a0.75,0.75 0 1,0 1.5,0a0.75,0.75 0 1,0 -1.5,0M74.3,380.8m-0.75,0a0.75,0.75 0 1,0 1.5,0a0.75,0.75 0 1,0 -1.5,0M77.3,372.0m-0.75,0a0.75,0.75 0 1,0 1.5,0a0.75,0.75 0 1,0 -1.5,0M78.7,374.3m-0.75,0a0.75,0.75 0 1,0 1.5,0a0.75,0.75 0 1,0 -1.5,0M63.5,383.2m-0.75,0a0.75,0.75 0 1,0 1.5,0a0.75,0.75 0 1,0 -1.5,0M58.9,398.3m-0.75,0a0.75,0.75 0 1,0 1.5,0a0.75,0.75 0 1,0 -1.5,0M68.8,394.9m-0.75,0a0.75,0.75 0 1,0 1.5,0a0.75,0.75 0 1,0 -1.5,0M79.2,385.6m-0.75,0a0.75,0.75 0 1,0 1.5,0a0.75,0.75 0 1,0 -1.5,0M68.8,373.8m-0.75,0a0.75,0.75 0 1,0 1.5,0a0.75,0.75 0 1,0 -1.5,0M57.1,376.7m-0.75,0a0.75,0.75 0 1,0 1.5,0a0.75,0.75 0 1,0 -1.5,0M73.7,377.6m-0.75,0a0.75,0.75 0 1,0 1.5,0a0.75,0.75 0 1,0 -1.5,0M56.7,390.6m-0.75,0a0.75,0.75 0 1,0 1.5,0a0.75,0.75 0 1,0 -1.5,0M50.5,400.9m-0.75,0a0.75,0.75 0 1,0 1.5,0a0.75,0.75 0 1,0 -1.5,0M48.7,389.6m-0.75,0a0.75,0.75 0 1,0 1.5,0a0.75,0.75 0 1,0 -1.5,0M55.1,380.3m-0.75,0a0.75,0.75 0 1,0 1.5,0a0.75,0.75 0 1,0 -1.5,0M65.3,383.5m-0.75,0a0.75,0.75 0 1,0 1.5,0a0.75,0.75 0 1,0 -1.5,0M61.7,394.5m-0.75,0a0.75,0.75 0 1,0 1.5,0a0.75,0.75 0 1,0 -1.5,0M72.3,380.6m-0.75,0a0.75,0.75 0 1,0 1.5,0a0.75,0.75 0 1,0 -1.5,0M81.4,385.7m-0.75,0a0.75,0.75 0 1,0 1.5,0a0.75,0.75 0 1,0 -1.5,0M64.7,370.0m-0.75,0a0.75,0.75 0 1,0 1.5,0a0.75,0.75 0 1,0 -1.5,0M70.2,394.9m-0.75,0a0.75,0.75 0 1,0 1.5,0a0.75,0.75 0 1,0 -1.5,0M82.1,385.9m-0.75,0a0.75,0.75 0 1,0 1.5,0a0.75,0.75 0 1,0 -1.5,0M73.2,382.4m-0.75,0a0.75,0.75 0 1,0 1.5,0a0.75,0.75 0 1,0 -1.5,0M50.1,385.4m-0.75,0a0.75,0.75 0 1,0 1.5,0a0.75,0.75 0 1,0 -1.5,0M73.0,400.4m-0.75,0a0.75,0.75 0 1,0 1.5,0a0.75,0.75 0 1,0 -1.5,0M67.9,390.5m-0.75,0a0.75,0.75 0 1,0 1.5,0a0.75,0.75 0 1,0 -1.5,0M65.7,387.7m-0.75,0a0.75,0.75 0 1,0 1.5,0a0.75,0.75 0 1,0 -1.5,0M72.2,391.5m-0.75,0a0.75,0.75 0 1,0 1.5,0a0.75,0.75 0 1,0 -1.5,0M78.6,386.6m-0.75,0a0.75,0.75 0 1,0 1.5,0a0.75,0.75 0 1,0 -1.5,0M64.6,401.5m-0.75,0a0.75,0.75 0 1,0 1.5,0a0.75,0.75 0 1,0 -1.5,0M72.0,389.5m-0.75,0a0.75,0.75 0 1,0 1.5,0a0.75,0.75 0 1,0 -1.5,0M67.9,400.4m-0.75,0a0.75,0.75 0 1,0 1.5,0a0.75,0.75 0 1,0 -1.5,0M69.5,379.2m-0.75,0a0.75,0.75 0 1,0 1.5,0a0.75,0.75 0 1,0 -1.5,0M58.7,392.6m-0.75,0a0.75,0.75 0 1,0 1.5,0a0.75,0.75 0 1,0 -1.5,0M49.1,386.9m-0.75,0a0.75,0.75 0 1,0 1.5,0a0.75,0.75 0 1,0 -1.5,0M79.9,378.1m-0.75,0a0.75,0.75 0 1,0 1.5,0a0.75,0.75 0 1,0 -1.5,0" fill="#f2a88c"/>
<path d="M48.1,400.1 C50.3,399.3 53.5,400.6 56.0,401.8 C58.5,403.0 62.0,405.3 63.0,407.2 C64.0,409.1 62.5,411.1 62.0,413.2 C61.5,415.2 60.9,417.4 60.0,419.5 C59.1,421.6 57.8,424.3 56.5,426.0 C55.2,427.7 54.3,428.8 52.0,429.5 C49.7,430.2 45.7,430.8 42.9,430.2 C40.1,429.6 37.0,427.9 35.3,426.0 C33.6,424.1 32.8,421.0 32.9,418.8 C33.0,416.6 34.1,415.1 35.8,413.0 C37.5,410.9 40.8,408.6 42.9,406.5 C45.0,404.4 45.9,400.9 48.1,400.1 Z" fill="#e8707c"/>
<path d="M58.3,422.4m-0.75,0a0.75,0.75 0 1,0 1.5,0a0.75,0.75 0 1,0 -1.5,0M53.3,409.3m-0.75,0a0.75,0.75 0 1,0 1.5,0a0.75,0.75 0 1,0 -1.5,0M51.3,418.4m-0.75,0a0.75,0.75 0 1,0 1.5,0a0.75,0.75 0 1,0 -1.5,0M50.6,404.7m-0.75,0a0.75,0.75 0 1,0 1.5,0a0.75,0.75 0 1,0 -1.5,0M46.0,411.9m-0.75,0a0.75,0.75 0 1,0 1.5,0a0.75,0.75 0 1,0 -1.5,0M46.4,408.1m-0.75,0a0.75,0.75 0 1,0 1.5,0a0.75,0.75 0 1,0 -1.5,0M47.0,409.6m-0.75,0a0.75,0.75 0 1,0 1.5,0a0.75,0.75 0 1,0 -1.5,0M44.5,427.1m-0.75,0a0.75,0.75 0 1,0 1.5,0a0.75,0.75 0 1,0 -1.5,0M48.9,417.0m-0.75,0a0.75,0.75 0 1,0 1.5,0a0.75,0.75 0 1,0 -1.5,0M53.4,405.4m-0.75,0a0.75,0.75 0 1,0 1.5,0a0.75,0.75 0 1,0 -1.5,0M55.3,427.6m-0.75,0a0.75,0.75 0 1,0 1.5,0a0.75,0.75 0 1,0 -1.5,0M56.1,424.0m-0.75,0a0.75,0.75 0 1,0 1.5,0a0.75,0.75 0 1,0 -1.5,0M43.7,429.9m-0.75,0a0.75,0.75 0 1,0 1.5,0a0.75,0.75 0 1,0 -1.5,0M55.8,421.7m-0.75,0a0.75,0.75 0 1,0 1.5,0a0.75,0.75 0 1,0 -1.5,0M46.9,416.1m-0.75,0a0.75,0.75 0 1,0 1.5,0a0.75,0.75 0 1,0 -1.5,0M47.8,428.1m-0.75,0a0.75,0.75 0 1,0 1.5,0a0.75,0.75 0 1,0 -1.5,0M48.1,425.3m-0.75,0a0.75,0.75 0 1,0 1.5,0a0.75,0.75 0 1,0 -1.5,0M43.7,426.9m-0.75,0a0.75,0.75 0 1,0 1.5,0a0.75,0.75 0 1,0 -1.5,0M60.3,414.0m-0.75,0a0.75,0.75 0 1,0 1.5,0a0.75,0.75 0 1,0 -1.5,0M50.2,428.0m-0.75,0a0.75,0.75 0 1,0 1.5,0a0.75,0.75 0 1,0 -1.5,0M54.9,414.7m-0.75,0a0.75,0.75 0 1,0 1.5,0a0.75,0.75 0 1,0 -1.5,0M39.7,409.8m-0.75,0a0.75,0.75 0 1,0 1.5,0a0.75,0.75 0 1,0 -1.5,0M54.2,404.9m-0.75,0a0.75,0.75 0 1,0 1.5,0a0.75,0.75 0 1,0 -1.5,0M60.5,408.1m-0.75,0a0.75,0.75 0 1,0 1.5,0a0.75,0.75 0 1,0 -1.5,0M60.6,409.3m-0.75,0a0.75,0.75 0 1,0 1.5,0a0.75,0.75 0 1,0 -1.5,0M48.2,415.7m-0.75,0a0.75,0.75 0 1,0 1.5,0a0.75,0.75 0 1,0 -1.5,0M52.7,417.8m-0.75,0a0.75,0.75 0 1,0 1.5,0a0.75,0.75 0 1,0 -1.5,0M48.5,428.4m-0.75,0a0.75,0.75 0 1,0 1.5,0a0.75,0.75 0 1,0 -1.5,0M51.9,402.2m-0.75,0a0.75,0.75 0 1,0 1.5,0a0.75,0.75 0 1,0 -1.5,0M57.9,422.1m-0.75,0a0.75,0.75 0 1,0 1.5,0a0.75,0.75 0 1,0 -1.5,0M60.5,405.7m-0.75,0a0.75,0.75 0 1,0 1.5,0a0.75,0.75 0 1,0 -1.5,0M55.6,401.7m-0.75,0a0.75,0.75 0 1,0 1.5,0a0.75,0.75 0 1,0 -1.5,0M52.8,408.2m-0.75,0a0.75,0.75 0 1,0 1.5,0a0.75,0.75 0 1,0 -1.5,0M39.8,426.6m-0.75,0a0.75,0.75 0 1,0 1.5,0a0.75,0.75 0 1,0 -1.5,0M36.1,415.8m-0.75,0a0.75,0.75 0 1,0 1.5,0a0.75,0.75 0 1,0 -1.5,0M58.9,407.4m-0.75,0a0.75,0.75 0 1,0 1.5,0a0.75,0.75 0 1,0 -1.5,0M39.3,426.8m-0.75,0a0.75,0.75 0 1,0 1.5,0a0.75,0.75 0 1,0 -1.5,0M45.8,421.8m-0.75,0a0.75,0.75 0 1,0 1.5,0a0.75,0.75 0 1,0 -1.5,0M38.1,420.4m-0.75,0a0.75,0.75 0 1,0 1.5,0a0.75,0.75 0 1,0 -1.5,0M33.7,422.2m-0.75,0a0.75,0.75 0 1,0 1.5,0a0.75,0.75 0 1,0 -1.5,0M57.7,404.7m-0.75,0a0.75,0.75 0 1,0 1.5,0a0.75,0.75 0 1,0 -1.5,0M38.5,421.0m-0.75,0a0.75,0.75 0 1,0 1.5,0a0.75,0.75 0 1,0 -1.5,0M51.6,422.6m-0.75,0a0.75,0.75 0 1,0 1.5,0a0.75,0.75 0 1,0 -1.5,0M56.2,422.5m-0.75,0a0.75,0.75 0 1,0 1.5,0a0.75,0.75 0 1,0 -1.5,0M59.1,421.4m-0.75,0a0.75,0.75 0 1,0 1.5,0a0.75,0.75 0 1,0 -1.5,0M47.3,406.8m-0.75,0a0.75,0.75 0 1,0 1.5,0a0.75,0.75 0 1,0 -1.5,0M53.0,409.5m-0.75,0a0.75,0.75 0 1,0 1.5,0a0.75,0.75 0 1,0 -1.5,0M36.0,413.6m-0.75,0a0.75,0.75 0 1,0 1.5,0a0.75,0.75 0 1,0 -1.5,0M50.7,411.9m-0.75,0a0.75,0.75 0 1,0 1.5,0a0.75,0.75 0 1,0 -1.5,0M48.6,404.3m-0.75,0a0.75,0.75 0 1,0 1.5,0a0.75,0.75 0 1,0 -1.5,0M62.1,407.8m-0.75,0a0.75,0.75 0 1,0 1.5,0a0.75,0.75 0 1,0 -1.5,0M51.3,412.7m-0.75,0a0.75,0.75 0 1,0 1.5,0a0.75,0.75 0 1,0 -1.5,0M33.4,416.9m-0.75,0a0.75,0.75 0 1,0 1.5,0a0.75,0.75 0 1,0 -1.5,0M35.8,419.3m-0.75,0a0.75,0.75 0 1,0 1.5,0a0.75,0.75 0 1,0 -1.5,0M48.4,429.9m-0.75,0a0.75,0.75 0 1,0 1.5,0a0.75,0.75 0 1,0 -1.5,0M40.0,413.5m-0.75,0a0.75,0.75 0 1,0 1.5,0a0.75,0.75 0 1,0 -1.5,0M40.5,417.9m-0.75,0a0.75,0.75 0 1,0 1.5,0a0.75,0.75 0 1,0 -1.5,0M51.9,424.3m-0.75,0a0.75,0.75 0 1,0 1.5,0a0.75,0.75 0 1,0 -1.5,0M54.5,407.7m-0.75,0a0.75,0.75 0 1,0 1.5,0a0.75,0.75 0 1,0 -1.5,0M45.8,416.0m-0.75,0a0.75,0.75 0 1,0 1.5,0a0.75,0.75 0 1,0 -1.5,0M45.3,403.3m-0.75,0a0.75,0.75 0 1,0 1.5,0a0.75,0.75 0 1,0 -1.5,0M54.9,407.2m-0.75,0a0.75,0.75 0 1,0 1.5,0a0.75,0.75 0 1,0 -1.5,0M48.7,414.1m-0.75,0a0.75,0.75 0 1,0 1.5,0a0.75,0.75 0 1,0 -1.5,0M42.3,419.5m-0.75,0a0.75,0.75 0 1,0 1.5,0a0.75,0.75 0 1,0 -1.5,0M39.4,427.6m-0.75,0a0.75,0.75 0 1,0 1.5,0a0.75,0.75 0 1,0 -1.5,0M46.1,415.5m-0.75,0a0.75,0.75 0 1,0 1.5,0a0.75,0.75 0 1,0 -1.5,0M50.6,401.4m-0.75,0a0.75,0.75 0 1,0 1.5,0a0.75,0.75 0 1,0 -1.5,0M45.6,415.9m-0.75,0a0.75,0.75 0 1,0 1.5,0a0.75,0.75 0 1,0 -1.5,0M57.3,411.1m-0.75,0a0.75,0.75 0 1,0 1.5,0a0.75,0.75 0 1,0 -1.5,0M48.7,428.0m-0.75,0a0.75,0.75 0 1,0 1.5,0a0.75,0.75 0 1,0 -1.5,0M51.5,408.7m-0.75,0a0.75,0.75 0 1,0 1.5,0a0.75,0.75 0 1,0 -1.5,0M62.8,411.2m-0.75,0a0.75,0.75 0 1,0 1.5,0a0.75,0.75 0 1,0 -1.5,0M33.5,420.8m-0.75,0a0.75,0.75 0 1,0 1.5,0a0.75,0.75 0 1,0 -1.5,0M58.5,420.4m-0.75,0a0.75,0.75 0 1,0 1.5,0a0.75,0.75 0 1,0 -1.5,0M45.4,414.7m-0.75,0a0.75,0.75 0 1,0 1.5,0a0.75,0.75 0 1,0 -1.5,0M39.2,417.9m-0.75,0a0.75,0.75 0 1,0 1.5,0a0.75,0.75 0 1,0 -1.5,0M44.2,428.5m-0.75,0a0.75,0.75 0 1,0 1.5,0a0.75,0.75 0 1,0 -1.5,0M35.2,422.9m-0.75,0a0.75,0.75 0 1,0 1.5,0a0.75,0.75 0 1,0 -1.5,0M38.8,417.3m-0.75,0a0.75,0.75 0 1,0 1.5,0a0.75,0.75 0 1,0 -1.5,0M44.8,414.0m-0.75,0a0.75,0.75 0 1,0 1.5,0a0.75,0.75 0 1,0 -1.5,0M55.8,411.9m-0.75,0a0.75,0.75 0 1,0 1.5,0a0.75,0.75 0 1,0 -1.5,0M35.4,425.9m-0.75,0a0.75,0.75 0 1,0 1.5,0a0.75,0.75 0 1,0 -1.5,0M52.4,429.2m-0.75,0a0.75,0.75 0 1,0 1.5,0a0.75,0.75 0 1,0 -1.5,0M53.0,423.6m-0.75,0a0.75,0.75 0 1,0 1.5,0a0.75,0.75 0 1,0 -1.5,0M54.9,415.1m-0.75,0a0.75,0.75 0 1,0 1.5,0a0.75,0.75 0 1,0 -1.5,0M43.8,413.8m-0.75,0a0.75,0.75 0 1,0 1.5,0a0.75,0.75 0 1,0 -1.5,0M57.2,408.1m-0.75,0a0.75,0.75 0 1,0 1.5,0a0.75,0.75 0 1,0 -1.5,0M48.9,414.5m-0.75,0a0.75,0.75 0 1,0 1.5,0a0.75,0.75 0 1,0 -1.5,0M47.8,407.8m-0.75,0a0.75,0.75 0 1,0 1.5,0a0.75,0.75 0 1,0 -1.5,0M45.9,420.6m-0.75,0a0.75,0.75 0 1,0 1.5,0a0.75,0.75 0 1,0 -1.5,0M57.8,402.8m-0.75,0a0.75,0.75 0 1,0 1.5,0a0.75,0.75 0 1,0 -1.5,0M43.7,430.4m-0.75,0a0.75,0.75 0 1,0 1.5,0a0.75,0.75 0 1,0 -1.5,0M37.4,412.6m-0.75,0a0.75,0.75 0 1,0 1.5,0a0.75,0.75 0 1,0 -1.5,0M52.6,403.8m-0.75,0a0.75,0.75 0 1,0 1.5,0a0.75,0.75 0 1,0 -1.5,0M53.3,420.7m-0.75,0a0.75,0.75 0 1,0 1.5,0a0.75,0.75 0 1,0 -1.5,0M46.3,415.9m-0.75,0a0.75,0.75 0 1,0 1.5,0a0.75,0.75 0 1,0 -1.5,0M36.3,416.4m-0.75,0a0.75,0.75 0 1,0 1.5,0a0.75,0.75 0 1,0 -1.5,0M35.8,415.7m-0.75,0a0.75,0.75 0 1,0 1.5,0a0.75,0.75 0 1,0 -1.5,0M54.7,407.7m-0.75,0a0.75,0.75 0 1,0 1.5,0a0.75,0.75 0 1,0 -1.5,0M60.1,414.0m-0.75,0a0.75,0.75 0 1,0 1.5,0a0.75,0.75 0 1,0 -1.5,0M54.3,412.2m-0.75,0a0.75,0.75 0 1,0 1.5,0a0.75,0.75 0 1,0 -1.5,0M50.4,404.3m-0.75,0a0.75,0.75 0 1,0 1.5,0a0.75,0.75 0 1,0 -1.5,0M51.0,426.8m-0.75,0a0.75,0.75 0 1,0 1.5,0a0.75,0.75 0 1,0 -1.5,0M38.4,415.5m-0.75,0a0.75,0.75 0 1,0 1.5,0a0.75,0.75 0 1,0 -1.5,0M47.6,412.2m-0.75,0a0.75,0.75 0 1,0 1.5,0a0.75,0.75 0 1,0 -1.5,0M54.4,414.3m-0.75,0a0.75,0.75 0 1,0 1.5,0a0.75,0.75 0 1,0 -1.5,0M62.2,410.0m-0.75,0a0.75,0.75 0 1,0 1.5,0a0.75,0.75 0 1,0 -1.5,0M55.6,420.0m-0.75,0a0.75,0.75 0 1,0 1.5,0a0.75,0.75 0 1,0 -1.5,0M56.1,425.9m-0.75,0a0.75,0.75 0 1,0 1.5,0a0.75,0.75 0 1,0 -1.5,0M39.7,418.9m-0.75,0a0.75,0.75 0 1,0 1.5,0a0.75,0.75 0 1,0 -1.5,0M45.2,420.3m-0.75,0a0.75,0.75 0 1,0 1.5,0a0.75,0.75 0 1,0 -1.5,0M54.6,426.9m-0.75,0a0.75,0.75 0 1,0 1.5,0a0.75,0.75 0 1,0 -1.5,0M52.7,424.8m-0.75,0a0.75,0.75 0 1,0 1.5,0a0.75,0.75 0 1,0 -1.5,0M55.1,418.4m-0.75,0a0.75,0.75 0 1,0 1.5,0a0.75,0.75 0 1,0 -1.5,0M36.0,424.8m-0.75,0a0.75,0.75 0 1,0 1.5,0a0.75,0.75 0 1,0 -1.5,0M56.2,406.0m-0.75,0a0.75,0.75 0 1,0 1.5,0a0.75,0.75 0 1,0 -1.5,0M55.6,417.8m-0.75,0a0.75,0.75 0 1,0 1.5,0a0.75,0.75 0 1,0 -1.5,0M38.7,424.4m-0.75,0a0.75,0.75 0 1,0 1.5,0a0.75,0.75 0 1,0 -1.5,0M37.1,418.6m-0.75,0a0.75,0.75 0 1,0 1.5,0a0.75,0.75 0 1,0 -1.5,0M46.1,407.6m-0.75,0a0.75,0.75 0 1,0 1.5,0a0.75,0.75 0 1,0 -1.5,0M50.1,414.1m-0.75,0a0.75,0.75 0 1,0 1.5,0a0.75,0.75 0 1,0 -1.5,0M47.7,425.5m-0.75,0a0.75,0.75 0 1,0 1.5,0a0.75,0.75 0 1,0 -1.5,0M52.9,422.9m-0.75,0a0.75,0.75 0 1,0 1.5,0a0.75,0.75 0 1,0 -1.5,0M47.7,420.5m-0.75,0a0.75,0.75 0 1,0 1.5,0a0.75,0.75 0 1,0 -1.5,0M43.1,408.0m-0.75,0a0.75,0.75 0 1,0 1.5,0a0.75,0.75 0 1,0 -1.5,0M48.2,400.7m-0.75,0a0.75,0.75 0 1,0 1.5,0a0.75,0.75 0 1,0 -1.5,0M35.3,422.9m-0.75,0a0.75,0.75 0 1,0 1.5,0a0.75,0.75 0 1,0 -1.5,0M38.2,422.8m-0.75,0a0.75,0.75 0 1,0 1.5,0a0.75,0.75 0 1,0 -1.5,0M56.8,412.2m-0.75,0a0.75,0.75 0 1,0 1.5,0a0.75,0.75 0 1,0 -1.5,0M53.4,423.9m-0.75,0a0.75,0.75 0 1,0 1.5,0a0.75,0.75 0 1,0 -1.5,0M59.2,404.0m-0.75,0a0.75,0.75 0 1,0 1.5,0a0.75,0.75 0 1,0 -1.5,0M37.8,411.5m-0.75,0a0.75,0.75 0 1,0 1.5,0a0.75,0.75 0 1,0 -1.5,0M47.0,408.9m-0.75,0a0.75,0.75 0 1,0 1.5,0a0.75,0.75 0 1,0 -1.5,0M33.2,416.9m-0.75,0a0.75,0.75 0 1,0 1.5,0a0.75,0.75 0 1,0 -1.5,0M62.3,411.1m-0.75,0a0.75,0.75 0 1,0 1.5,0a0.75,0.75 0 1,0 -1.5,0M49.3,411.6m-0.75,0a0.75,0.75 0 1,0 1.5,0a0.75,0.75 0 1,0 -1.5,0M46.4,426.5m-0.75,0a0.75,0.75 0 1,0 1.5,0a0.75,0.75 0 1,0 -1.5,0M42.3,419.7m-0.75,0a0.75,0.75 0 1,0 1.5,0a0.75,0.75 0 1,0 -1.5,0M47.6,416.3m-0.75,0a0.75,0.75 0 1,0 1.5,0a0.75,0.75 0 1,0 -1.5,0M58.0,409.2m-0.75,0a0.75,0.75 0 1,0 1.5,0a0.75,0.75 0 1,0 -1.5,0M52.6,424.2m-0.75,0a0.75,0.75 0 1,0 1.5,0a0.75,0.75 0 1,0 -1.5,0M52.8,411.9m-0.75,0a0.75,0.75 0 1,0 1.5,0a0.75,0.75 0 1,0 -1.5,0M52.2,411.8m-0.75,0a0.75,0.75 0 1,0 1.5,0a0.75,0.75 0 1,0 -1.5,0M49.0,425.9m-0.75,0a0.75,0.75 0 1,0 1.5,0a0.75,0.75 0 1,0 -1.5,0M57.2,419.1m-0.75,0a0.75,0.75 0 1,0 1.5,0a0.75,0.75 0 1,0 -1.5,0M42.3,407.0m-0.75,0a0.75,0.75 0 1,0 1.5,0a0.75,0.75 0 1,0 -1.5,0M46.8,407.0m-0.75,0a0.75,0.75 0 1,0 1.5,0a0.75,0.75 0 1,0 -1.5,0M41.3,429.1m-0.75,0a0.75,0.75 0 1,0 1.5,0a0.75,0.75 0 1,0 -1.5,0M36.3,424.9m-0.75,0a0.75,0.75 0 1,0 1.5,0a0.75,0.75 0 1,0 -1.5,0M44.4,411.0m-0.75,0a0.75,0.75 0 1,0 1.5,0a0.75,0.75 0 1,0 -1.5,0M46.8,405.0m-0.75,0a0.75,0.75 0 1,0 1.5,0a0.75,0.75 0 1,0 -1.5,0M46.4,408.8m-0.75,0a0.75,0.75 0 1,0 1.5,0a0.75,0.75 0 1,0 -1.5,0M46.4,419.4m-0.75,0a0.75,0.75 0 1,0 1.5,0a0.75,0.75 0 1,0 -1.5,0M61.2,409.8m-0.75,0a0.75,0.75 0 1,0 1.5,0a0.75,0.75 0 1,0 -1.5,0M38.7,420.6m-0.75,0a0.75,0.75 0 1,0 1.5,0a0.75,0.75 0 1,0 -1.5,0M44.3,410.8m-0.75,0a0.75,0.75 0 1,0 1.5,0a0.75,0.75 0 1,0 -1.5,0M57.1,407.0m-0.75,0a0.75,0.75 0 1,0 1.5,0a0.75,0.75 0 1,0 -1.5,0M57.5,419.2m-0.75,0a0.75,0.75 0 1,0 1.5,0a0.75,0.75 0 1,0 -1.5,0M45.1,425.0m-0.75,0a0.75,0.75 0 1,0 1.5,0a0.75,0.75 0 1,0 -1.5,0M43.3,426.7m-0.75,0a0.75,0.75 0 1,0 1.5,0a0.75,0.75 0 1,0 -1.5,0M61.1,415.2m-0.75,0a0.75,0.75 0 1,0 1.5,0a0.75,0.75 0 1,0 -1.5,0M55.5,422.8m-0.75,0a0.75,0.75 0 1,0 1.5,0a0.75,0.75 0 1,0 -1.5,0M41.8,418.9m-0.75,0a0.75,0.75 0 1,0 1.5,0a0.75,0.75 0 1,0 -1.5,0M53.3,411.1m-0.75,0a0.75,0.75 0 1,0 1.5,0a0.75,0.75 0 1,0 -1.5,0M44.9,405.2m-0.75,0a0.75,0.75 0 1,0 1.5,0a0.75,0.75 0 1,0 -1.5,0M62.0,410.7m-0.75,0a0.75,0.75 0 1,0 1.5,0a0.75,0.75 0 1,0 -1.5,0M47.4,427.2m-0.75,0a0.75,0.75 0 1,0 1.5,0a0.75,0.75 0 1,0 -1.5,0M43.6,410.8m-0.75,0a0.75,0.75 0 1,0 1.5,0a0.75,0.75 0 1,0 -1.5,0M56.1,413.2m-0.75,0a0.75,0.75 0 1,0 1.5,0a0.75,0.75 0 1,0 -1.5,0M49.4,407.1m-0.75,0a0.75,0.75 0 1,0 1.5,0a0.75,0.75 0 1,0 -1.5,0M58.3,411.8m-0.75,0a0.75,0.75 0 1,0 1.5,0a0.75,0.75 0 1,0 -1.5,0M41.6,419.4m-0.75,0a0.75,0.75 0 1,0 1.5,0a0.75,0.75 0 1,0 -1.5,0M40.5,412.7m-0.75,0a0.75,0.75 0 1,0 1.5,0a0.75,0.75 0 1,0 -1.5,0M40.5,410.3m-0.75,0a0.75,0.75 0 1,0 1.5,0a0.75,0.75 0 1,0 -1.5,0M51.5,410.2m-0.75,0a0.75,0.75 0 1,0 1.5,0a0.75,0.75 0 1,0 -1.5,0M44.2,423.3m-0.75,0a0.75,0.75 0 1,0 1.5,0a0.75,0.75 0 1,0 -1.5,0M58.8,413.0m-0.75,0a0.75,0.75 0 1,0 1.5,0a0.75,0.75 0 1,0 -1.5,0M56.6,403.9m-0.75,0a0.75,0.75 0 1,0 1.5,0a0.75,0.75 0 1,0 -1.5,0M48.8,425.7m-0.75,0a0.75,0.75 0 1,0 1.5,0a0.75,0.75 0 1,0 -1.5,0M43.2,423.3m-0.75,0a0.75,0.75 0 1,0 1.5,0a0.75,0.75 0 1,0 -1.5,0M51.5,411.9m-0.75,0a0.75,0.75 0 1,0 1.5,0a0.75,0.75 0 1,0 -1.5,0M47.3,418.8m-0.75,0a0.75,0.75 0 1,0 1.5,0a0.75,0.75 0 1,0 -1.5,0M42.5,425.5m-0.75,0a0.75,0.75 0 1,0 1.5,0a0.75,0.75 0 1,0 -1.5,0M51.1,417.8m-0.75,0a0.75,0.75 0 1,0 1.5,0a0.75,0.75 0 1,0 -1.5,0M49.3,430.0m-0.75,0a0.75,0.75 0 1,0 1.5,0a0.75,0.75 0 1,0 -1.5,0M46.7,412.5m-0.75,0a0.75,0.75 0 1,0 1.5,0a0.75,0.75 0 1,0 -1.5,0M48.9,401.3m-0.75,0a0.75,0.75 0 1,0 1.5,0a0.75,0.75 0 1,0 -1.5,0M53.6,427.8m-0.75,0a0.75,0.75 0 1,0 1.5,0a0.75,0.75 0 1,0 -1.5,0M53.3,402.7m-0.75,0a0.75,0.75 0 1,0 1.5,0a0.75,0.75 0 1,0 -1.5,0M40.3,414.6m-0.75,0a0.75,0.75 0 1,0 1.5,0a0.75,0.75 0 1,0 -1.5,0M49.9,404.1m-0.75,0a0.75,0.75 0 1,0 1.5,0a0.75,0.75 0 1,0 -1.5,0M48.2,401.7m-0.75,0a0.75,0.75 0 1,0 1.5,0a0.75,0.75 0 1,0 -1.5,0M39.0,427.9m-0.75,0a0.75,0.75 0 1,0 1.5,0a0.75,0.75 0 1,0 -1.5,0M57.9,415.9m-0.75,0a0.75,0.75 0 1,0 1.5,0a0.75,0.75 0 1,0 -1.5,0M53.7,426.6m-0.75,0a0.75,0.75 0 1,0 1.5,0a0.75,0.75 0 1,0 -1.5,0M37.2,414.9m-0.75,0a0.75,0.75 0 1,0 1.5,0a0.75,0.75 0 1,0 -1.5,0M44.4,418.9m-0.75,0a0.75,0.75 0 1,0 1.5,0a0.75,0.75 0 1,0 -1.5,0M54.7,415.4m-0.75,0a0.75,0.75 0 1,0 1.5,0a0.75,0.75 0 1,0 -1.5,0M60.8,404.9m-0.75,0a0.75,0.75 0 1,0 1.5,0a0.75,0.75 0 1,0 -1.5,0M36.1,424.9m-0.75,0a0.75,0.75 0 1,0 1.5,0a0.75,0.75 0 1,0 -1.5,0M52.0,406.3m-0.75,0a0.75,0.75 0 1,0 1.5,0a0.75,0.75 0 1,0 -1.5,0M44.4,409.0m-0.75,0a0.75,0.75 0 1,0 1.5,0a0.75,0.75 0 1,0 -1.5,0M46.0,412.9m-0.75,0a0.75,0.75 0 1,0 1.5,0a0.75,0.75 0 1,0 -1.5,0M45.0,424.3m-0.75,0a0.75,0.75 0 1,0 1.5,0a0.75,0.75 0 1,0 -1.5,0M57.6,417.1m-0.75,0a0.75,0.75 0 1,0 1.5,0a0.75,0.75 0 1,0 -1.5,0M47.3,408.6m-0.75,0a0.75,0.75 0 1,0 1.5,0a0.75,0.75 0 1,0 -1.5,0M39.9,421.4m-0.75,0a0.75,0.75 0 1,0 1.5,0a0.75,0.75 0 1,0 -1.5,0M54.2,420.0m-0.75,0a0.75,0.75 0 1,0 1.5,0a0.75,0.75 0 1,0 -1.5,0M33.8,416.7m-0.75,0a0.75,0.75 0 1,0 1.5,0a0.75,0.75 0 1,0 -1.5,0M50.5,419.6m-0.75,0a0.75,0.75 0 1,0 1.5,0a0.75,0.75 0 1,0 -1.5,0M51.9,422.6m-0.75,0a0.75,0.75 0 1,0 1.5,0a0.75,0.75 0 1,0 -1.5,0M54.3,414.4m-0.75,0a0.75,0.75 0 1,0 1.5,0a0.75,0.75 0 1,0 -1.5,0M34.4,423.5m-0.75,0a0.75,0.75 0 1,0 1.5,0a0.75,0.75 0 1,0 -1.5,0M51.1,401.0m-0.75,0a0.75,0.75 0 1,0 1.5,0a0.75,0.75 0 1,0 -1.5,0M52.3,416.5m-0.75,0a0.75,0.75 0 1,0 1.5,0a0.75,0.75 0 1,0 -1.5,0M47.0,408.8m-0.75,0a0.75,0.75 0 1,0 1.5,0a0.75,0.75 0 1,0 -1.5,0M39.3,425.1m-0.75,0a0.75,0.75 0 1,0 1.5,0a0.75,0.75 0 1,0 -1.5,0M54.2,408.3m-0.75,0a0.75,0.75 0 1,0 1.5,0a0.75,0.75 0 1,0 -1.5,0M60.4,417.3m-0.75,0a0.75,0.75 0 1,0 1.5,0a0.75,0.75 0 1,0 -1.5,0M45.5,412.6m-0.75,0a0.75,0.75 0 1,0 1.5,0a0.75,0.75 0 1,0 -1.5,0M54.8,413.8m-0.75,0a0.75,0.75 0 1,0 1.5,0a0.75,0.75 0 1,0 -1.5,0M53.0,403.6m-0.75,0a0.75,0.75 0 1,0 1.5,0a0.75,0.75 0 1,0 -1.5,0M54.3,408.2m-0.75,0a0.75,0.75 0 1,0 1.5,0a0.75,0.75 0 1,0 -1.5,0M60.6,406.4m-0.75,0a0.75,0.75 0 1,0 1.5,0a0.75,0.75 0 1,0 -1.5,0M43.0,416.3m-0.75,0a0.75,0.75 0 1,0 1.5,0a0.75,0.75 0 1,0 -1.5,0M44.8,415.9m-0.75,0a0.75,0.75 0 1,0 1.5,0a0.75,0.75 0 1,0 -1.5,0M61.0,406.0m-0.75,0a0.75,0.75 0 1,0 1.5,0a0.75,0.75 0 1,0 -1.5,0M56.4,421.1m-0.75,0a0.75,0.75 0 1,0 1.5,0a0.75,0.75 0 1,0 -1.5,0M56.8,413.6m-0.75,0a0.75,0.75 0 1,0 1.5,0a0.75,0.75 0 1,0 -1.5,0M46.7,410.4m-0.75,0a0.75,0.75 0 1,0 1.5,0a0.75,0.75 0 1,0 -1.5,0M47.3,407.7m-0.75,0a0.75,0.75 0 1,0 1.5,0a0.75,0.75 0 1,0 -1.5,0M38.7,414.4m-0.75,0a0.75,0.75 0 1,0 1.5,0a0.75,0.75 0 1,0 -1.5,0M38.7,414.2m-0.75,0a0.75,0.75 0 1,0 1.5,0a0.75,0.75 0 1,0 -1.5,0M50.3,409.3m-0.75,0a0.75,0.75 0 1,0 1.5,0a0.75,0.75 0 1,0 -1.5,0M38.1,418.4m-0.75,0a0.75,0.75 0 1,0 1.5,0a0.75,0.75 0 1,0 -1.5,0M59.1,406.7m-0.75,0a0.75,0.75 0 1,0 1.5,0a0.75,0.75 0 1,0 -1.5,0M51.6,420.0m-0.75,0a0.75,0.75 0 1,0 1.5,0a0.75,0.75 0 1,0 -1.5,0M58.4,409.0m-0.75,0a0.75,0.75 0 1,0 1.5,0a0.75,0.75 0 1,0 -1.5,0M42.6,407.7m-0.75,0a0.75,0.75 0 1,0 1.5,0a0.75,0.75 0 1,0 -1.5,0M54.9,410.3m-0.75,0a0.75,0.75 0 1,0 1.5,0a0.75,0.75 0 1,0 -1.5,0M46.3,412.7m-0.75,0a0.75,0.75 0 1,0 1.5,0a0.75,0.75 0 1,0 -1.5,0M50.5,403.9m-0.75,0a0.75,0.75 0 1,0 1.5,0a0.75,0.75 0 1,0 -1.5,0M37.5,418.4m-0.75,0a0.75,0.75 0 1,0 1.5,0a0.75,0.75 0 1,0 -1.5,0M50.8,427.8m-0.75,0a0.75,0.75 0 1,0 1.5,0a0.75,0.75 0 1,0 -1.5,0M52.5,415.0m-0.75,0a0.75,0.75 0 1,0 1.5,0a0.75,0.75 0 1,0 -1.5,0M39.1,421.4m-0.75,0a0.75,0.75 0 1,0 1.5,0a0.75,0.75 0 1,0 -1.5,0M59.5,417.9m-0.75,0a0.75,0.75 0 1,0 1.5,0a0.75,0.75 0 1,0 -1.5,0M54.3,415.9m-0.75,0a0.75,0.75 0 1,0 1.5,0a0.75,0.75 0 1,0 -1.5,0M34.8,420.2m-0.75,0a0.75,0.75 0 1,0 1.5,0a0.75,0.75 0 1,0 -1.5,0M37.1,418.9m-0.75,0a0.75,0.75 0 1,0 1.5,0a0.75,0.75 0 1,0 -1.5,0M44.8,413.2m-0.75,0a0.75,0.75 0 1,0 1.5,0a0.75,0.75 0 1,0 -1.5,0M62.4,411.8m-0.75,0a0.75,0.75 0 1,0 1.5,0a0.75,0.75 0 1,0 -1.5,0M47.3,411.5m-0.75,0a0.75,0.75 0 1,0 1.5,0a0.75,0.75 0 1,0 -1.5,0M49.1,424.9m-0.75,0a0.75,0.75 0 1,0 1.5,0a0.75,0.75 0 1,0 -1.5,0M53.4,401.5m-0.75,0a0.75,0.75 0 1,0 1.5,0a0.75,0.75 0 1,0 -1.5,0M54.4,412.1m-0.75,0a0.75,0.75 0 1,0 1.5,0a0.75,0.75 0 1,0 -1.5,0M48.6,403.0m-0.75,0a0.75,0.75 0 1,0 1.5,0a0.75,0.75 0 1,0 -1.5,0M48.4,415.8m-0.75,0a0.75,0.75 0 1,0 1.5,0a0.75,0.75 0 1,0 -1.5,0M56.7,417.6m-0.75,0a0.75,0.75 0 1,0 1.5,0a0.75,0.75 0 1,0 -1.5,0M54.4,422.3m-0.75,0a0.75,0.75 0 1,0 1.5,0a0.75,0.75 0 1,0 -1.5,0M47.5,403.8m-0.75,0a0.75,0.75 0 1,0 1.5,0a0.75,0.75 0 1,0 -1.5,0M49.3,418.7m-0.75,0a0.75,0.75 0 1,0 1.5,0a0.75,0.75 0 1,0 -1.5,0M52.6,428.7m-0.75,0a0.75,0.75 0 1,0 1.5,0a0.75,0.75 0 1,0 -1.5,0M36.0,416.9m-0.75,0a0.75,0.75 0 1,0 1.5,0a0.75,0.75 0 1,0 -1.5,0M35.5,420.3m-0.75,0a0.75,0.75 0 1,0 1.5,0a0.75,0.75 0 1,0 -1.5,0M46.2,404.2m-0.75,0a0.75,0.75 0 1,0 1.5,0a0.75,0.75 0 1,0 -1.5,0M42.4,420.1m-0.75,0a0.75,0.75 0 1,0 1.5,0a0.75,0.75 0 1,0 -1.5,0M47.3,428.7m-0.75,0a0.75,0.75 0 1,0 1.5,0a0.75,0.75 0 1,0 -1.5,0M43.7,410.3m-0.75,0a0.75,0.75 0 1,0 1.5,0a0.75,0.75 0 1,0 -1.5,0M36.2,423.8m-0.75,0a0.75,0.75 0 1,0 1.5,0a0.75,0.75 0 1,0 -1.5,0M44.0,428.8m-0.75,0a0.75,0.75 0 1,0 1.5,0a0.75,0.75 0 1,0 -1.5,0M52.3,424.5m-0.75,0a0.75,0.75 0 1,0 1.5,0a0.75,0.75 0 1,0 -1.5,0M60.2,415.4m-0.75,0a0.75,0.75 0 1,0 1.5,0a0.75,0.75 0 1,0 -1.5,0M43.3,425.5m-0.75,0a0.75,0.75 0 1,0 1.5,0a0.75,0.75 0 1,0 -1.5,0M33.2,420.4m-0.75,0a0.75,0.75 0 1,0 1.5,0a0.75,0.75 0 1,0 -1.5,0M49.3,418.5m-0.75,0a0.75,0.75 0 1,0 1.5,0a0.75,0.75 0 1,0 -1.5,0M46.2,412.7m-0.75,0a0.75,0.75 0 1,0 1.5,0a0.75,0.75 0 1,0 -1.5,0M57.0,404.8m-0.75,0a0.75,0.75 0 1,0 1.5,0a0.75,0.75 0 1,0 -1.5,0M34.3,418.0m-0.75,0a0.75,0.75 0 1,0 1.5,0a0.75,0.75 0 1,0 -1.5,0M53.4,408.9m-0.75,0a0.75,0.75 0 1,0 1.5,0a0.75,0.75 0 1,0 -1.5,0M40.4,424.0m-0.75,0a0.75,0.75 0 1,0 1.5,0a0.75,0.75 0 1,0 -1.5,0M60.1,412.2m-0.75,0a0.75,0.75 0 1,0 1.5,0a0.75,0.75 0 1,0 -1.5,0M51.1,401.9m-0.75,0a0.75,0.75 0 1,0 1.5,0a0.75,0.75 0 1,0 -1.5,0M48.1,408.5m-0.75,0a0.75,0.75 0 1,0 1.5,0a0.75,0.75 0 1,0 -1.5,0M52.7,401.5m-0.75,0a0.75,0.75 0 1,0 1.5,0a0.75,0.75 0 1,0 -1.5,0M48.6,416.0m-0.75,0a0.75,0.75 0 1,0 1.5,0a0.75,0.75 0 1,0 -1.5,0M45.2,427.8m-0.75,0a0.75,0.75 0 1,0 1.5,0a0.75,0.75 0 1,0 -1.5,0M36.8,412.9m-0.75,0a0.75,0.75 0 1,0 1.5,0a0.75,0.75 0 1,0 -1.5,0M46.9,411.3m-0.75,0a0.75,0.75 0 1,0 1.5,0a0.75,0.75 0 1,0 -1.5,0M48.6,413.3m-0.75,0a0.75,0.75 0 1,0 1.5,0a0.75,0.75 0 1,0 -1.5,0M46.2,428.9m-0.75,0a0.75,0.75 0 1,0 1.5,0a0.75,0.75 0 1,0 -1.5,0M57.2,419.7m-0.75,0a0.75,0.75 0 1,0 1.5,0a0.75,0.75 0 1,0 -1.5,0M37.8,418.0m-0.75,0a0.75,0.75 0 1,0 1.5,0a0.75,0.75 0 1,0 -1.5,0M33.6,421.4m-0.75,0a0.75,0.75 0 1,0 1.5,0a0.75,0.75 0 1,0 -1.5,0M50.2,407.5m-0.75,0a0.75,0.75 0 1,0 1.5,0a0.75,0.75 0 1,0 -1.5,0M46.4,414.1m-0.75,0a0.75,0.75 0 1,0 1.5,0a0.75,0.75 0 1,0 -1.5,0M45.8,408.1m-0.75,0a0.75,0.75 0 1,0 1.5,0a0.75,0.75 0 1,0 -1.5,0M39.6,422.8m-0.75,0a0.75,0.75 0 1,0 1.5,0a0.75,0.75 0 1,0 -1.5,0M51.8,400.7m-0.75,0a0.75,0.75 0 1,0 1.5,0a0.75,0.75 0 1,0 -1.5,0M42.1,425.5m-0.75,0a0.75,0.75 0 1,0 1.5,0a0.75,0.75 0 1,0 -1.5,0M50.2,420.8m-0.75,0a0.75,0.75 0 1,0 1.5,0a0.75,0.75 0 1,0 -1.5,0M40.4,421.6m-0.75,0a0.75,0.75 0 1,0 1.5,0a0.75,0.75 0 1,0 -1.5,0M44.0,425.8m-0.75,0a0.75,0.75 0 1,0 1.5,0a0.75,0.75 0 1,0 -1.5,0M47.0,420.1m-0.75,0a0.75,0.75 0 1,0 1.5,0a0.75,0.75 0 1,0 -1.5,0M49.8,416.2m-0.75,0a0.75,0.75 0 1,0 1.5,0a0.75,0.75 0 1,0 -1.5,0M46.9,429.0m-0.75,0a0.75,0.75 0 1,0 1.5,0a0.75,0.75 0 1,0 -1.5,0M55.9,412.7m-0.75,0a0.75,0.75 0 1,0 1.5,0a0.75,0.75 0 1,0 -1.5,0M48.3,427.3m-0.75,0a0.75,0.75 0 1,0 1.5,0a0.75,0.75 0 1,0 -1.5,0M55.6,419.8m-0.75,0a0.75,0.75 0 1,0 1.5,0a0.75,0.75 0 1,0 -1.5,0M51.1,418.9m-0.75,0a0.75,0.75 0 1,0 1.5,0a0.75,0.75 0 1,0 -1.5,0M46.7,429.3m-0.75,0a0.75,0.75 0 1,0 1.5,0a0.75,0.75 0 1,0 -1.5,0M62.3,411.8m-0.75,0a0.75,0.75 0 1,0 1.5,0a0.75,0.75 0 1,0 -1.5,0M51.7,423.3m-0.75,0a0.75,0.75 0 1,0 1.5,0a0.75,0.75 0 1,0 -1.5,0M54.1,411.0m-0.75,0a0.75,0.75 0 1,0 1.5,0a0.75,0.75 0 1,0 -1.5,0M57.2,410.5m-0.75,0a0.75,0.75 0 1,0 1.5,0a0.75,0.75 0 1,0 -1.5,0M37.4,420.2m-0.75,0a0.75,0.75 0 1,0 1.5,0a0.75,0.75 0 1,0 -1.5,0M52.7,412.4m-0.75,0a0.75,0.75 0 1,0 1.5,0a0.75,0.75 0 1,0 -1.5,0M48.1,430.1m-0.75,0a0.75,0.75 0 1,0 1.5,0a0.75,0.75 0 1,0 -1.5,0M57.5,412.3m-0.75,0a0.75,0.75 0 1,0 1.5,0a0.75,0.75 0 1,0 -1.5,0M60.6,417.3m-0.75,0a0.75,0.75 0 1,0 1.5,0a0.75,0.75 0 1,0 -1.5,0M45.2,419.6m-0.75,0a0.75,0.75 0 1,0 1.5,0a0.75,0.75 0 1,0 -1.5,0M53.3,420.3m-0.75,0a0.75,0.75 0 1,0 1.5,0a0.75,0.75 0 1,0 -1.5,0M46.7,403.4m-0.75,0a0.75,0.75 0 1,0 1.5,0a0.75,0.75 0 1,0 -1.5,0M61.6,410.9m-0.75,0a0.75,0.75 0 1,0 1.5,0a0.75,0.75 0 1,0 -1.5,0M51.3,422.3m-0.75,0a0.75,0.75 0 1,0 1.5,0a0.75,0.75 0 1,0 -1.5,0M38.3,425.3m-0.75,0a0.75,0.75 0 1,0 1.5,0a0.75,0.75 0 1,0 -1.5,0M51.2,412.2m-0.75,0a0.75,0.75 0 1,0 1.5,0a0.75,0.75 0 1,0 -1.5,0M60.9,413.5m-0.75,0a0.75,0.75 0 1,0 1.5,0a0.75,0.75 0 1,0 -1.5,0M54.6,401.4m-0.75,0a0.75,0.75 0 1,0 1.5,0a0.75,0.75 0 1,0 -1.5,0M42.9,414.5m-0.75,0a0.75,0.75 0 1,0 1.5,0a0.75,0.75 0 1,0 -1.5,0M59.5,419.4m-0.75,0a0.75,0.75 0 1,0 1.5,0a0.75,0.75 0 1,0 -1.5,0M50.4,406.7m-0.75,0a0.75,0.75 0 1,0 1.5,0a0.75,0.75 0 1,0 -1.5,0M51.5,404.9m-0.75,0a0.75,0.75 0 1,0 1.5,0a0.75,0.75 0 1,0 -1.5,0M42.1,425.2m-0.75,0a0.75,0.75 0 1,0 1.5,0a0.75,0.75 0 1,0 -1.5,0M50.2,422.1m-0.75,0a0.75,0.75 0 1,0 1.5,0a0.75,0.75 0 1,0 -1.5,0M47.1,408.4m-0.75,0a0.75,0.75 0 1,0 1.5,0a0.75,0.75 0 1,0 -1.5,0M48.2,417.4m-0.75,0a0.75,0.75 0 1,0 1.5,0a0.75,0.75 0 1,0 -1.5,0M40.3,425.7m-0.75,0a0.75,0.75 0 1,0 1.5,0a0.75,0.75 0 1,0 -1.5,0M40.3,424.7m-0.75,0a0.75,0.75 0 1,0 1.5,0a0.75,0.75 0 1,0 -1.5,0M54.9,406.7m-0.75,0a0.75,0.75 0 1,0 1.5,0a0.75,0.75 0 1,0 -1.5,0M50.7,407.1m-0.75,0a0.75,0.75 0 1,0 1.5,0a0.75,0.75 0 1,0 -1.5,0M59.2,417.8m-0.75,0a0.75,0.75 0 1,0 1.5,0a0.75,0.75 0 1,0 -1.5,0M48.4,404.8m-0.75,0a0.75,0.75 0 1,0 1.5,0a0.75,0.75 0 1,0 -1.5,0M45.2,414.3m-0.75,0a0.75,0.75 0 1,0 1.5,0a0.75,0.75 0 1,0 -1.5,0M43.9,405.4m-0.75,0a0.75,0.75 0 1,0 1.5,0a0.75,0.75 0 1,0 -1.5,0M38.9,421.3m-0.75,0a0.75,0.75 0 1,0 1.5,0a0.75,0.75 0 1,0 -1.5,0M51.6,424.0m-0.75,0a0.75,0.75 0 1,0 1.5,0a0.75,0.75 0 1,0 -1.5,0M35.5,423.7m-0.75,0a0.75,0.75 0 1,0 1.5,0a0.75,0.75 0 1,0 -1.5,0M44.9,425.4m-0.75,0a0.75,0.75 0 1,0 1.5,0a0.75,0.75 0 1,0 -1.5,0M42.2,417.3m-0.75,0a0.75,0.75 0 1,0 1.5,0a0.75,0.75 0 1,0 -1.5,0M47.3,403.6m-0.75,0a0.75,0.75 0 1,0 1.5,0a0.75,0.75 0 1,0 -1.5,0M46.7,429.2m-0.75,0a0.75,0.75 0 1,0 1.5,0a0.75,0.75 0 1,0 -1.5,0M47.6,402.2m-0.75,0a0.75,0.75 0 1,0 1.5,0a0.75,0.75 0 1,0 -1.5,0M57.5,416.0m-0.75,0a0.75,0.75 0 1,0 1.5,0a0.75,0.75 0 1,0 -1.5,0M57.2,408.6m-0.75,0a0.75,0.75 0 1,0 1.5,0a0.75,0.75 0 1,0 -1.5,0M39.2,412.6m-0.75,0a0.75,0.75 0 1,0 1.5,0a0.75,0.75 0 1,0 -1.5,0" fill="#d2343f"/>
<path d="M135.3,321.1 C136.1,319.9 137.2,318.7 139.5,318.0 C141.8,317.3 146.7,316.7 149.0,316.9 C151.3,317.1 151.9,317.6 153.3,319.0 C154.7,320.4 156.1,323.6 157.5,325.4 C158.9,327.2 160.1,329.2 161.7,329.6 C163.3,330.0 164.9,327.9 167.0,327.5 C169.1,327.1 172.3,326.8 174.4,327.5 C176.5,328.2 178.8,329.8 179.7,331.7 C180.6,333.6 180.4,337.2 179.7,339.1 C179.0,341.0 176.6,341.4 175.5,343.3 C174.4,345.2 174.9,349.2 173.3,350.7 C171.7,352.2 169.2,352.0 165.9,352.4 C162.6,352.8 156.6,353.3 153.3,352.9 C150.0,352.4 147.5,351.3 145.9,349.7 C144.3,348.1 143.5,345.4 143.7,343.3 C143.9,341.2 145.8,338.4 146.9,337.0 C148.0,335.6 149.0,334.8 150.0,335.0 C151.0,335.2 152.2,336.9 153.0,338.0 C153.8,339.1 153.9,341.1 155.0,341.5 C156.1,341.9 158.4,341.4 159.5,340.5 C160.6,339.6 161.3,337.3 161.5,336.0 C161.7,334.7 161.2,333.5 160.5,332.5 C159.8,331.5 158.6,330.8 157.0,330.0 C155.4,329.2 153.5,327.6 151.1,327.5 C148.7,327.4 145.0,329.2 142.7,329.6 C140.4,330.0 138.7,330.3 137.4,329.6 C136.1,328.9 135.0,326.8 134.7,325.4 C134.3,324.0 134.5,322.3 135.3,321.1 Z" fill="#f5b88a"/>
<path d="M151.5,338.7m-0.75,0a0.75,0.75 0 1,0 1.5,0a0.75,0.75 0 1,0 -1.5,0M146.4,325.4m-0.75,0a0.75,0.75 0 1,0 1.5,0a0.75,0.75 0 1,0 -1.5,0M180.1,333.9m-0.75,0a0.75,0.75 0 1,0 1.5,0a0.75,0.75 0 1,0 -1.5,0M172.8,334.1m-0.75,0a0.75,0.75 0 1,0 1.5,0a0.75,0.75 0 1,0 -1.5,0M163.6,348.3m-0.75,0a0.75,0.75 0 1,0 1.5,0a0.75,0.75 0 1,0 -1.5,0M158.5,343.7m-0.75,0a0.75,0.75 0 1,0 1.5,0a0.75,0.75 0 1,0 -1.5,0M169.2,338.3m-0.75,0a0.75,0.75 0 1,0 1.5,0a0.75,0.75 0 1,0 -1.5,0M148.3,318.0m-0.75,0a0.75,0.75 0 1,0 1.5,0a0.75,0.75 0 1,0 -1.5,0M174.1,334.0m-0.75,0a0.75,0.75 0 1,0 1.5,0a0.75,0.75 0 1,0 -1.5,0M167.4,348.7m-0.75,0a0.75,0.75 0 1,0 1.5,0a0.75,0.75 0 1,0 -1.5,0M167.2,350.2m-0.75,0a0.75,0.75 0 1,0 1.5,0a0.75,0.75 0 1,0 -1.5,0M152.6,345.9m-0.75,0a0.75,0.75 0 1,0 1.5,0a0.75,0.75 0 1,0 -1.5,0M154.9,350.7m-0.75,0a0.75,0.75 0 1,0 1.5,0a0.75,0.75 0 1,0 -1.5,0M140.7,324.7m-0.75,0a0.75,0.75 0 1,0 1.5,0a0.75,0.75 0 1,0 -1.5,0M178.7,332.7m-0.75,0a0.75,0.75 0 1,0 1.5,0a0.75,0.75 0 1,0 -1.5,0M150.6,338.0m-0.75,0a0.75,0.75 0 1,0 1.5,0a0.75,0.75 0 1,0 -1.5,0M161.3,349.6m-0.75,0a0.75,0.75 0 1,0 1.5,0a0.75,0.75 0 1,0 -1.5,0M165.7,350.5m-0.75,0a0.75,0.75 0 1,0 1.5,0a0.75,0.75 0 1,0 -1.5,0M175.9,337.5m-0.75,0a0.75,0.75 0 1,0 1.5,0a0.75,0.75 0 1,0 -1.5,0M172.6,337.6m-0.75,0a0.75,0.75 0 1,0 1.5,0a0.75,0.75 0 1,0 -1.5,0M147.6,319.2m-0.75,0a0.75,0.75 0 1,0 1.5,0a0.75,0.75 0 1,0 -1.5,0M153.3,322.3m-0.75,0a0.75,0.75 0 1,0 1.5,0a0.75,0.75 0 1,0 -1.5,0M148.0,344.7m-0.75,0a0.75,0.75 0 1,0 1.5,0a0.75,0.75 0 1,0 -1.5,0M167.4,328.8m-0.75,0a0.75,0.75 0 1,0 1.5,0a0.75,0.75 0 1,0 -1.5,0M157.7,353.0m-0.75,0a0.75,0.75 0 1,0 1.5,0a0.75,0.75 0 1,0 -1.5,0M148.7,319.7m-0.75,0a0.75,0.75 0 1,0 1.5,0a0.75,0.75 0 1,0 -1.5,0M148.9,351.6m-0.75,0a0.75,0.75 0 1,0 1.5,0a0.75,0.75 0 1,0 -1.5,0M175.6,330.5m-0.75,0a0.75,0.75 0 1,0 1.5,0a0.75,0.75 0 1,0 -1.5,0M164.0,338.4m-0.75,0a0.75,0.75 0 1,0 1.5,0a0.75,0.75 0 1,0 -1.5,0M177.6,335.2m-0.75,0a0.75,0.75 0 1,0 1.5,0a0.75,0.75 0 1,0 -1.5,0M154.3,342.9m-0.75,0a0.75,0.75 0 1,0 1.5,0a0.75,0.75 0 1,0 -1.5,0M145.4,327.8m-0.75,0a0.75,0.75 0 1,0 1.5,0a0.75,0.75 0 1,0 -1.5,0M179.3,335.7m-0.75,0a0.75,0.75 0 1,0 1.5,0a0.75,0.75 0 1,0 -1.5,0M163.2,333.7m-0.75,0a0.75,0.75 0 1,0 1.5,0a0.75,0.75 0 1,0 -1.5,0M165.6,329.6m-0.75,0a0.75,0.75 0 1,0 1.5,0a0.75,0.75 0 1,0 -1.5,0M166.9,343.6m-0.75,0a0.75,0.75 0 1,0 1.5,0a0.75,0.75 0 1,0 -1.5,0M165.5,351.7m-0.75,0a0.75,0.75 0 1,0 1.5,0a0.75,0.75 0 1,0 -1.5,0M151.4,338.4m-0.75,0a0.75,0.75 0 1,0 1.5,0a0.75,0.75 0 1,0 -1.5,0M160.6,343.5m-0.75,0a0.75,0.75 0 1,0 1.5,0a0.75,0.75 0 1,0 -1.5,0M148.7,324.9m-0.75,0a0.75,0.75 0 1,0 1.5,0a0.75,0.75 0 1,0 -1.5,0M172.7,332.7m-0.75,0a0.75,0.75 0 1,0 1.5,0a0.75,0.75 0 1,0 -1.5,0M149.9,340.4m-0.75,0a0.75,0.75 0 1,0 1.5,0a0.75,0.75 0 1,0 -1.5,0M175.0,333.2m-0.75,0a0.75,0.75 0 1,0 1.5,0a0.75,0.75 0 1,0 -1.5,0M144.8,321.2m-0.75,0a0.75,0.75 0 1,0 1.5,0a0.75,0.75 0 1,0 -1.5,0M171.5,347.2m-0.75,0a0.75,0.75 0 1,0 1.5,0a0.75,0.75 0 1,0 -1.5,0M142.9,327.0m-0.75,0a0.75,0.75 0 1,0 1.5,0a0.75,0.75 0 1,0 -1.5,0M171.5,340.1m-0.75,0a0.75,0.75 0 1,0 1.5,0a0.75,0.75 0 1,0 -1.5,0M171.4,329.4m-0.75,0a0.75,0.75 0 1,0 1.5,0a0.75,0.75 0 1,0 -1.5,0M140.5,327.4m-0.75,0a0.75,0.75 0 1,0 1.5,0a0.75,0.75 0 1,0 -1.5,0M154.4,351.3m-0.75,0a0.75,0.75 0 1,0 1.5,0a0.75,0.75 0 1,0 -1.5,0M168.6,347.2m-0.75,0a0.75,0.75 0 1,0 1.5,0a0.75,0.75 0 1,0 -1.5,0M164.9,335.7m-0.75,0a0.75,0.75 0 1,0 1.5,0a0.75,0.75 0 1,0 -1.5,0M144.9,319.3m-0.75,0a0.75,0.75 0 1,0 1.5,0a0.75,0.75 0 1,0 -1.5,0M175.9,342.0m-0.75,0a0.75,0.75 0 1,0 1.5,0a0.75,0.75 0 1,0 -1.5,0M175.7,337.8m-0.75,0a0.75,0.75 0 1,0 1.5,0a0.75,0.75 0 1,0 -1.5,0M142.4,327.7m-0.75,0a0.75,0.75 0 1,0 1.5,0a0.75,0.75 0 1,0 -1.5,0M164.9,335.9m-0.75,0a0.75,0.75 0 1,0 1.5,0a0.75,0.75 0 1,0 -1.5,0M153.5,350.9m-0.75,0a0.75,0.75 0 1,0 1.5,0a0.75,0.75 0 1,0 -1.5,0M146.1,348.1m-0.75,0a0.75,0.75 0 1,0 1.5,0a0.75,0.75 0 1,0 -1.5,0M156.4,345.2m-0.75,0a0.75,0.75 0 1,0 1.5,0a0.75,0.75 0 1,0 -1.5,0M150.6,324.0m-0.75,0a0.75,0.75 0 1,0 1.5,0a0.75,0.75 0 1,0 -1.5,0M159.0,346.4m-0.75,0a0.75,0.75 0 1,0 1.5,0a0.75,0.75 0 1,0 -1.5,0M163.3,348.1m-0.75,0a0.75,0.75 0 1,0 1.5,0a0.75,0.75 0 1,0 -1.5,0M136.8,326.7m-0.75,0a0.75,0.75 0 1,0 1.5,0a0.75,0.75 0 1,0 -1.5,0M137.0,321.5m-0.75,0a0.75,0.75 0 1,0 1.5,0a0.75,0.75 0 1,0 -1.5,0M140.2,319.3m-0.75,0a0.75,0.75 0 1,0 1.5,0a0.75,0.75 0 1,0 -1.5,0M150.6,340.3m-0.75,0a0.75,0.75 0 1,0 1.5,0a0.75,0.75 0 1,0 -1.5,0M161.4,329.9m-0.75,0a0.75,0.75 0 1,0 1.5,0a0.75,0.75 0 1,0 -1.5,0M143.3,328.8m-0.75,0a0.75,0.75 0 1,0 1.5,0a0.75,0.75 0 1,0 -1.5,0M167.3,330.6m-0.75,0a0.75,0.75 0 1,0 1.5,0a0.75,0.75 0 1,0 -1.5,0M138.2,323.3m-0.75,0a0.75,0.75 0 1,0 1.5,0a0.75,0.75 0 1,0 -1.5,0M151.6,338.7m-0.75,0a0.75,0.75 0 1,0 1.5,0a0.75,0.75 0 1,0 -1.5,0M170.3,330.6m-0.75,0a0.75,0.75 0 1,0 1.5,0a0.75,0.75 0 1,0 -1.5,0M171.2,339.4m-0.75,0a0.75,0.75 0 1,0 1.5,0a0.75,0.75 0 1,0 -1.5,0M157.2,342.3m-0.75,0a0.75,0.75 0 1,0 1.5,0a0.75,0.75 0 1,0 -1.5,0M153.8,342.0m-0.75,0a0.75,0.75 0 1,0 1.5,0a0.75,0.75 0 1,0 -1.5,0M155.6,325.7m-0.75,0a0.75,0.75 0 1,0 1.5,0a0.75,0.75 0 1,0 -1.5,0M159.0,342.0m-0.75,0a0.75,0.75 0 1,0 1.5,0a0.75,0.75 0 1,0 -1.5,0M154.0,348.7m-0.75,0a0.75,0.75 0 1,0 1.5,0a0.75,0.75 0 1,0 -1.5,0M177.4,330.4m-0.75,0a0.75,0.75 0 1,0 1.5,0a0.75,0.75 0 1,0 -1.5,0M164.8,349.0m-0.75,0a0.75,0.75 0 1,0 1.5,0a0.75,0.75 0 1,0 -1.5,0M170.8,341.0m-0.75,0a0.75,0.75 0 1,0 1.5,0a0.75,0.75 0 1,0 -1.5,0M168.1,337.3m-0.75,0a0.75,0.75 0 1,0 1.5,0a0.75,0.75 0 1,0 -1.5,0M138.7,320.5m-0.75,0a0.75,0.75 0 1,0 1.5,0a0.75,0.75 0 1,0 -1.5,0M165.4,347.1m-0.75,0a0.75,0.75 0 1,0 1.5,0a0.75,0.75 0 1,0 -1.5,0M178.1,337.8m-0.75,0a0.75,0.75 0 1,0 1.5,0a0.75,0.75 0 1,0 -1.5,0M169.6,335.4m-0.75,0a0.75,0.75 0 1,0 1.5,0a0.75,0.75 0 1,0 -1.5,0M168.8,350.7m-0.75,0a0.75,0.75 0 1,0 1.5,0a0.75,0.75 0 1,0 -1.5,0M137.3,328.6m-0.75,0a0.75,0.75 0 1,0 1.5,0a0.75,0.75 0 1,0 -1.5,0M160.3,346.8m-0.75,0a0.75,0.75 0 1,0 1.5,0a0.75,0.75 0 1,0 -1.5,0M145.6,323.4m-0.75,0a0.75,0.75 0 1,0 1.5,0a0.75,0.75 0 1,0 -1.5,0M146.0,339.2m-0.75,0a0.75,0.75 0 1,0 1.5,0a0.75,0.75 0 1,0 -1.5,0M169.0,331.1m-0.75,0a0.75,0.75 0 1,0 1.5,0a0.75,0.75 0 1,0 -1.5,0M179.1,331.8m-0.75,0a0.75,0.75 0 1,0 1.5,0a0.75,0.75 0 1,0 -1.5,0M166.1,344.2m-0.75,0a0.75,0.75 0 1,0 1.5,0a0.75,0.75 0 1,0 -1.5,0M165.4,335.6m-0.75,0a0.75,0.75 0 1,0 1.5,0a0.75,0.75 0 1,0 -1.5,0M176.5,335.6m-0.75,0a0.75,0.75 0 1,0 1.5,0a0.75,0.75 0 1,0 -1.5,0M154.8,342.9m-0.75,0a0.75,0.75 0 1,0 1.5,0a0.75,0.75 0 1,0 -1.5,0M143.0,326.5m-0.75,0a0.75,0.75 0 1,0 1.5,0a0.75,0.75 0 1,0 -1.5,0M148.9,325.3m-0.75,0a0.75,0.75 0 1,0 1.5,0a0.75,0.75 0 1,0 -1.5,0M166.2,351.4m-0.75,0a0.75,0.75 0 1,0 1.5,0a0.75,0.75 0 1,0 -1.5,0M148.1,342.4m-0.75,0a0.75,0.75 0 1,0 1.5,0a0.75,0.75 0 1,0 -1.5,0M153.4,347.8m-0.75,0a0.75,0.75 0 1,0 1.5,0a0.75,0.75 0 1,0 -1.5,0M144.5,317.7m-0.75,0a0.75,0.75 0 1,0 1.5,0a0.75,0.75 0 1,0 -1.5,0M149.3,344.9m-0.75,0a0.75,0.75 0 1,0 1.5,0a0.75,0.75 0 1,0 -1.5,0M155.9,347.1m-0.75,0a0.75,0.75 0 1,0 1.5,0a0.75,0.75 0 1,0 -1.5,0M172.1,337.0m-0.75,0a0.75,0.75 0 1,0 1.5,0a0.75,0.75 0 1,0 -1.5,0M156.6,343.0m-0.75,0a0.75,0.75 0 1,0 1.5,0a0.75,0.75 0 1,0 -1.5,0M173.7,331.4m-0.75,0a0.75,0.75 0 1,0 1.5,0a0.75,0.75 0 1,0 -1.5,0M168.1,351.6m-0.75,0a0.75,0.75 0 1,0 1.5,0a0.75,0.75 0 1,0 -1.5,0M155.9,325.2m-0.75,0a0.75,0.75 0 1,0 1.5,0a0.75,0.75 0 1,0 -1.5,0M145.3,342.8m-0.75,0a0.75,0.75 0 1,0 1.5,0a0.75,0.75 0 1,0 -1.5,0M165.4,351.6m-0.75,0a0.75,0.75 0 1,0 1.5,0a0.75,0.75 0 1,0 -1.5,0M143.2,326.2m-0.75,0a0.75,0.75 0 1,0 1.5,0a0.75,0.75 0 1,0 -1.5,0M173.8,349.4m-0.75,0a0.75,0.75 0 1,0 1.5,0a0.75,0.75 0 1,0 -1.5,0M146.2,348.2m-0.75,0a0.75,0.75 0 1,0 1.5,0a0.75,0.75 0 1,0 -1.5,0M161.1,341.3m-0.75,0a0.75,0.75 0 1,0 1.5,0a0.75,0.75 0 1,0 -1.5,0M178.2,331.0m-0.75,0a0.75,0.75 0 1,0 1.5,0a0.75,0.75 0 1,0 -1.5,0M147.1,341.0m-0.75,0a0.75,0.75 0 1,0 1.5,0a0.75,0.75 0 1,0 -1.5,0M177.6,330.4m-0.75,0a0.75,0.75 0 1,0 1.5,0a0.75,0.75 0 1,0 -1.5,0M169.9,344.3m-0.75,0a0.75,0.75 0 1,0 1.5,0a0.75,0.75 0 1,0 -1.5,0M148.1,341.3m-0.75,0a0.75,0.75 0 1,0 1.5,0a0.75,0.75 0 1,0 -1.5,0M164.5,346.0m-0.75,0a0.75,0.75 0 1,0 1.5,0a0.75,0.75 0 1,0 -1.5,0M146.7,344.2m-0.75,0a0.75,0.75 0 1,0 1.5,0a0.75,0.75 0 1,0 -1.5,0M157.1,329.6m-0.75,0a0.75,0.75 0 1,0 1.5,0a0.75,0.75 0 1,0 -1.5,0M167.4,341.4m-0.75,0a0.75,0.75 0 1,0 1.5,0a0.75,0.75 0 1,0 -1.5,0M164.1,339.7m-0.75,0a0.75,0.75 0 1,0 1.5,0a0.75,0.75 0 1,0 -1.5,0M149.7,342.9m-0.75,0a0.75,0.75 0 1,0 1.5,0a0.75,0.75 0 1,0 -1.5,0M161.9,337.0m-0.75,0a0.75,0.75 0 1,0 1.5,0a0.75,0.75 0 1,0 -1.5,0M164.2,333.4m-0.75,0a0.75,0.75 0 1,0 1.5,0a0.75,0.75 0 1,0 -1.5,0M148.8,323.3m-0.75,0a0.75,0.75 0 1,0 1.5,0a0.75,0.75 0 1,0 -1.5,0M169.1,336.5m-0.75,0a0.75,0.75 0 1,0 1.5,0a0.75,0.75 0 1,0 -1.5,0M168.4,329.9m-0.75,0a0.75,0.75 0 1,0 1.5,0a0.75,0.75 0 1,0 -1.5,0M157.6,325.8m-0.75,0a0.75,0.75 0 1,0 1.5,0a0.75,0.75 0 1,0 -1.5,0M169.7,329.7m-0.75,0a0.75,0.75 0 1,0 1.5,0a0.75,0.75 0 1,0 -1.5,0M159.3,344.8m-0.75,0a0.75,0.75 0 1,0 1.5,0a0.75,0.75 0 1,0 -1.5,0M150.7,347.5m-0.75,0a0.75,0.75 0 1,0 1.5,0a0.75,0.75 0 1,0 -1.5,0M139.7,326.7m-0.75,0a0.75,0.75 0 1,0 1.5,0a0.75,0.75 0 1,0 -1.5,0M139.1,320.9m-0.75,0a0.75,0.75 0 1,0 1.5,0a0.75,0.75 0 1,0 -1.5,0M170.2,343.2m-0.75,0a0.75,0.75 0 1,0 1.5,0a0.75,0.75 0 1,0 -1.5,0M143.0,323.7m-0.75,0a0.75,0.75 0 1,0 1.5,0a0.75,0.75 0 1,0 -1.5,0M153.6,343.8m-0.75,0a0.75,0.75 0 1,0 1.5,0a0.75,0.75 0 1,0 -1.5,0M171.9,344.0m-0.75,0a0.75,0.75 0 1,0 1.5,0a0.75,0.75 0 1,0 -1.5,0M152.8,323.9m-0.75,0a0.75,0.75 0 1,0 1.5,0a0.75,0.75 0 1,0 -1.5,0M143.8,325.9m-0.75,0a0.75,0.75 0 1,0 1.5,0a0.75,0.75 0 1,0 -1.5,0M171.3,349.1m-0.75,0a0.75,0.75 0 1,0 1.5,0a0.75,0.75 0 1,0 -1.5,0M178.0,330.7m-0.75,0a0.75,0.75 0 1,0 1.5,0a0.75,0.75 0 1,0 -1.5,0M163.5,352.2m-0.75,0a0.75,0.75 0 1,0 1.5,0a0.75,0.75 0 1,0 -1.5,0M173.9,334.4m-0.75,0a0.75,0.75 0 1,0 1.5,0a0.75,0.75 0 1,0 -1.5,0M162.0,343.2m-0.75,0a0.75,0.75 0 1,0 1.5,0a0.75,0.75 0 1,0 -1.5,0M164.8,334.7m-0.75,0a0.75,0.75 0 1,0 1.5,0a0.75,0.75 0 1,0 -1.5,0M164.1,332.9m-0.75,0a0.75,0.75 0 1,0 1.5,0a0.75,0.75 0 1,0 -1.5,0M160.4,351.6m-0.75,0a0.75,0.75 0 1,0 1.5,0a0.75,0.75 0 1,0 -1.5,0M170.8,339.4m-0.75,0a0.75,0.75 0 1,0 1.5,0a0.75,0.75 0 1,0 -1.5,0M145.2,319.7m-0.75,0a0.75,0.75 0 1,0 1.5,0a0.75,0.75 0 1,0 -1.5,0M159.2,350.5m-0.75,0a0.75,0.75 0 1,0 1.5,0a0.75,0.75 0 1,0 -1.5,0M149.3,348.4m-0.75,0a0.75,0.75 0 1,0 1.5,0a0.75,0.75 0 1,0 -1.5,0M173.8,338.6m-0.75,0a0.75,0.75 0 1,0 1.5,0a0.75,0.75 0 1,0 -1.5,0M168.4,329.3m-0.75,0a0.75,0.75 0 1,0 1.5,0a0.75,0.75 0 1,0 -1.5,0M171.4,350.6m-0.75,0a0.75,0.75 0 1,0 1.5,0a0.75,0.75 0 1,0 -1.5,0M174.0,332.7m-0.75,0a0.75,0.75 0 1,0 1.5,0a0.75,0.75 0 1,0 -1.5,0M169.2,334.4m-0.75,0a0.75,0.75 0 1,0 1.5,0a0.75,0.75 0 1,0 -1.5,0M139.5,318.4m-0.75,0a0.75,0.75 0 1,0 1.5,0a0.75,0.75 0 1,0 -1.5,0M138.1,324.1m-0.75,0a0.75,0.75 0 1,0 1.5,0a0.75,0.75 0 1,0 -1.5,0M166.5,336.3m-0.75,0a0.75,0.75 0 1,0 1.5,0a0.75,0.75 0 1,0 -1.5,0M153.8,340.4m-0.75,0a0.75,0.75 0 1,0 1.5,0a0.75,0.75 0 1,0 -1.5,0M169.2,331.4m-0.75,0a0.75,0.75 0 1,0 1.5,0a0.75,0.75 0 1,0 -1.5,0M167.5,330.2m-0.75,0a0.75,0.75 0 1,0 1.5,0a0.75,0.75 0 1,0 -1.5,0M151.5,336.0m-0.75,0a0.75,0.75 0 1,0 1.5,0a0.75,0.75 0 1,0 -1.5,0M134.6,324.4m-0.75,0a0.75,0.75 0 1,0 1.5,0a0.75,0.75 0 1,0 -1.5,0M155.6,323.9m-0.75,0a0.75,0.75 0 1,0 1.5,0a0.75,0.75 0 1,0 -1.5,0M144.1,323.1m-0.75,0a0.75,0.75 0 1,0 1.5,0a0.75,0.75 0 1,0 -1.5,0M153.0,323.0m-0.75,0a0.75,0.75 0 1,0 1.5,0a0.75,0.75 0 1,0 -1.5,0M135.8,320.9m-0.75,0a0.75,0.75 0 1,0 1.5,0a0.75,0.75 0 1,0 -1.5,0M144.5,320.3m-0.75,0a0.75,0.75 0 1,0 1.5,0a0.75,0.75 0 1,0 -1.5,0M163.0,329.4m-0.75,0a0.75,0.75 0 1,0 1.5,0a0.75,0.75 0 1,0 -1.5,0M140.2,318.7m-0.75,0a0.75,0.75 0 1,0 1.5,0a0.75,0.75 0 1,0 -1.5,0M170.6,333.7m-0.75,0a0.75,0.75 0 1,0 1.5,0a0.75,0.75 0 1,0 -1.5,0M146.0,326.5m-0.75,0a0.75,0.75 0 1,0 1.5,0a0.75,0.75 0 1,0 -1.5,0M171.8,339.6m-0.75,0a0.75,0.75 0 1,0 1.5,0a0.75,0.75 0 1,0 -1.5,0M150.3,320.3m-0.75,0a0.75,0.75 0 1,0 1.5,0a0.75,0.75 0 1,0 -1.5,0M165.8,352.0m-0.75,0a0.75,0.75 0 1,0 1.5,0a0.75,0.75 0 1,0 -1.5,0M135.9,320.1m-0.75,0a0.75,0.75 0 1,0 1.5,0a0.75,0.75 0 1,0 -1.5,0M142.3,318.2m-0.75,0a0.75,0.75 0 1,0 1.5,0a0.75,0.75 0 1,0 -1.5,0M179.1,334.1m-0.75,0a0.75,0.75 0 1,0 1.5,0a0.75,0.75 0 1,0 -1.5,0M171.3,350.1m-0.75,0a0.75,0.75 0 1,0 1.5,0a0.75,0.75 0 1,0 -1.5,0M148.5,338.8m-0.75,0a0.75,0.75 0 1,0 1.5,0a0.75,0.75 0 1,0 -1.5,0M148.0,347.6m-0.75,0a0.75,0.75 0 1,0 1.5,0a0.75,0.75 0 1,0 -1.5,0M149.8,341.5m-0.75,0a0.75,0.75 0 1,0 1.5,0a0.75,0.75 0 1,0 -1.5,0M168.4,343.4m-0.75,0a0.75,0.75 0 1,0 1.5,0a0.75,0.75 0 1,0 -1.5,0M172.8,336.9m-0.75,0a0.75,0.75 0 1,0 1.5,0a0.75,0.75 0 1,0 -1.5,0M176.8,330.0m-0.75,0a0.75,0.75 0 1,0 1.5,0a0.75,0.75 0 1,0 -1.5,0M153.5,325.2m-0.75,0a0.75,0.75 0 1,0 1.5,0a0.75,0.75 0 1,0 -1.5,0M170.2,334.3m-0.75,0a0.75,0.75 0 1,0 1.5,0a0.75,0.75 0 1,0 -1.5,0M146.9,323.0m-0.75,0a0.75,0.75 0 1,0 1.5,0a0.75,0.75 0 1,0 -1.5,0M167.5,338.8m-0.75,0a0.75,0.75 0 1,0 1.5,0a0.75,0.75 0 1,0 -1.5,0M167.0,330.9m-0.75,0a0.75,0.75 0 1,0 1.5,0a0.75,0.75 0 1,0 -1.5,0M155.9,344.3m-0.75,0a0.75,0.75 0 1,0 1.5,0a0.75,0.75 0 1,0 -1.5,0M145.4,347.4m-0.75,0a0.75,0.75 0 1,0 1.5,0a0.75,0.75 0 1,0 -1.5,0M163.9,348.7m-0.75,0a0.75,0.75 0 1,0 1.5,0a0.75,0.75 0 1,0 -1.5,0M174.4,333.2m-0.75,0a0.75,0.75 0 1,0 1.5,0a0.75,0.75 0 1,0 -1.5,0M145.5,318.6m-0.75,0a0.75,0.75 0 1,0 1.5,0a0.75,0.75 0 1,0 -1.5,0M153.7,345.1m-0.75,0a0.75,0.75 0 1,0 1.5,0a0.75,0.75 0 1,0 -1.5,0M162.2,345.4m-0.75,0a0.75,0.75 0 1,0 1.5,0a0.75,0.75 0 1,0 -1.5,0M142.7,319.7m-0.75,0a0.75,0.75 0 1,0 1.5,0a0.75,0.75 0 1,0 -1.5,0M144.7,346.9m-0.75,0a0.75,0.75 0 1,0 1.5,0a0.75,0.75 0 1,0 -1.5,0M162.7,340.1m-0.75,0a0.75,0.75 0 1,0 1.5,0a0.75,0.75 0 1,0 -1.5,0M169.4,348.4m-0.75,0a0.75,0.75 0 1,0 1.5,0a0.75,0.75 0 1,0 -1.5,0M150.4,338.7m-0.75,0a0.75,0.75 0 1,0 1.5,0a0.75,0.75 0 1,0 -1.5,0M172.8,338.4m-0.75,0a0.75,0.75 0 1,0 1.5,0a0.75,0.75 0 1,0 -1.5,0M168.2,332.2m-0.75,0a0.75,0.75 0 1,0 1.5,0a0.75,0.75 0 1,0 -1.5,0M164.2,338.8m-0.75,0a0.75,0.75 0 1,0 1.5,0a0.75,0.75 0 1,0 -1.5,0M154.2,319.9m-0.75,0a0.75,0.75 0 1,0 1.5,0a0.75,0.75 0 1,0 -1.5,0M144.5,322.9m-0.75,0a0.75,0.75 0 1,0 1.5,0a0.75,0.75 0 1,0 -1.5,0M162.5,350.6m-0.75,0a0.75,0.75 0 1,0 1.5,0a0.75,0.75 0 1,0 -1.5,0M178.0,334.4m-0.75,0a0.75,0.75 0 1,0 1.5,0a0.75,0.75 0 1,0 -1.5,0M169.9,331.6m-0.75,0a0.75,0.75 0 1,0 1.5,0a0.75,0.75 0 1,0 -1.5,0M147.9,350.7m-0.75,0a0.75,0.75 0 1,0 1.5,0a0.75,0.75 0 1,0 -1.5,0M143.0,320.3m-0.75,0a0.75,0.75 0 1,0 1.5,0a0.75,0.75 0 1,0 -1.5,0M167.6,327.5m-0.75,0a0.75,0.75 0 1,0 1.5,0a0.75,0.75 0 1,0 -1.5,0M150.3,343.7m-0.75,0a0.75,0.75 0 1,0 1.5,0a0.75,0.75 0 1,0 -1.5,0M168.7,327.3m-0.75,0a0.75,0.75 0 1,0 1.5,0a0.75,0.75 0 1,0 -1.5,0M139.3,327.7m-0.75,0a0.75,0.75 0 1,0 1.5,0a0.75,0.75 0 1,0 -1.5,0M153.3,319.7m-0.75,0a0.75,0.75 0 1,0 1.5,0a0.75,0.75 0 1,0 -1.5,0M166.6,352.2m-0.75,0a0.75,0.75 0 1,0 1.5,0a0.75,0.75 0 1,0 -1.5,0M151.6,322.7m-0.75,0a0.75,0.75 0 1,0 1.5,0a0.75,0.75 0 1,0 -1.5,0M151.0,347.7m-0.75,0a0.75,0.75 0 1,0 1.5,0a0.75,0.75 0 1,0 -1.5,0M148.1,325.7m-0.75,0a0.75,0.75 0 1,0 1.5,0a0.75,0.75 0 1,0 -1.5,0M136.8,324.3m-0.75,0a0.75,0.75 0 1,0 1.5,0a0.75,0.75 0 1,0 -1.5,0M169.8,333.7m-0.75,0a0.75,0.75 0 1,0 1.5,0a0.75,0.75 0 1,0 -1.5,0M143.0,317.3m-0.75,0a0.75,0.75 0 1,0 1.5,0a0.75,0.75 0 1,0 -1.5,0M138.8,328.1m-0.75,0a0.75,0.75 0 1,0 1.5,0a0.75,0.75 0 1,0 -1.5,0M145.8,345.9m-0.75,0a0.75,0.75 0 1,0 1.5,0a0.75,0.75 0 1,0 -1.5,0M153.7,326.3m-0.75,0a0.75,0.75 0 1,0 1.5,0a0.75,0.75 0 1,0 -1.5,0M163.2,341.3m-0.75,0a0.75,0.75 0 1,0 1.5,0a0.75,0.75 0 1,0 -1.5,0M145.8,321.8m-0.75,0a0.75,0.75 0 1,0 1.5,0a0.75,0.75 0 1,0 -1.5,0M169.2,345.4m-0.75,0a0.75,0.75 0 1,0 1.5,0a0.75,0.75 0 1,0 -1.5,0M157.8,346.9m-0.75,0a0.75,0.75 0 1,0 1.5,0a0.75,0.75 0 1,0 -1.5,0M142.2,317.5m-0.75,0a0.75,0.75 0 1,0 1.5,0a0.75,0.75 0 1,0 -1.5,0M164.0,349.3m-0.75,0a0.75,0.75 0 1,0 1.5,0a0.75,0.75 0 1,0 -1.5,0M176.0,333.8m-0.75,0a0.75,0.75 0 1,0 1.5,0a0.75,0.75 0 1,0 -1.5,0M165.0,350.5m-0.75,0a0.75,0.75 0 1,0 1.5,0a0.75,0.75 0 1,0 -1.5,0M171.8,338.7m-0.75,0a0.75,0.75 0 1,0 1.5,0a0.75,0.75 0 1,0 -1.5,0M142.3,323.5m-0.75,0a0.75,0.75 0 1,0 1.5,0a0.75,0.75 0 1,0 -1.5,0M171.3,333.2m-0.75,0a0.75,0.75 0 1,0 1.5,0a0.75,0.75 0 1,0 -1.5,0M148.9,335.8m-0.75,0a0.75,0.75 0 1,0 1.5,0a0.75,0.75 0 1,0 -1.5,0M153.4,347.7m-0.75,0a0.75,0.75 0 1,0 1.5,0a0.75,0.75 0 1,0 -1.5,0M172.4,350.6m-0.75,0a0.75,0.75 0 1,0 1.5,0a0.75,0.75 0 1,0 -1.5,0M156.8,327.0m-0.75,0a0.75,0.75 0 1,0 1.5,0a0.75,0.75 0 1,0 -1.5,0M167.0,349.9m-0.75,0a0.75,0.75 0 1,0 1.5,0a0.75,0.75 0 1,0 -1.5,0M152.1,346.8m-0.75,0a0.75,0.75 0 1,0 1.5,0a0.75,0.75 0 1,0 -1.5,0M149.0,326.7m-0.75,0a0.75,0.75 0 1,0 1.5,0a0.75,0.75 0 1,0 -1.5,0M147.4,321.6m-0.75,0a0.75,0.75 0 1,0 1.5,0a0.75,0.75 0 1,0 -1.5,0M138.2,325.2m-0.75,0a0.75,0.75 0 1,0 1.5,0a0.75,0.75 0 1,0 -1.5,0M143.7,319.7m-0.75,0a0.75,0.75 0 1,0 1.5,0a0.75,0.75 0 1,0 -1.5,0M158.6,343.8m-0.75,0a0.75,0.75 0 1,0 1.5,0a0.75,0.75 0 1,0 -1.5,0M172.9,339.7m-0.75,0a0.75,0.75 0 1,0 1.5,0a0.75,0.75 0 1,0 -1.5,0M137.7,326.6m-0.75,0a0.75,0.75 0 1,0 1.5,0a0.75,0.75 0 1,0 -1.5,0M156.6,326.6m-0.75,0a0.75,0.75 0 1,0 1.5,0a0.75,0.75 0 1,0 -1.5,0M165.4,340.3m-0.75,0a0.75,0.75 0 1,0 1.5,0a0.75,0.75 0 1,0 -1.5,0M141.0,318.8m-0.75,0a0.75,0.75 0 1,0 1.5,0a0.75,0.75 0 1,0 -1.5,0M178.5,336.2m-0.75,0a0.75,0.75 0 1,0 1.5,0a0.75,0.75 0 1,0 -1.5,0M152.0,320.7m-0.75,0a0.75,0.75 0 1,0 1.5,0a0.75,0.75 0 1,0 -1.5,0M152.4,352.6m-0.75,0a0.75,0.75 0 1,0 1.5,0a0.75,0.75 0 1,0 -1.5,0M147.4,321.6m-0.75,0a0.75,0.75 0 1,0 1.5,0a0.75,0.75 0 1,0 -1.5,0M141.2,321.5m-0.75,0a0.75,0.75 0 1,0 1.5,0a0.75,0.75 0 1,0 -1.5,0M150.7,350.0m-0.75,0a0.75,0.75 0 1,0 1.5,0a0.75,0.75 0 1,0 -1.5,0M138.0,323.8m-0.75,0a0.75,0.75 0 1,0 1.5,0a0.75,0.75 0 1,0 -1.5,0M150.7,351.3m-0.75,0a0.75,0.75 0 1,0 1.5,0a0.75,0.75 0 1,0 -1.5,0M156.7,342.3m-0.75,0a0.75,0.75 0 1,0 1.5,0a0.75,0.75 0 1,0 -1.5,0M148.9,317.6m-0.75,0a0.75,0.75 0 1,0 1.5,0a0.75,0.75 0 1,0 -1.5,0M150.3,343.9m-0.75,0a0.75,0.75 0 1,0 1.5,0a0.75,0.75 0 1,0 -1.5,0M170.3,337.5m-0.75,0a0.75,0.75 0 1,0 1.5,0a0.75,0.75 0 1,0 -1.5,0M161.7,350.6m-0.75,0a0.75,0.75 0 1,0 1.5,0a0.75,0.75 0 1,0 -1.5,0M142.2,326.5m-0.75,0a0.75,0.75 0 1,0 1.5,0a0.75,0.75 0 1,0 -1.5,0M143.8,318.8m-0.75,0a0.75,0.75 0 1,0 1.5,0a0.75,0.75 0 1,0 -1.5,0M179.3,331.7m-0.75,0a0.75,0.75 0 1,0 1.5,0a0.75,0.75 0 1,0 -1.5,0M165.9,335.9m-0.75,0a0.75,0.75 0 1,0 1.5,0a0.75,0.75 0 1,0 -1.5,0M149.3,335.2m-0.75,0a0.75,0.75 0 1,0 1.5,0a0.75,0.75 0 1,0 -1.5,0M150.9,338.6m-0.75,0a0.75,0.75 0 1,0 1.5,0a0.75,0.75 0 1,0 -1.5,0M174.0,347.1m-0.75,0a0.75,0.75 0 1,0 1.5,0a0.75,0.75 0 1,0 -1.5,0M146.9,321.3m-0.75,0a0.75,0.75 0 1,0 1.5,0a0.75,0.75 0 1,0 -1.5,0M157.4,343.4m-0.75,0a0.75,0.75 0 1,0 1.5,0a0.75,0.75 0 1,0 -1.5,0M150.1,340.2m-0.75,0a0.75,0.75 0 1,0 1.5,0a0.75,0.75 0 1,0 -1.5,0M158.8,348.5m-0.75,0a0.75,0.75 0 1,0 1.5,0a0.75,0.75 0 1,0 -1.5,0M179.7,336.0m-0.75,0a0.75,0.75 0 1,0 1.5,0a0.75,0.75 0 1,0 -1.5,0M173.3,345.0m-0.75,0a0.75,0.75 0 1,0 1.5,0a0.75,0.75 0 1,0 -1.5,0M152.1,352.4m-0.75,0a0.75,0.75 0 1,0 1.5,0a0.75,0.75 0 1,0 -1.5,0M151.3,324.6m-0.75,0a0.75,0.75 0 1,0 1.5,0a0.75,0.75 0 1,0 -1.5,0M159.6,348.9m-0.75,0a0.75,0.75 0 1,0 1.5,0a0.75,0.75 0 1,0 -1.5,0M154.3,348.3m-0.75,0a0.75,0.75 0 1,0 1.5,0a0.75,0.75 0 1,0 -1.5,0M167.1,330.0m-0.75,0a0.75,0.75 0 1,0 1.5,0a0.75,0.75 0 1,0 -1.5,0M164.4,348.5m-0.75,0a0.75,0.75 0 1,0 1.5,0a0.75,0.75 0 1,0 -1.5,0M138.3,328.5m-0.75,0a0.75,0.75 0 1,0 1.5,0a0.75,0.75 0 1,0 -1.5,0M147.5,317.9m-0.75,0a0.75,0.75 0 1,0 1.5,0a0.75,0.75 0 1,0 -1.5,0M159.2,350.2m-0.75,0a0.75,0.75 0 1,0 1.5,0a0.75,0.75 0 1,0 -1.5,0M159.0,343.6m-0.75,0a0.75,0.75 0 1,0 1.5,0a0.75,0.75 0 1,0 -1.5,0M172.4,347.2m-0.75,0a0.75,0.75 0 1,0 1.5,0a0.75,0.75 0 1,0 -1.5,0M176.3,332.8m-0.75,0a0.75,0.75 0 1,0 1.5,0a0.75,0.75 0 1,0 -1.5,0M174.8,330.6m-0.75,0a0.75,0.75 0 1,0 1.5,0a0.75,0.75 0 1,0 -1.5,0M156.3,349.1m-0.75,0a0.75,0.75 0 1,0 1.5,0a0.75,0.75 0 1,0 -1.5,0M147.6,323.7m-0.75,0a0.75,0.75 0 1,0 1.5,0a0.75,0.75 0 1,0 -1.5,0M172.2,338.5m-0.75,0a0.75,0.75 0 1,0 1.5,0a0.75,0.75 0 1,0 -1.5,0M150.6,317.1m-0.75,0a0.75,0.75 0 1,0 1.5,0a0.75,0.75 0 1,0 -1.5,0M163.3,340.8m-0.75,0a0.75,0.75 0 1,0 1.5,0a0.75,0.75 0 1,0 -1.5,0M154.5,320.4m-0.75,0a0.75,0.75 0 1,0 1.5,0a0.75,0.75 0 1,0 -1.5,0M161.2,348.9m-0.75,0a0.75,0.75 0 1,0 1.5,0a0.75,0.75 0 1,0 -1.5,0M138.4,325.3m-0.75,0a0.75,0.75 0 1,0 1.5,0a0.75,0.75 0 1,0 -1.5,0M156.0,347.9m-0.75,0a0.75,0.75 0 1,0 1.5,0a0.75,0.75 0 1,0 -1.5,0M148.2,349.4m-0.75,0a0.75,0.75 0 1,0 1.5,0a0.75,0.75 0 1,0 -1.5,0M162.9,329.7m-0.75,0a0.75,0.75 0 1,0 1.5,0a0.75,0.75 0 1,0 -1.5,0M169.7,349.8m-0.75,0a0.75,0.75 0 1,0 1.5,0a0.75,0.75 0 1,0 -1.5,0M173.8,343.6m-0.75,0a0.75,0.75 0 1,0 1.5,0a0.75,0.75 0 1,0 -1.5,0M143.8,319.0m-0.75,0a0.75,0.75 0 1,0 1.5,0a0.75,0.75 0 1,0 -1.5,0M154.3,328.2m-0.75,0a0.75,0.75 0 1,0 1.5,0a0.75,0.75 0 1,0 -1.5,0M144.4,346.6m-0.75,0a0.75,0.75 0 1,0 1.5,0a0.75,0.75 0 1,0 -1.5,0M176.3,331.2m-0.75,0a0.75,0.75 0 1,0 1.5,0a0.75,0.75 0 1,0 -1.5,0M144.2,323.6m-0.75,0a0.75,0.75 0 1,0 1.5,0a0.75,0.75 0 1,0 -1.5,0M152.1,347.7m-0.75,0a0.75,0.75 0 1,0 1.5,0a0.75,0.75 0 1,0 -1.5,0M142.7,325.9m-0.75,0a0.75,0.75 0 1,0 1.5,0a0.75,0.75 0 1,0 -1.5,0M146.6,342.0m-0.75,0a0.75,0.75 0 1,0 1.5,0a0.75,0.75 0 1,0 -1.5,0M150.1,320.9m-0.75,0a0.75,0.75 0 1,0 1.5,0a0.75,0.75 0 1,0 -1.5,0M165.2,338.9m-0.75,0a0.75,0.75 0 1,0 1.5,0a0.75,0.75 0 1,0 -1.5,0M161.9,339.6m-0.75,0a0.75,0.75 0 1,0 1.5,0a0.75,0.75 0 1,0 -1.5,0M170.5,348.0m-0.75,0a0.75,0.75 0 1,0 1.5,0a0.75,0.75 0 1,0 -1.5,0M146.8,349.4m-0.75,0a0.75,0.75 0 1,0 1.5,0a0.75,0.75 0 1,0 -1.5,0M167.3,329.1m-0.75,0a0.75,0.75 0 1,0 1.5,0a0.75,0.75 0 1,0 -1.5,0M168.0,338.0m-0.75,0a0.75,0.75 0 1,0 1.5,0a0.75,0.75 0 1,0 -1.5,0M173.5,334.2m-0.75,0a0.75,0.75 0 1,0 1.5,0a0.75,0.75 0 1,0 -1.5,0M159.2,348.1m-0.75,0a0.75,0.75 0 1,0 1.5,0a0.75,0.75 0 1,0 -1.5,0M161.2,346.7m-0.75,0a0.75,0.75 0 1,0 1.5,0a0.75,0.75 0 1,0 -1.5,0M143.8,320.3m-0.75,0a0.75,0.75 0 1,0 1.5,0a0.75,0.75 0 1,0 -1.5,0M169.4,336.9m-0.75,0a0.75,0.75 0 1,0 1.5,0a0.75,0.75 0 1,0 -1.5,0M148.4,349.2m-0.75,0a0.75,0.75 0 1,0 1.5,0a0.75,0.75 0 1,0 -1.5,0M175.0,336.5m-0.75,0a0.75,0.75 0 1,0 1.5,0a0.75,0.75 0 1,0 -1.5,0M168.8,327.4m-0.75,0a0.75,0.75 0 1,0 1.5,0a0.75,0.75 0 1,0 -1.5,0M168.2,329.6m-0.75,0a0.75,0.75 0 1,0 1.5,0a0.75,0.75 0 1,0 -1.5,0M146.0,342.1m-0.75,0a0.75,0.75 0 1,0 1.5,0a0.75,0.75 0 1,0 -1.5,0M160.3,330.8m-0.75,0a0.75,0.75 0 1,0 1.5,0a0.75,0.75 0 1,0 -1.5,0M149.2,343.1m-0.75,0a0.75,0.75 0 1,0 1.5,0a0.75,0.75 0 1,0 -1.5,0M142.2,320.5m-0.75,0a0.75,0.75 0 1,0 1.5,0a0.75,0.75 0 1,0 -1.5,0M159.1,350.3m-0.75,0a0.75,0.75 0 1,0 1.5,0a0.75,0.75 0 1,0 -1.5,0M174.3,335.5m-0.75,0a0.75,0.75 0 1,0 1.5,0a0.75,0.75 0 1,0 -1.5,0M152.7,319.3m-0.75,0a0.75,0.75 0 1,0 1.5,0a0.75,0.75 0 1,0 -1.5,0M147.2,328.2m-0.75,0a0.75,0.75 0 1,0 1.5,0a0.75,0.75 0 1,0 -1.5,0M177.9,334.1m-0.75,0a0.75,0.75 0 1,0 1.5,0a0.75,0.75 0 1,0 -1.5,0M154.4,326.4m-0.75,0a0.75,0.75 0 1,0 1.5,0a0.75,0.75 0 1,0 -1.5,0M143.7,324.9m-0.75,0a0.75,0.75 0 1,0 1.5,0a0.75,0.75 0 1,0 -1.5,0M168.1,349.5m-0.75,0a0.75,0.75 0 1,0 1.5,0a0.75,0.75 0 1,0 -1.5,0M155.4,352.1m-0.75,0a0.75,0.75 0 1,0 1.5,0a0.75,0.75 0 1,0 -1.5,0M149.5,344.5m-0.75,0a0.75,0.75 0 1,0 1.5,0a0.75,0.75 0 1,0 -1.5,0M151.6,348.4m-0.75,0a0.75,0.75 0 1,0 1.5,0a0.75,0.75 0 1,0 -1.5,0M168.6,335.1m-0.75,0a0.75,0.75 0 1,0 1.5,0a0.75,0.75 0 1,0 -1.5,0M166.0,332.3m-0.75,0a0.75,0.75 0 1,0 1.5,0a0.75,0.75 0 1,0 -1.5,0M152.3,318.6m-0.75,0a0.75,0.75 0 1,0 1.5,0a0.75,0.75 0 1,0 -1.5,0M144.2,344.3m-0.75,0a0.75,0.75 0 1,0 1.5,0a0.75,0.75 0 1,0 -1.5,0M157.6,351.4m-0.75,0a0.75,0.75 0 1,0 1.5,0a0.75,0.75 0 1,0 -1.5,0M173.3,343.2m-0.75,0a0.75,0.75 0 1,0 1.5,0a0.75,0.75 0 1,0 -1.5,0M151.6,318.4m-0.75,0a0.75,0.75 0 1,0 1.5,0a0.75,0.75 0 1,0 -1.5,0M160.0,343.9m-0.75,0a0.75,0.75 0 1,0 1.5,0a0.75,0.75 0 1,0 -1.5,0M168.4,334.4m-0.75,0a0.75,0.75 0 1,0 1.5,0a0.75,0.75 0 1,0 -1.5,0M159.4,341.1m-0.75,0a0.75,0.75 0 1,0 1.5,0a0.75,0.75 0 1,0 -1.5,0M170.5,331.0m-0.75,0a0.75,0.75 0 1,0 1.5,0a0.75,0.75 0 1,0 -1.5,0M155.4,352.8m-0.75,0a0.75,0.75 0 1,0 1.5,0a0.75,0.75 0 1,0 -1.5,0M147.4,342.2m-0.75,0a0.75,0.75 0 1,0 1.5,0a0.75,0.75 0 1,0 -1.5,0M142.3,318.1m-0.75,0a0.75,0.75 0 1,0 1.5,0a0.75,0.75 0 1,0 -1.5,0M158.2,328.7m-0.75,0a0.75,0.75 0 1,0 1.5,0a0.75,0.75 0 1,0 -1.5,0M171.2,330.9m-0.75,0a0.75,0.75 0 1,0 1.5,0a0.75,0.75 0 1,0 -1.5,0M171.4,333.0m-0.75,0a0.75,0.75 0 1,0 1.5,0a0.75,0.75 0 1,0 -1.5,0M165.1,328.7m-0.75,0a0.75,0.75 0 1,0 1.5,0a0.75,0.75 0 1,0 -1.5,0M171.1,329.4m-0.75,0a0.75,0.75 0 1,0 1.5,0a0.75,0.75 0 1,0 -1.5,0M138.9,328.3m-0.75,0a0.75,0.75 0 1,0 1.5,0a0.75,0.75 0 1,0 -1.5,0M150.0,324.0m-0.75,0a0.75,0.75 0 1,0 1.5,0a0.75,0.75 0 1,0 -1.5,0M169.4,338.6m-0.75,0a0.75,0.75 0 1,0 1.5,0a0.75,0.75 0 1,0 -1.5,0M164.8,343.5m-0.75,0a0.75,0.75 0 1,0 1.5,0a0.75,0.75 0 1,0 -1.5,0M148.6,319.1m-0.75,0a0.75,0.75 0 1,0 1.5,0a0.75,0.75 0 1,0 -1.5,0M170.9,335.0m-0.75,0a0.75,0.75 0 1,0 1.5,0a0.75,0.75 0 1,0 -1.5,0M161.2,339.4m-0.75,0a0.75,0.75 0 1,0 1.5,0a0.75,0.75 0 1,0 -1.5,0M154.6,321.4m-0.75,0a0.75,0.75 0 1,0 1.5,0a0.75,0.75 0 1,0 -1.5,0M156.5,325.8m-0.75,0a0.75,0.75 0 1,0 1.5,0a0.75,0.75 0 1,0 -1.5,0M176.8,331.9m-0.75,0a0.75,0.75 0 1,0 1.5,0a0.75,0.75 0 1,0 -1.5,0M143.3,319.9m-0.75,0a0.75,0.75 0 1,0 1.5,0a0.75,0.75 0 1,0 -1.5,0M168.6,336.1m-0.75,0a0.75,0.75 0 1,0 1.5,0a0.75,0.75 0 1,0 -1.5,0M169.7,335.3m-0.75,0a0.75,0.75 0 1,0 1.5,0a0.75,0.75 0 1,0 -1.5,0M165.4,335.4m-0.75,0a0.75,0.75 0 1,0 1.5,0a0.75,0.75 0 1,0 -1.5,0M176.9,332.1m-0.75,0a0.75,0.75 0 1,0 1.5,0a0.75,0.75 0 1,0 -1.5,0M167.1,337.2m-0.75,0a0.75,0.75 0 1,0 1.5,0a0.75,0.75 0 1,0 -1.5,0M148.5,343.6m-0.75,0a0.75,0.75 0 1,0 1.5,0a0.75,0.75 0 1,0 -1.5,0M164.3,343.8m-0.75,0a0.75,0.75 0 1,0 1.5,0a0.75,0.75 0 1,0 -1.5,0M178.3,334.1m-0.75,0a0.75,0.75 0 1,0 1.5,0a0.75,0.75 0 1,0 -1.5,0M143.8,329.1m-0.75,0a0.75,0.75 0 1,0 1.5,0a0.75,0.75 0 1,0 -1.5,0M137.2,325.5m-0.75,0a0.75,0.75 0 1,0 1.5,0a0.75,0.75 0 1,0 -1.5,0M161.3,339.0m-0.75,0a0.75,0.75 0 1,0 1.5,0a0.75,0.75 0 1,0 -1.5,0M145.6,323.4m-0.75,0a0.75,0.75 0 1,0 1.5,0a0.75,0.75 0 1,0 -1.5,0M139.0,323.3m-0.75,0a0.75,0.75 0 1,0 1.5,0a0.75,0.75 0 1,0 -1.5,0M157.5,326.1m-0.75,0a0.75,0.75 0 1,0 1.5,0a0.75,0.75 0 1,0 -1.5,0M175.0,337.3m-0.75,0a0.75,0.75 0 1,0 1.5,0a0.75,0.75 0 1,0 -1.5,0M168.9,330.0m-0.75,0a0.75,0.75 0 1,0 1.5,0a0.75,0.75 0 1,0 -1.5,0M144.6,325.1m-0.75,0a0.75,0.75 0 1,0 1.5,0a0.75,0.75 0 1,0 -1.5,0M163.9,343.2m-0.75,0a0.75,0.75 0 1,0 1.5,0a0.75,0.75 0 1,0 -1.5,0M164.1,342.8m-0.75,0a0.75,0.75 0 1,0 1.5,0a0.75,0.75 0 1,0 -1.5,0M167.2,352.3m-0.75,0a0.75,0.75 0 1,0 1.5,0a0.75,0.75 0 1,0 -1.5,0M161.7,351.1m-0.75,0a0.75,0.75 0 1,0 1.5,0a0.75,0.75 0 1,0 -1.5,0M147.9,347.8m-0.75,0a0.75,0.75 0 1,0 1.5,0a0.75,0.75 0 1,0 -1.5,0M176.0,332.6m-0.75,0a0.75,0.75 0 1,0 1.5,0a0.75,0.75 0 1,0 -1.5,0M141.2,324.7m-0.75,0a0.75,0.75 0 1,0 1.5,0a0.75,0.75 0 1,0 -1.5,0M172.5,332.1m-0.75,0a0.75,0.75 0 1,0 1.5,0a0.75,0.75 0 1,0 -1.5,0M145.7,324.9m-0.75,0a0.75,0.75 0 1,0 1.5,0a0.75,0.75 0 1,0 -1.5,0M175.8,328.9m-0.75,0a0.75,0.75 0 1,0 1.5,0a0.75,0.75 0 1,0 -1.5,0M148.4,324.7m-0.75,0a0.75,0.75 0 1,0 1.5,0a0.75,0.75 0 1,0 -1.5,0M148.2,347.2m-0.75,0a0.75,0.75 0 1,0 1.5,0a0.75,0.75 0 1,0 -1.5,0M146.0,324.2m-0.75,0a0.75,0.75 0 1,0 1.5,0a0.75,0.75 0 1,0 -1.5,0M147.7,351.1m-0.75,0a0.75,0.75 0 1,0 1.5,0a0.75,0.75 0 1,0 -1.5,0M148.8,340.9m-0.75,0a0.75,0.75 0 1,0 1.5,0a0.75,0.75 0 1,0 -1.5,0M164.5,338.3m-0.75,0a0.75,0.75 0 1,0 1.5,0a0.75,0.75 0 1,0 -1.5,0M146.0,321.4m-0.75,0a0.75,0.75 0 1,0 1.5,0a0.75,0.75 0 1,0 -1.5,0M174.4,329.3m-0.75,0a0.75,0.75 0 1,0 1.5,0a0.75,0.75 0 1,0 -1.5,0M142.3,328.7m-0.75,0a0.75,0.75 0 1,0 1.5,0a0.75,0.75 0 1,0 -1.5,0M139.7,328.3m-0.75,0a0.75,0.75 0 1,0 1.5,0a0.75,0.75 0 1,0 -1.5,0M159.4,331.6m-0.75,0a0.75,0.75 0 1,0 1.5,0a0.75,0.75 0 1,0 -1.5,0M149.8,327.4m-0.75,0a0.75,0.75 0 1,0 1.5,0a0.75,0.75 0 1,0 -1.5,0M156.8,345.1m-0.75,0a0.75,0.75 0 1,0 1.5,0a0.75,0.75 0 1,0 -1.5,0M154.6,344.7m-0.75,0a0.75,0.75 0 1,0 1.5,0a0.75,0.75 0 1,0 -1.5,0M158.1,347.5m-0.75,0a0.75,0.75 0 1,0 1.5,0a0.75,0.75 0 1,0 -1.5,0M156.1,342.8m-0.75,0a0.75,0.75 0 1,0 1.5,0a0.75,0.75 0 1,0 -1.5,0M146.4,319.7m-0.75,0a0.75,0.75 0 1,0 1.5,0a0.75,0.75 0 1,0 -1.5,0M159.3,347.2m-0.75,0a0.75,0.75 0 1,0 1.5,0a0.75,0.75 0 1,0 -1.5,0M173.2,348.6m-0.75,0a0.75,0.75 0 1,0 1.5,0a0.75,0.75 0 1,0 -1.5,0M151.9,320.7m-0.75,0a0.75,0.75 0 1,0 1.5,0a0.75,0.75 0 1,0 -1.5,0M169.1,333.2m-0.75,0a0.75,0.75 0 1,0 1.5,0a0.75,0.75 0 1,0 -1.5,0M168.6,345.7m-0.75,0a0.75,0.75 0 1,0 1.5,0a0.75,0.75 0 1,0 -1.5,0M174.6,336.7m-0.75,0a0.75,0.75 0 1,0 1.5,0a0.75,0.75 0 1,0 -1.5,0M138.7,320.0m-0.75,0a0.75,0.75 0 1,0 1.5,0a0.75,0.75 0 1,0 -1.5,0M144.2,342.8m-0.75,0a0.75,0.75 0 1,0 1.5,0a0.75,0.75 0 1,0 -1.5,0M166.8,343.8m-0.75,0a0.75,0.75 0 1,0 1.5,0a0.75,0.75 0 1,0 -1.5,0M162.9,344.6m-0.75,0a0.75,0.75 0 1,0 1.5,0a0.75,0.75 0 1,0 -1.5,0M173.3,333.0m-0.75,0a0.75,0.75 0 1,0 1.5,0a0.75,0.75 0 1,0 -1.5,0M158.4,341.1m-0.75,0a0.75,0.75 0 1,0 1.5,0a0.75,0.75 0 1,0 -1.5,0M171.1,348.0m-0.75,0a0.75,0.75 0 1,0 1.5,0a0.75,0.75 0 1,0 -1.5,0M147.4,325.4m-0.75,0a0.75,0.75 0 1,0 1.5,0a0.75,0.75 0 1,0 -1.5,0M158.3,342.2m-0.75,0a0.75,0.75 0 1,0 1.5,0a0.75,0.75 0 1,0 -1.5,0M169.6,345.0m-0.75,0a0.75,0.75 0 1,0 1.5,0a0.75,0.75 0 1,0 -1.5,0M148.1,319.5m-0.75,0a0.75,0.75 0 1,0 1.5,0a0.75,0.75 0 1,0 -1.5,0M161.7,331.5m-0.75,0a0.75,0.75 0 1,0 1.5,0a0.75,0.75 0 1,0 -1.5,0M178.4,332.5m-0.75,0a0.75,0.75 0 1,0 1.5,0a0.75,0.75 0 1,0 -1.5,0M144.4,320.5m-0.75,0a0.75,0.75 0 1,0 1.5,0a0.75,0.75 0 1,0 -1.5,0M150.6,338.6m-0.75,0a0.75,0.75 0 1,0 1.5,0a0.75,0.75 0 1,0 -1.5,0M151.2,351.1m-0.75,0a0.75,0.75 0 1,0 1.5,0a0.75,0.75 0 1,0 -1.5,0M164.3,333.5m-0.75,0a0.75,0.75 0 1,0 1.5,0a0.75,0.75 0 1,0 -1.5,0M164.7,338.6m-0.75,0a0.75,0.75 0 1,0 1.5,0a0.75,0.75 0 1,0 -1.5,0M162.8,334.8m-0.75,0a0.75,0.75 0 1,0 1.5,0a0.75,0.75 0 1,0 -1.5,0M170.5,327.7m-0.75,0a0.75,0.75 0 1,0 1.5,0a0.75,0.75 0 1,0 -1.5,0M146.5,321.7m-0.75,0a0.75,0.75 0 1,0 1.5,0a0.75,0.75 0 1,0 -1.5,0M134.5,323.3m-0.75,0a0.75,0.75 0 1,0 1.5,0a0.75,0.75 0 1,0 -1.5,0M147.8,340.7m-0.75,0a0.75,0.75 0 1,0 1.5,0a0.75,0.75 0 1,0 -1.5,0M171.7,341.2m-0.75,0a0.75,0.75 0 1,0 1.5,0a0.75,0.75 0 1,0 -1.5,0M170.7,328.4m-0.75,0a0.75,0.75 0 1,0 1.5,0a0.75,0.75 0 1,0 -1.5,0M148.0,339.5m-0.75,0a0.75,0.75 0 1,0 1.5,0a0.75,0.75 0 1,0 -1.5,0M161.3,334.8m-0.75,0a0.75,0.75 0 1,0 1.5,0a0.75,0.75 0 1,0 -1.5,0M173.9,335.6m-0.75,0a0.75,0.75 0 1,0 1.5,0a0.75,0.75 0 1,0 -1.5,0M150.2,319.2m-0.75,0a0.75,0.75 0 1,0 1.5,0a0.75,0.75 0 1,0 -1.5,0M159.8,330.0m-0.75,0a0.75,0.75 0 1,0 1.5,0a0.75,0.75 0 1,0 -1.5,0M159.1,329.4m-0.75,0a0.75,0.75 0 1,0 1.5,0a0.75,0.75 0 1,0 -1.5,0M141.8,320.3m-0.75,0a0.75,0.75 0 1,0 1.5,0a0.75,0.75 0 1,0 -1.5,0M173.5,337.9m-0.75,0a0.75,0.75 0 1,0 1.5,0a0.75,0.75 0 1,0 -1.5,0M145.4,342.6m-0.75,0a0.75,0.75 0 1,0 1.5,0a0.75,0.75 0 1,0 -1.5,0M147.6,325.9m-0.75,0a0.75,0.75 0 1,0 1.5,0a0.75,0.75 0 1,0 -1.5,0M174.0,346.5m-0.75,0a0.75,0.75 0 1,0 1.5,0a0.75,0.75 0 1,0 -1.5,0M154.1,342.3m-0.75,0a0.75,0.75 0 1,0 1.5,0a0.75,0.75 0 1,0 -1.5,0M173.0,350.6m-0.75,0a0.75,0.75 0 1,0 1.5,0a0.75,0.75 0 1,0 -1.5,0M166.5,339.2m-0.75,0a0.75,0.75 0 1,0 1.5,0a0.75,0.75 0 1,0 -1.5,0M148.5,321.3m-0.75,0a0.75,0.75 0 1,0 1.5,0a0.75,0.75 0 1,0 -1.5,0M152.7,348.6m-0.75,0a0.75,0.75 0 1,0 1.5,0a0.75,0.75 0 1,0 -1.5,0M169.3,341.7m-0.75,0a0.75,0.75 0 1,0 1.5,0a0.75,0.75 0 1,0 -1.5,0M154.2,341.1m-0.75,0a0.75,0.75 0 1,0 1.5,0a0.75,0.75 0 1,0 -1.5,0M174.8,343.7m-0.75,0a0.75,0.75 0 1,0 1.5,0a0.75,0.75 0 1,0 -1.5,0M168.8,346.4m-0.75,0a0.75,0.75 0 1,0 1.5,0a0.75,0.75 0 1,0 -1.5,0M164.2,334.4m-0.75,0a0.75,0.75 0 1,0 1.5,0a0.75,0.75 0 1,0 -1.5,0M156.2,351.7m-0.75,0a0.75,0.75 0 1,0 1.5,0a0.75,0.75 0 1,0 -1.5,0M175.0,338.1m-0.75,0a0.75,0.75 0 1,0 1.5,0a0.75,0.75 0 1,0 -1.5,0M169.3,331.1m-0.75,0a0.75,0.75 0 1,0 1.5,0a0.75,0.75 0 1,0 -1.5,0M144.2,344.3m-0.75,0a0.75,0.75 0 1,0 1.5,0a0.75,0.75 0 1,0 -1.5,0" fill="#ec8540"/>
<path d="M207.5,367.8 C208.1,367.2 209.1,367.0 210.0,366.8 C210.9,366.6 211.9,366.3 213.0,366.5 C214.1,366.7 216.0,367.3 216.5,368.0 C217.0,368.7 216.9,370.2 216.2,370.8 C215.4,371.4 213.2,371.2 212.0,371.3 C210.8,371.4 209.9,371.3 209.0,371.2 C208.1,371.1 206.8,371.1 206.5,370.5 C206.2,369.9 206.9,368.4 207.5,367.8 Z" fill="#d8c8ee"/>
<path d="M211.3,368.3m-0.75,0a0.75,0.75 0 1,0 1.5,0a0.75,0.75 0 1,0 -1.5,0M207.9,370.7m-0.75,0a0.75,0.75 0 1,0 1.5,0a0.75,0.75 0 1,0 -1.5,0M212.2,369.5m-0.75,0a0.75,0.75 0 1,0 1.5,0a0.75,0.75 0 1,0 -1.5,0M213.8,368.6m-0.75,0a0.75,0.75 0 1,0 1.5,0a0.75,0.75 0 1,0 -1.5,0M214.0,367.2m-0.75,0a0.75,0.75 0 1,0 1.5,0a0.75,0.75 0 1,0 -1.5,0M208.9,367.0m-0.75,0a0.75,0.75 0 1,0 1.5,0a0.75,0.75 0 1,0 -1.5,0M211.7,371.0m-0.75,0a0.75,0.75 0 1,0 1.5,0a0.75,0.75 0 1,0 -1.5,0M212.6,370.2m-0.75,0a0.75,0.75 0 1,0 1.5,0a0.75,0.75 0 1,0 -1.5,0M210.4,370.1m-0.75,0a0.75,0.75 0 1,0 1.5,0a0.75,0.75 0 1,0 -1.5,0M207.5,367.9m-0.75,0a0.75,0.75 0 1,0 1.5,0a0.75,0.75 0 1,0 -1.5,0M213.5,370.0m-0.75,0a0.75,0.75 0 1,0 1.5,0a0.75,0.75 0 1,0 -1.5,0M210.8,366.9m-0.75,0a0.75,0.75 0 1,0 1.5,0a0.75,0.75 0 1,0 -1.5,0M209.2,367.5m-0.75,0a0.75,0.75 0 1,0 1.5,0a0.75,0.75 0 1,0 -1.5,0M209.4,370.4m-0.75,0a0.75,0.75 0 1,0 1.5,0a0.75,0.75 0 1,0 -1.5,0M208.5,370.8m-0.75,0a0.75,0.75 0 1,0 1.5,0a0.75,0.75 0 1,0 -1.5,0M210.4,368.8m-0.75,0a0.75,0.75 0 1,0 1.5,0a0.75,0.75 0 1,0 -1.5,0M212.6,367.0m-0.75,0a0.75,0.75 0 1,0 1.5,0a0.75,0.75 0 1,0 -1.5,0M212.5,370.8m-0.75,0a0.75,0.75 0 1,0 1.5,0a0.75,0.75 0 1,0 -1.5,0M207.3,369.1m-0.75,0a0.75,0.75 0 1,0 1.5,0a0.75,0.75 0 1,0 -1.5,0M211.6,370.9m-0.75,0a0.75,0.75 0 1,0 1.5,0a0.75,0.75 0 1,0 -1.5,0M210.8,368.4m-0.75,0a0.75,0.75 0 1,0 1.5,0a0.75,0.75 0 1,0 -1.5,0M213.1,366.9m-0.75,0a0.75,0.75 0 1,0 1.5,0a0.75,0.75 0 1,0 -1.5,0M212.5,367.3m-0.75,0a0.75,0.75 0 1,0 1.5,0a0.75,0.75 0 1,0 -1.5,0M212.8,371.1m-0.75,0a0.75,0.75 0 1,0 1.5,0a0.75,0.75 0 1,0 -1.5,0M207.0,369.2m-0.75,0a0.75,0.75 0 1,0 1.5,0a0.75,0.75 0 1,0 -1.5,0M212.7,367.2m-0.75,0a0.75,0.75 0 1,0 1.5,0a0.75,0.75 0 1,0 -1.5,0" fill="#a683d2"/>
<path d="M197.5,371.2 C197.7,370.9 199.3,370.2 200.0,370.2 C200.7,370.2 201.7,370.7 201.5,371.0 C201.3,371.3 199.7,372.2 199.0,372.2 C198.3,372.2 197.3,371.5 197.5,371.2 Z" fill="#b49ad6" opacity="1.0"/>
<circle cx="177.5" cy="391.3" r="0.7" fill="#557a8a"/>
<circle cx="168.8" cy="394" r="0.7" fill="#557a8a"/>
<circle cx="162.5" cy="396.9" r="0.7" fill="#557a8a"/>
<circle cx="204" cy="369.5" r="0.7" fill="#557a8a"/>
<path d="M138.5,400.5 C139.3,399.6 140.7,398.2 142.0,397.8 C143.3,397.4 145.2,397.4 146.5,397.8 C147.8,398.2 148.9,399.4 149.5,400.5 C150.1,401.6 149.4,403.2 149.8,404.5 C150.2,405.8 151.0,407.3 152.0,408.5 C153.0,409.7 154.8,410.6 156.0,411.5 C157.2,412.4 159.1,413.2 159.5,413.8 C159.9,414.4 159.4,415.0 158.5,414.8 C157.6,414.6 155.5,413.7 154.0,412.8 C152.5,411.9 150.8,410.2 149.5,409.5 C148.2,408.8 147.4,408.6 146.0,408.5 C144.6,408.4 142.4,409.1 141.0,408.8 C139.6,408.5 138.2,407.7 137.5,406.8 C136.8,405.9 136.8,404.6 137.0,403.5 C137.2,402.4 137.7,401.4 138.5,400.5 Z" fill="#9ccfdf"/>
<path d="M142.3,399.3m-0.75,0a0.75,0.75 0 1,0 1.5,0a0.75,0.75 0 1,0 -1.5,0M145.9,400.2m-0.75,0a0.75,0.75 0 1,0 1.5,0a0.75,0.75 0 1,0 -1.5,0M138.4,404.4m-0.75,0a0.75,0.75 0 1,0 1.5,0a0.75,0.75 0 1,0 -1.5,0M149.1,402.3m-0.75,0a0.75,0.75 0 1,0 1.5,0a0.75,0.75 0 1,0 -1.5,0M140.8,399.3m-0.75,0a0.75,0.75 0 1,0 1.5,0a0.75,0.75 0 1,0 -1.5,0M155.8,411.5m-0.75,0a0.75,0.75 0 1,0 1.5,0a0.75,0.75 0 1,0 -1.5,0M144.0,408.3m-0.75,0a0.75,0.75 0 1,0 1.5,0a0.75,0.75 0 1,0 -1.5,0M153.6,412.3m-0.75,0a0.75,0.75 0 1,0 1.5,0a0.75,0.75 0 1,0 -1.5,0M150.7,409.1m-0.75,0a0.75,0.75 0 1,0 1.5,0a0.75,0.75 0 1,0 -1.5,0M148.4,400.5m-0.75,0a0.75,0.75 0 1,0 1.5,0a0.75,0.75 0 1,0 -1.5,0M147.7,399.0m-0.75,0a0.75,0.75 0 1,0 1.5,0a0.75,0.75 0 1,0 -1.5,0M149.4,402.7m-0.75,0a0.75,0.75 0 1,0 1.5,0a0.75,0.75 0 1,0 -1.5,0M157.0,412.2m-0.75,0a0.75,0.75 0 1,0 1.5,0a0.75,0.75 0 1,0 -1.5,0M148.5,404.7m-0.75,0a0.75,0.75 0 1,0 1.5,0a0.75,0.75 0 1,0 -1.5,0M140.6,402.8m-0.75,0a0.75,0.75 0 1,0 1.5,0a0.75,0.75 0 1,0 -1.5,0M143.3,406.7m-0.75,0a0.75,0.75 0 1,0 1.5,0a0.75,0.75 0 1,0 -1.5,0M147.6,403.4m-0.75,0a0.75,0.75 0 1,0 1.5,0a0.75,0.75 0 1,0 -1.5,0M146.3,401.0m-0.75,0a0.75,0.75 0 1,0 1.5,0a0.75,0.75 0 1,0 -1.5,0M144.2,407.2m-0.75,0a0.75,0.75 0 1,0 1.5,0a0.75,0.75 0 1,0 -1.5,0M138.3,401.4m-0.75,0a0.75,0.75 0 1,0 1.5,0a0.75,0.75 0 1,0 -1.5,0M142.3,403.2m-0.75,0a0.75,0.75 0 1,0 1.5,0a0.75,0.75 0 1,0 -1.5,0M140.9,405.4m-0.75,0a0.75,0.75 0 1,0 1.5,0a0.75,0.75 0 1,0 -1.5,0M157.3,414.0m-0.75,0a0.75,0.75 0 1,0 1.5,0a0.75,0.75 0 1,0 -1.5,0M137.3,402.5m-0.75,0a0.75,0.75 0 1,0 1.5,0a0.75,0.75 0 1,0 -1.5,0M143.6,400.8m-0.75,0a0.75,0.75 0 1,0 1.5,0a0.75,0.75 0 1,0 -1.5,0M147.0,399.8m-0.75,0a0.75,0.75 0 1,0 1.5,0a0.75,0.75 0 1,0 -1.5,0M144.4,397.6m-0.75,0a0.75,0.75 0 1,0 1.5,0a0.75,0.75 0 1,0 -1.5,0M143.5,399.1m-0.75,0a0.75,0.75 0 1,0 1.5,0a0.75,0.75 0 1,0 -1.5,0M141.6,398.5m-0.75,0a0.75,0.75 0 1,0 1.5,0a0.75,0.75 0 1,0 -1.5,0M137.8,406.0m-0.75,0a0.75,0.75 0 1,0 1.5,0a0.75,0.75 0 1,0 -1.5,0M139.7,406.7m-0.75,0a0.75,0.75 0 1,0 1.5,0a0.75,0.75 0 1,0 -1.5,0M142.4,404.6m-0.75,0a0.75,0.75 0 1,0 1.5,0a0.75,0.75 0 1,0 -1.5,0M137.7,404.8m-0.75,0a0.75,0.75 0 1,0 1.5,0a0.75,0.75 0 1,0 -1.5,0M137.6,401.9m-0.75,0a0.75,0.75 0 1,0 1.5,0a0.75,0.75 0 1,0 -1.5,0M142.4,401.1m-0.75,0a0.75,0.75 0 1,0 1.5,0a0.75,0.75 0 1,0 -1.5,0M148.1,399.1m-0.75,0a0.75,0.75 0 1,0 1.5,0a0.75,0.75 0 1,0 -1.5,0M157.4,413.5m-0.75,0a0.75,0.75 0 1,0 1.5,0a0.75,0.75 0 1,0 -1.5,0M151.8,409.4m-0.75,0a0.75,0.75 0 1,0 1.5,0a0.75,0.75 0 1,0 -1.5,0M159.0,414.2m-0.75,0a0.75,0.75 0 1,0 1.5,0a0.75,0.75 0 1,0 -1.5,0M155.3,411.1m-0.75,0a0.75,0.75 0 1,0 1.5,0a0.75,0.75 0 1,0 -1.5,0M147.6,406.6m-0.75,0a0.75,0.75 0 1,0 1.5,0a0.75,0.75 0 1,0 -1.5,0M140.1,403.8m-0.75,0a0.75,0.75 0 1,0 1.5,0a0.75,0.75 0 1,0 -1.5,0M149.3,404.1m-0.75,0a0.75,0.75 0 1,0 1.5,0a0.75,0.75 0 1,0 -1.5,0M142.2,405.9m-0.75,0a0.75,0.75 0 1,0 1.5,0a0.75,0.75 0 1,0 -1.5,0M139.5,408.2m-0.75,0a0.75,0.75 0 1,0 1.5,0a0.75,0.75 0 1,0 -1.5,0M140.9,400.1m-0.75,0a0.75,0.75 0 1,0 1.5,0a0.75,0.75 0 1,0 -1.5,0M148.1,403.3m-0.75,0a0.75,0.75 0 1,0 1.5,0a0.75,0.75 0 1,0 -1.5,0M144.0,406.9m-0.75,0a0.75,0.75 0 1,0 1.5,0a0.75,0.75 0 1,0 -1.5,0M147.9,398.8m-0.75,0a0.75,0.75 0 1,0 1.5,0a0.75,0.75 0 1,0 -1.5,0M147.0,399.9m-0.75,0a0.75,0.75 0 1,0 1.5,0a0.75,0.75 0 1,0 -1.5,0M141.0,408.8m-0.75,0a0.75,0.75 0 1,0 1.5,0a0.75,0.75 0 1,0 -1.5,0M144.3,402.7m-0.75,0a0.75,0.75 0 1,0 1.5,0a0.75,0.75 0 1,0 -1.5,0M155.1,411.5m-0.75,0a0.75,0.75 0 1,0 1.5,0a0.75,0.75 0 1,0 -1.5,0M150.2,406.1m-0.75,0a0.75,0.75 0 1,0 1.5,0a0.75,0.75 0 1,0 -1.5,0M152.3,410.4m-0.75,0a0.75,0.75 0 1,0 1.5,0a0.75,0.75 0 1,0 -1.5,0M146.1,407.9m-0.75,0a0.75,0.75 0 1,0 1.5,0a0.75,0.75 0 1,0 -1.5,0M144.0,401.5m-0.75,0a0.75,0.75 0 1,0 1.5,0a0.75,0.75 0 1,0 -1.5,0M144.3,408.3m-0.75,0a0.75,0.75 0 1,0 1.5,0a0.75,0.75 0 1,0 -1.5,0M146.0,404.4m-0.75,0a0.75,0.75 0 1,0 1.5,0a0.75,0.75 0 1,0 -1.5,0M141.1,406.8m-0.75,0a0.75,0.75 0 1,0 1.5,0a0.75,0.75 0 1,0 -1.5,0M139.0,401.9m-0.75,0a0.75,0.75 0 1,0 1.5,0a0.75,0.75 0 1,0 -1.5,0M140.3,401.6m-0.75,0a0.75,0.75 0 1,0 1.5,0a0.75,0.75 0 1,0 -1.5,0M148.8,400.2m-0.75,0a0.75,0.75 0 1,0 1.5,0a0.75,0.75 0 1,0 -1.5,0M144.1,399.6m-0.75,0a0.75,0.75 0 1,0 1.5,0a0.75,0.75 0 1,0 -1.5,0M152.9,410.2m-0.75,0a0.75,0.75 0 1,0 1.5,0a0.75,0.75 0 1,0 -1.5,0M149.6,409.5m-0.75,0a0.75,0.75 0 1,0 1.5,0a0.75,0.75 0 1,0 -1.5,0M148.3,400.1m-0.75,0a0.75,0.75 0 1,0 1.5,0a0.75,0.75 0 1,0 -1.5,0M145.7,404.8m-0.75,0a0.75,0.75 0 1,0 1.5,0a0.75,0.75 0 1,0 -1.5,0M140.4,400.2m-0.75,0a0.75,0.75 0 1,0 1.5,0a0.75,0.75 0 1,0 -1.5,0M156.2,411.8m-0.75,0a0.75,0.75 0 1,0 1.5,0a0.75,0.75 0 1,0 -1.5,0M142.2,407.1m-0.75,0a0.75,0.75 0 1,0 1.5,0a0.75,0.75 0 1,0 -1.5,0M157.9,413.7m-0.75,0a0.75,0.75 0 1,0 1.5,0a0.75,0.75 0 1,0 -1.5,0M155.9,412.9m-0.75,0a0.75,0.75 0 1,0 1.5,0a0.75,0.75 0 1,0 -1.5,0M157.2,412.8m-0.75,0a0.75,0.75 0 1,0 1.5,0a0.75,0.75 0 1,0 -1.5,0M151.9,409.6m-0.75,0a0.75,0.75 0 1,0 1.5,0a0.75,0.75 0 1,0 -1.5,0M150.7,406.6m-0.75,0a0.75,0.75 0 1,0 1.5,0a0.75,0.75 0 1,0 -1.5,0M148.2,406.9m-0.75,0a0.75,0.75 0 1,0 1.5,0a0.75,0.75 0 1,0 -1.5,0M141.5,398.7m-0.75,0a0.75,0.75 0 1,0 1.5,0a0.75,0.75 0 1,0 -1.5,0M147.8,400.0m-0.75,0a0.75,0.75 0 1,0 1.5,0a0.75,0.75 0 1,0 -1.5,0M153.9,411.6m-0.75,0a0.75,0.75 0 1,0 1.5,0a0.75,0.75 0 1,0 -1.5,0M143.7,404.2m-0.75,0a0.75,0.75 0 1,0 1.5,0a0.75,0.75 0 1,0 -1.5,0M154.1,412.4m-0.75,0a0.75,0.75 0 1,0 1.5,0a0.75,0.75 0 1,0 -1.5,0M146.9,400.5m-0.75,0a0.75,0.75 0 1,0 1.5,0a0.75,0.75 0 1,0 -1.5,0M144.2,408.2m-0.75,0a0.75,0.75 0 1,0 1.5,0a0.75,0.75 0 1,0 -1.5,0" fill="#4c9fba"/>
<path d="M183.0,409.5 C183.3,408.8 186.0,407.9 186.8,408.6 C187.6,409.3 187.4,411.9 187.6,413.7 C187.8,415.5 187.7,417.4 188.2,419.5 C188.7,421.6 189.0,424.7 190.5,426.3 C192.0,427.9 194.9,428.6 197.1,429.2 C199.3,429.8 202.0,429.5 203.9,430.2 C205.8,430.9 207.4,431.8 208.7,433.1 C210.0,434.4 211.1,436.4 211.5,438.0 C211.9,439.6 211.9,441.4 211.2,442.8 C210.5,444.2 208.8,445.4 207.2,446.7 C205.6,448.0 203.0,449.3 201.5,450.6 C200.0,451.9 199.9,453.4 198.3,454.4 C196.8,455.4 195.1,456.1 192.2,456.4 C189.2,456.7 183.3,456.9 180.6,456.4 C177.9,455.9 176.9,455.0 175.8,453.5 C174.7,452.0 174.3,448.9 173.8,447.6 C173.3,446.3 172.3,446.7 172.8,445.7 C173.3,444.7 176.2,443.2 176.7,441.8 C177.2,440.4 176.3,437.6 175.8,437.0 C175.3,436.4 174.5,438.7 173.8,437.9 C173.2,437.1 171.6,433.4 171.9,432.1 C172.2,430.8 174.4,430.7 175.8,430.2 C177.2,429.7 178.9,429.6 180.6,429.2 C182.3,428.8 184.9,428.8 186.0,428.0 C187.1,427.2 186.8,426.3 186.9,424.4 C187.0,422.5 186.7,418.6 186.3,416.6 C185.9,414.7 185.2,413.9 184.7,412.7 C184.1,411.5 182.7,410.2 183.0,409.5 Z" fill="#9ccfdf"/>
<path d="M196.7,444.2m-0.75,0a0.75,0.75 0 1,0 1.5,0a0.75,0.75 0 1,0 -1.5,0M173.0,430.9m-0.75,0a0.75,0.75 0 1,0 1.5,0a0.75,0.75 0 1,0 -1.5,0M209.5,439.7m-0.75,0a0.75,0.75 0 1,0 1.5,0a0.75,0.75 0 1,0 -1.5,0M193.6,436.1m-0.75,0a0.75,0.75 0 1,0 1.5,0a0.75,0.75 0 1,0 -1.5,0M183.0,452.7m-0.75,0a0.75,0.75 0 1,0 1.5,0a0.75,0.75 0 1,0 -1.5,0M183.4,454.8m-0.75,0a0.75,0.75 0 1,0 1.5,0a0.75,0.75 0 1,0 -1.5,0M193.4,441.1m-0.75,0a0.75,0.75 0 1,0 1.5,0a0.75,0.75 0 1,0 -1.5,0M180.0,453.9m-0.75,0a0.75,0.75 0 1,0 1.5,0a0.75,0.75 0 1,0 -1.5,0M186.3,416.4m-0.75,0a0.75,0.75 0 1,0 1.5,0a0.75,0.75 0 1,0 -1.5,0M183.9,437.5m-0.75,0a0.75,0.75 0 1,0 1.5,0a0.75,0.75 0 1,0 -1.5,0M204.5,431.6m-0.75,0a0.75,0.75 0 1,0 1.5,0a0.75,0.75 0 1,0 -1.5,0M184.5,431.6m-0.75,0a0.75,0.75 0 1,0 1.5,0a0.75,0.75 0 1,0 -1.5,0M201.8,449.2m-0.75,0a0.75,0.75 0 1,0 1.5,0a0.75,0.75 0 1,0 -1.5,0M186.5,436.3m-0.75,0a0.75,0.75 0 1,0 1.5,0a0.75,0.75 0 1,0 -1.5,0M179.1,454.5m-0.75,0a0.75,0.75 0 1,0 1.5,0a0.75,0.75 0 1,0 -1.5,0M179.7,444.9m-0.75,0a0.75,0.75 0 1,0 1.5,0a0.75,0.75 0 1,0 -1.5,0M192.8,445.9m-0.75,0a0.75,0.75 0 1,0 1.5,0a0.75,0.75 0 1,0 -1.5,0M176.2,444.5m-0.75,0a0.75,0.75 0 1,0 1.5,0a0.75,0.75 0 1,0 -1.5,0M196.2,452.7m-0.75,0a0.75,0.75 0 1,0 1.5,0a0.75,0.75 0 1,0 -1.5,0M185.4,453.0m-0.75,0a0.75,0.75 0 1,0 1.5,0a0.75,0.75 0 1,0 -1.5,0M188.1,419.8m-0.75,0a0.75,0.75 0 1,0 1.5,0a0.75,0.75 0 1,0 -1.5,0M195.6,448.3m-0.75,0a0.75,0.75 0 1,0 1.5,0a0.75,0.75 0 1,0 -1.5,0M190.0,428.7m-0.75,0a0.75,0.75 0 1,0 1.5,0a0.75,0.75 0 1,0 -1.5,0M173.2,432.2m-0.75,0a0.75,0.75 0 1,0 1.5,0a0.75,0.75 0 1,0 -1.5,0M197.0,446.5m-0.75,0a0.75,0.75 0 1,0 1.5,0a0.75,0.75 0 1,0 -1.5,0M177.8,449.2m-0.75,0a0.75,0.75 0 1,0 1.5,0a0.75,0.75 0 1,0 -1.5,0M183.6,430.3m-0.75,0a0.75,0.75 0 1,0 1.5,0a0.75,0.75 0 1,0 -1.5,0M191.3,443.6m-0.75,0a0.75,0.75 0 1,0 1.5,0a0.75,0.75 0 1,0 -1.5,0M186.9,456.1m-0.75,0a0.75,0.75 0 1,0 1.5,0a0.75,0.75 0 1,0 -1.5,0M210.2,438.7m-0.75,0a0.75,0.75 0 1,0 1.5,0a0.75,0.75 0 1,0 -1.5,0M186.3,446.4m-0.75,0a0.75,0.75 0 1,0 1.5,0a0.75,0.75 0 1,0 -1.5,0M202.8,441.9m-0.75,0a0.75,0.75 0 1,0 1.5,0a0.75,0.75 0 1,0 -1.5,0M198.4,445.1m-0.75,0a0.75,0.75 0 1,0 1.5,0a0.75,0.75 0 1,0 -1.5,0M186.4,442.4m-0.75,0a0.75,0.75 0 1,0 1.5,0a0.75,0.75 0 1,0 -1.5,0M183.1,431.8m-0.75,0a0.75,0.75 0 1,0 1.5,0a0.75,0.75 0 1,0 -1.5,0M202.6,441.8m-0.75,0a0.75,0.75 0 1,0 1.5,0a0.75,0.75 0 1,0 -1.5,0M183.6,454.1m-0.75,0a0.75,0.75 0 1,0 1.5,0a0.75,0.75 0 1,0 -1.5,0M197.8,436.4m-0.75,0a0.75,0.75 0 1,0 1.5,0a0.75,0.75 0 1,0 -1.5,0M181.9,440.8m-0.75,0a0.75,0.75 0 1,0 1.5,0a0.75,0.75 0 1,0 -1.5,0M190.3,447.8m-0.75,0a0.75,0.75 0 1,0 1.5,0a0.75,0.75 0 1,0 -1.5,0M197.7,446.9m-0.75,0a0.75,0.75 0 1,0 1.5,0a0.75,0.75 0 1,0 -1.5,0M185.7,439.5m-0.75,0a0.75,0.75 0 1,0 1.5,0a0.75,0.75 0 1,0 -1.5,0M201.3,448.4m-0.75,0a0.75,0.75 0 1,0 1.5,0a0.75,0.75 0 1,0 -1.5,0M185.8,449.1m-0.75,0a0.75,0.75 0 1,0 1.5,0a0.75,0.75 0 1,0 -1.5,0M206.6,441.6m-0.75,0a0.75,0.75 0 1,0 1.5,0a0.75,0.75 0 1,0 -1.5,0M192.5,433.9m-0.75,0a0.75,0.75 0 1,0 1.5,0a0.75,0.75 0 1,0 -1.5,0M178.5,448.8m-0.75,0a0.75,0.75 0 1,0 1.5,0a0.75,0.75 0 1,0 -1.5,0M199.5,443.2m-0.75,0a0.75,0.75 0 1,0 1.5,0a0.75,0.75 0 1,0 -1.5,0M203.0,436.4m-0.75,0a0.75,0.75 0 1,0 1.5,0a0.75,0.75 0 1,0 -1.5,0M196.8,445.8m-0.75,0a0.75,0.75 0 1,0 1.5,0a0.75,0.75 0 1,0 -1.5,0M197.3,443.2m-0.75,0a0.75,0.75 0 1,0 1.5,0a0.75,0.75 0 1,0 -1.5,0M189.5,439.8m-0.75,0a0.75,0.75 0 1,0 1.5,0a0.75,0.75 0 1,0 -1.5,0M180.6,441.5m-0.75,0a0.75,0.75 0 1,0 1.5,0a0.75,0.75 0 1,0 -1.5,0M190.4,426.7m-0.75,0a0.75,0.75 0 1,0 1.5,0a0.75,0.75 0 1,0 -1.5,0M196.3,436.9m-0.75,0a0.75,0.75 0 1,0 1.5,0a0.75,0.75 0 1,0 -1.5,0M181.4,452.0m-0.75,0a0.75,0.75 0 1,0 1.5,0a0.75,0.75 0 1,0 -1.5,0M176.5,448.6m-0.75,0a0.75,0.75 0 1,0 1.5,0a0.75,0.75 0 1,0 -1.5,0M186.8,410.1m-0.75,0a0.75,0.75 0 1,0 1.5,0a0.75,0.75 0 1,0 -1.5,0M195.0,454.7m-0.75,0a0.75,0.75 0 1,0 1.5,0a0.75,0.75 0 1,0 -1.5,0M204.3,439.4m-0.75,0a0.75,0.75 0 1,0 1.5,0a0.75,0.75 0 1,0 -1.5,0M186.6,415.2m-0.75,0a0.75,0.75 0 1,0 1.5,0a0.75,0.75 0 1,0 -1.5,0M195.6,435.6m-0.75,0a0.75,0.75 0 1,0 1.5,0a0.75,0.75 0 1,0 -1.5,0M176.2,435.7m-0.75,0a0.75,0.75 0 1,0 1.5,0a0.75,0.75 0 1,0 -1.5,0M197.0,451.4m-0.75,0a0.75,0.75 0 1,0 1.5,0a0.75,0.75 0 1,0 -1.5,0M186.9,429.2m-0.75,0a0.75,0.75 0 1,0 1.5,0a0.75,0.75 0 1,0 -1.5,0M188.4,423.8m-0.75,0a0.75,0.75 0 1,0 1.5,0a0.75,0.75 0 1,0 -1.5,0M183.3,431.4m-0.75,0a0.75,0.75 0 1,0 1.5,0a0.75,0.75 0 1,0 -1.5,0M176.7,438.4m-0.75,0a0.75,0.75 0 1,0 1.5,0a0.75,0.75 0 1,0 -1.5,0M203.1,448.3m-0.75,0a0.75,0.75 0 1,0 1.5,0a0.75,0.75 0 1,0 -1.5,0M172.4,434.1m-0.75,0a0.75,0.75 0 1,0 1.5,0a0.75,0.75 0 1,0 -1.5,0M182.8,453.6m-0.75,0a0.75,0.75 0 1,0 1.5,0a0.75,0.75 0 1,0 -1.5,0M196.1,431.3m-0.75,0a0.75,0.75 0 1,0 1.5,0a0.75,0.75 0 1,0 -1.5,0M197.6,437.5m-0.75,0a0.75,0.75 0 1,0 1.5,0a0.75,0.75 0 1,0 -1.5,0M183.7,434.0m-0.75,0a0.75,0.75 0 1,0 1.5,0a0.75,0.75 0 1,0 -1.5,0M201.6,436.9m-0.75,0a0.75,0.75 0 1,0 1.5,0a0.75,0.75 0 1,0 -1.5,0M190.0,452.7m-0.75,0a0.75,0.75 0 1,0 1.5,0a0.75,0.75 0 1,0 -1.5,0M207.3,434.7m-0.75,0a0.75,0.75 0 1,0 1.5,0a0.75,0.75 0 1,0 -1.5,0M188.9,436.2m-0.75,0a0.75,0.75 0 1,0 1.5,0a0.75,0.75 0 1,0 -1.5,0M200.1,438.9m-0.75,0a0.75,0.75 0 1,0 1.5,0a0.75,0.75 0 1,0 -1.5,0M191.1,452.4m-0.75,0a0.75,0.75 0 1,0 1.5,0a0.75,0.75 0 1,0 -1.5,0M187.2,427.3m-0.75,0a0.75,0.75 0 1,0 1.5,0a0.75,0.75 0 1,0 -1.5,0M183.7,448.5m-0.75,0a0.75,0.75 0 1,0 1.5,0a0.75,0.75 0 1,0 -1.5,0M174.5,448.8m-0.75,0a0.75,0.75 0 1,0 1.5,0a0.75,0.75 0 1,0 -1.5,0M183.3,446.1m-0.75,0a0.75,0.75 0 1,0 1.5,0a0.75,0.75 0 1,0 -1.5,0M191.0,434.9m-0.75,0a0.75,0.75 0 1,0 1.5,0a0.75,0.75 0 1,0 -1.5,0M178.0,436.7m-0.75,0a0.75,0.75 0 1,0 1.5,0a0.75,0.75 0 1,0 -1.5,0M181.0,448.0m-0.75,0a0.75,0.75 0 1,0 1.5,0a0.75,0.75 0 1,0 -1.5,0M203.5,440.4m-0.75,0a0.75,0.75 0 1,0 1.5,0a0.75,0.75 0 1,0 -1.5,0M197.6,454.4m-0.75,0a0.75,0.75 0 1,0 1.5,0a0.75,0.75 0 1,0 -1.5,0M183.5,452.7m-0.75,0a0.75,0.75 0 1,0 1.5,0a0.75,0.75 0 1,0 -1.5,0M177.8,437.9m-0.75,0a0.75,0.75 0 1,0 1.5,0a0.75,0.75 0 1,0 -1.5,0M194.8,444.2m-0.75,0a0.75,0.75 0 1,0 1.5,0a0.75,0.75 0 1,0 -1.5,0M189.1,423.6m-0.75,0a0.75,0.75 0 1,0 1.5,0a0.75,0.75 0 1,0 -1.5,0M195.8,432.0m-0.75,0a0.75,0.75 0 1,0 1.5,0a0.75,0.75 0 1,0 -1.5,0M177.9,438.9m-0.75,0a0.75,0.75 0 1,0 1.5,0a0.75,0.75 0 1,0 -1.5,0M192.1,452.4m-0.75,0a0.75,0.75 0 1,0 1.5,0a0.75,0.75 0 1,0 -1.5,0M194.0,438.4m-0.75,0a0.75,0.75 0 1,0 1.5,0a0.75,0.75 0 1,0 -1.5,0M182.4,435.0m-0.75,0a0.75,0.75 0 1,0 1.5,0a0.75,0.75 0 1,0 -1.5,0M182.0,444.6m-0.75,0a0.75,0.75 0 1,0 1.5,0a0.75,0.75 0 1,0 -1.5,0M200.3,440.0m-0.75,0a0.75,0.75 0 1,0 1.5,0a0.75,0.75 0 1,0 -1.5,0M184.8,446.9m-0.75,0a0.75,0.75 0 1,0 1.5,0a0.75,0.75 0 1,0 -1.5,0M209.9,441.3m-0.75,0a0.75,0.75 0 1,0 1.5,0a0.75,0.75 0 1,0 -1.5,0M210.7,440.5m-0.75,0a0.75,0.75 0 1,0 1.5,0a0.75,0.75 0 1,0 -1.5,0M187.3,414.9m-0.75,0a0.75,0.75 0 1,0 1.5,0a0.75,0.75 0 1,0 -1.5,0M205.0,439.7m-0.75,0a0.75,0.75 0 1,0 1.5,0a0.75,0.75 0 1,0 -1.5,0M205.9,433.4m-0.75,0a0.75,0.75 0 1,0 1.5,0a0.75,0.75 0 1,0 -1.5,0M195.5,436.1m-0.75,0a0.75,0.75 0 1,0 1.5,0a0.75,0.75 0 1,0 -1.5,0M207.4,431.6m-0.75,0a0.75,0.75 0 1,0 1.5,0a0.75,0.75 0 1,0 -1.5,0M190.6,451.4m-0.75,0a0.75,0.75 0 1,0 1.5,0a0.75,0.75 0 1,0 -1.5,0M186.8,427.0m-0.75,0a0.75,0.75 0 1,0 1.5,0a0.75,0.75 0 1,0 -1.5,0M181.2,431.7m-0.75,0a0.75,0.75 0 1,0 1.5,0a0.75,0.75 0 1,0 -1.5,0M186.6,453.7m-0.75,0a0.75,0.75 0 1,0 1.5,0a0.75,0.75 0 1,0 -1.5,0M199.3,440.9m-0.75,0a0.75,0.75 0 1,0 1.5,0a0.75,0.75 0 1,0 -1.5,0M190.7,454.1m-0.75,0a0.75,0.75 0 1,0 1.5,0a0.75,0.75 0 1,0 -1.5,0M183.5,441.0m-0.75,0a0.75,0.75 0 1,0 1.5,0a0.75,0.75 0 1,0 -1.5,0M187.9,455.4m-0.75,0a0.75,0.75 0 1,0 1.5,0a0.75,0.75 0 1,0 -1.5,0M201.1,443.1m-0.75,0a0.75,0.75 0 1,0 1.5,0a0.75,0.75 0 1,0 -1.5,0M198.7,453.8m-0.75,0a0.75,0.75 0 1,0 1.5,0a0.75,0.75 0 1,0 -1.5,0M174.3,446.0m-0.75,0a0.75,0.75 0 1,0 1.5,0a0.75,0.75 0 1,0 -1.5,0M207.7,432.1m-0.75,0a0.75,0.75 0 1,0 1.5,0a0.75,0.75 0 1,0 -1.5,0M184.1,410.8m-0.75,0a0.75,0.75 0 1,0 1.5,0a0.75,0.75 0 1,0 -1.5,0M179.0,432.9m-0.75,0a0.75,0.75 0 1,0 1.5,0a0.75,0.75 0 1,0 -1.5,0M187.9,434.0m-0.75,0a0.75,0.75 0 1,0 1.5,0a0.75,0.75 0 1,0 -1.5,0M176.2,434.6m-0.75,0a0.75,0.75 0 1,0 1.5,0a0.75,0.75 0 1,0 -1.5,0M208.6,437.3m-0.75,0a0.75,0.75 0 1,0 1.5,0a0.75,0.75 0 1,0 -1.5,0M172.6,434.4m-0.75,0a0.75,0.75 0 1,0 1.5,0a0.75,0.75 0 1,0 -1.5,0M191.3,436.0m-0.75,0a0.75,0.75 0 1,0 1.5,0a0.75,0.75 0 1,0 -1.5,0M186.9,438.6m-0.75,0a0.75,0.75 0 1,0 1.5,0a0.75,0.75 0 1,0 -1.5,0M184.1,430.1m-0.75,0a0.75,0.75 0 1,0 1.5,0a0.75,0.75 0 1,0 -1.5,0M175.4,445.7m-0.75,0a0.75,0.75 0 1,0 1.5,0a0.75,0.75 0 1,0 -1.5,0M189.0,436.3m-0.75,0a0.75,0.75 0 1,0 1.5,0a0.75,0.75 0 1,0 -1.5,0M186.8,413.1m-0.75,0a0.75,0.75 0 1,0 1.5,0a0.75,0.75 0 1,0 -1.5,0M188.6,423.5m-0.75,0a0.75,0.75 0 1,0 1.5,0a0.75,0.75 0 1,0 -1.5,0M201.9,435.2m-0.75,0a0.75,0.75 0 1,0 1.5,0a0.75,0.75 0 1,0 -1.5,0M207.6,440.0m-0.75,0a0.75,0.75 0 1,0 1.5,0a0.75,0.75 0 1,0 -1.5,0M202.2,436.1m-0.75,0a0.75,0.75 0 1,0 1.5,0a0.75,0.75 0 1,0 -1.5,0M189.5,447.8m-0.75,0a0.75,0.75 0 1,0 1.5,0a0.75,0.75 0 1,0 -1.5,0M198.0,454.5m-0.75,0a0.75,0.75 0 1,0 1.5,0a0.75,0.75 0 1,0 -1.5,0M200.9,442.3m-0.75,0a0.75,0.75 0 1,0 1.5,0a0.75,0.75 0 1,0 -1.5,0M182.5,447.6m-0.75,0a0.75,0.75 0 1,0 1.5,0a0.75,0.75 0 1,0 -1.5,0M187.1,414.6m-0.75,0a0.75,0.75 0 1,0 1.5,0a0.75,0.75 0 1,0 -1.5,0M182.3,441.0m-0.75,0a0.75,0.75 0 1,0 1.5,0a0.75,0.75 0 1,0 -1.5,0M202.3,435.3m-0.75,0a0.75,0.75 0 1,0 1.5,0a0.75,0.75 0 1,0 -1.5,0M189.0,425.9m-0.75,0a0.75,0.75 0 1,0 1.5,0a0.75,0.75 0 1,0 -1.5,0M185.0,409.0m-0.75,0a0.75,0.75 0 1,0 1.5,0a0.75,0.75 0 1,0 -1.5,0M195.2,448.3m-0.75,0a0.75,0.75 0 1,0 1.5,0a0.75,0.75 0 1,0 -1.5,0M200.2,429.9m-0.75,0a0.75,0.75 0 1,0 1.5,0a0.75,0.75 0 1,0 -1.5,0M189.2,429.7m-0.75,0a0.75,0.75 0 1,0 1.5,0a0.75,0.75 0 1,0 -1.5,0M193.1,455.2m-0.75,0a0.75,0.75 0 1,0 1.5,0a0.75,0.75 0 1,0 -1.5,0M173.2,436.3m-0.75,0a0.75,0.75 0 1,0 1.5,0a0.75,0.75 0 1,0 -1.5,0M191.1,451.0m-0.75,0a0.75,0.75 0 1,0 1.5,0a0.75,0.75 0 1,0 -1.5,0M187.5,418.8m-0.75,0a0.75,0.75 0 1,0 1.5,0a0.75,0.75 0 1,0 -1.5,0M205.8,438.2m-0.75,0a0.75,0.75 0 1,0 1.5,0a0.75,0.75 0 1,0 -1.5,0M205.1,432.0m-0.75,0a0.75,0.75 0 1,0 1.5,0a0.75,0.75 0 1,0 -1.5,0M199.1,450.1m-0.75,0a0.75,0.75 0 1,0 1.5,0a0.75,0.75 0 1,0 -1.5,0M196.7,447.1m-0.75,0a0.75,0.75 0 1,0 1.5,0a0.75,0.75 0 1,0 -1.5,0M192.3,436.7m-0.75,0a0.75,0.75 0 1,0 1.5,0a0.75,0.75 0 1,0 -1.5,0M184.5,409.7m-0.75,0a0.75,0.75 0 1,0 1.5,0a0.75,0.75 0 1,0 -1.5,0M190.9,442.4m-0.75,0a0.75,0.75 0 1,0 1.5,0a0.75,0.75 0 1,0 -1.5,0M187.8,455.9m-0.75,0a0.75,0.75 0 1,0 1.5,0a0.75,0.75 0 1,0 -1.5,0M199.5,440.8m-0.75,0a0.75,0.75 0 1,0 1.5,0a0.75,0.75 0 1,0 -1.5,0M193.3,447.0m-0.75,0a0.75,0.75 0 1,0 1.5,0a0.75,0.75 0 1,0 -1.5,0M186.3,437.1m-0.75,0a0.75,0.75 0 1,0 1.5,0a0.75,0.75 0 1,0 -1.5,0M199.0,433.6m-0.75,0a0.75,0.75 0 1,0 1.5,0a0.75,0.75 0 1,0 -1.5,0M195.0,445.1m-0.75,0a0.75,0.75 0 1,0 1.5,0a0.75,0.75 0 1,0 -1.5,0M201.9,440.7m-0.75,0a0.75,0.75 0 1,0 1.5,0a0.75,0.75 0 1,0 -1.5,0M199.3,448.9m-0.75,0a0.75,0.75 0 1,0 1.5,0a0.75,0.75 0 1,0 -1.5,0M201.3,437.9m-0.75,0a0.75,0.75 0 1,0 1.5,0a0.75,0.75 0 1,0 -1.5,0M180.2,433.3m-0.75,0a0.75,0.75 0 1,0 1.5,0a0.75,0.75 0 1,0 -1.5,0M187.4,417.0m-0.75,0a0.75,0.75 0 1,0 1.5,0a0.75,0.75 0 1,0 -1.5,0M197.9,451.8m-0.75,0a0.75,0.75 0 1,0 1.5,0a0.75,0.75 0 1,0 -1.5,0M208.2,438.0m-0.75,0a0.75,0.75 0 1,0 1.5,0a0.75,0.75 0 1,0 -1.5,0M187.3,413.6m-0.75,0a0.75,0.75 0 1,0 1.5,0a0.75,0.75 0 1,0 -1.5,0M199.4,435.1m-0.75,0a0.75,0.75 0 1,0 1.5,0a0.75,0.75 0 1,0 -1.5,0M196.7,451.7m-0.75,0a0.75,0.75 0 1,0 1.5,0a0.75,0.75 0 1,0 -1.5,0M178.5,438.9m-0.75,0a0.75,0.75 0 1,0 1.5,0a0.75,0.75 0 1,0 -1.5,0M174.4,435.7m-0.75,0a0.75,0.75 0 1,0 1.5,0a0.75,0.75 0 1,0 -1.5,0M188.8,433.9m-0.75,0a0.75,0.75 0 1,0 1.5,0a0.75,0.75 0 1,0 -1.5,0M183.1,437.6m-0.75,0a0.75,0.75 0 1,0 1.5,0a0.75,0.75 0 1,0 -1.5,0M194.3,437.5m-0.75,0a0.75,0.75 0 1,0 1.5,0a0.75,0.75 0 1,0 -1.5,0M195.6,439.6m-0.75,0a0.75,0.75 0 1,0 1.5,0a0.75,0.75 0 1,0 -1.5,0M199.4,443.6m-0.75,0a0.75,0.75 0 1,0 1.5,0a0.75,0.75 0 1,0 -1.5,0M174.3,431.8m-0.75,0a0.75,0.75 0 1,0 1.5,0a0.75,0.75 0 1,0 -1.5,0M184.6,449.5m-0.75,0a0.75,0.75 0 1,0 1.5,0a0.75,0.75 0 1,0 -1.5,0M197.6,453.2m-0.75,0a0.75,0.75 0 1,0 1.5,0a0.75,0.75 0 1,0 -1.5,0M181.0,442.0m-0.75,0a0.75,0.75 0 1,0 1.5,0a0.75,0.75 0 1,0 -1.5,0M205.4,431.4m-0.75,0a0.75,0.75 0 1,0 1.5,0a0.75,0.75 0 1,0 -1.5,0M177.9,438.1m-0.75,0a0.75,0.75 0 1,0 1.5,0a0.75,0.75 0 1,0 -1.5,0M176.0,445.0m-0.75,0a0.75,0.75 0 1,0 1.5,0a0.75,0.75 0 1,0 -1.5,0M201.2,447.8m-0.75,0a0.75,0.75 0 1,0 1.5,0a0.75,0.75 0 1,0 -1.5,0M203.9,442.8m-0.75,0a0.75,0.75 0 1,0 1.5,0a0.75,0.75 0 1,0 -1.5,0M196.8,455.0m-0.75,0a0.75,0.75 0 1,0 1.5,0a0.75,0.75 0 1,0 -1.5,0M186.8,430.5m-0.75,0a0.75,0.75 0 1,0 1.5,0a0.75,0.75 0 1,0 -1.5,0M199.0,444.3m-0.75,0a0.75,0.75 0 1,0 1.5,0a0.75,0.75 0 1,0 -1.5,0M176.6,437.2m-0.75,0a0.75,0.75 0 1,0 1.5,0a0.75,0.75 0 1,0 -1.5,0M186.8,441.4m-0.75,0a0.75,0.75 0 1,0 1.5,0a0.75,0.75 0 1,0 -1.5,0M191.6,454.9m-0.75,0a0.75,0.75 0 1,0 1.5,0a0.75,0.75 0 1,0 -1.5,0M202.2,443.2m-0.75,0a0.75,0.75 0 1,0 1.5,0a0.75,0.75 0 1,0 -1.5,0M187.1,422.4m-0.75,0a0.75,0.75 0 1,0 1.5,0a0.75,0.75 0 1,0 -1.5,0M191.8,442.0m-0.75,0a0.75,0.75 0 1,0 1.5,0a0.75,0.75 0 1,0 -1.5,0M203.4,436.2m-0.75,0a0.75,0.75 0 1,0 1.5,0a0.75,0.75 0 1,0 -1.5,0M205.7,433.5m-0.75,0a0.75,0.75 0 1,0 1.5,0a0.75,0.75 0 1,0 -1.5,0M181.4,440.6m-0.75,0a0.75,0.75 0 1,0 1.5,0a0.75,0.75 0 1,0 -1.5,0M175.7,431.4m-0.75,0a0.75,0.75 0 1,0 1.5,0a0.75,0.75 0 1,0 -1.5,0M187.3,453.5m-0.75,0a0.75,0.75 0 1,0 1.5,0a0.75,0.75 0 1,0 -1.5,0M190.2,426.9m-0.75,0a0.75,0.75 0 1,0 1.5,0a0.75,0.75 0 1,0 -1.5,0M180.6,455.5m-0.75,0a0.75,0.75 0 1,0 1.5,0a0.75,0.75 0 1,0 -1.5,0M189.5,431.2m-0.75,0a0.75,0.75 0 1,0 1.5,0a0.75,0.75 0 1,0 -1.5,0M210.0,441.6m-0.75,0a0.75,0.75 0 1,0 1.5,0a0.75,0.75 0 1,0 -1.5,0M187.5,446.0m-0.75,0a0.75,0.75 0 1,0 1.5,0a0.75,0.75 0 1,0 -1.5,0M189.2,437.1m-0.75,0a0.75,0.75 0 1,0 1.5,0a0.75,0.75 0 1,0 -1.5,0M207.9,439.5m-0.75,0a0.75,0.75 0 1,0 1.5,0a0.75,0.75 0 1,0 -1.5,0M188.4,450.6m-0.75,0a0.75,0.75 0 1,0 1.5,0a0.75,0.75 0 1,0 -1.5,0M187.0,456.7m-0.75,0a0.75,0.75 0 1,0 1.5,0a0.75,0.75 0 1,0 -1.5,0M177.8,446.1m-0.75,0a0.75,0.75 0 1,0 1.5,0a0.75,0.75 0 1,0 -1.5,0M188.7,455.4m-0.75,0a0.75,0.75 0 1,0 1.5,0a0.75,0.75 0 1,0 -1.5,0M178.6,430.5m-0.75,0a0.75,0.75 0 1,0 1.5,0a0.75,0.75 0 1,0 -1.5,0M181.3,452.8m-0.75,0a0.75,0.75 0 1,0 1.5,0a0.75,0.75 0 1,0 -1.5,0M182.5,444.8m-0.75,0a0.75,0.75 0 1,0 1.5,0a0.75,0.75 0 1,0 -1.5,0M186.7,445.8m-0.75,0a0.75,0.75 0 1,0 1.5,0a0.75,0.75 0 1,0 -1.5,0M177.9,433.4m-0.75,0a0.75,0.75 0 1,0 1.5,0a0.75,0.75 0 1,0 -1.5,0M210.8,442.3m-0.75,0a0.75,0.75 0 1,0 1.5,0a0.75,0.75 0 1,0 -1.5,0M186.6,431.4m-0.75,0a0.75,0.75 0 1,0 1.5,0a0.75,0.75 0 1,0 -1.5,0M195.1,455.1m-0.75,0a0.75,0.75 0 1,0 1.5,0a0.75,0.75 0 1,0 -1.5,0M181.5,435.8m-0.75,0a0.75,0.75 0 1,0 1.5,0a0.75,0.75 0 1,0 -1.5,0M182.4,434.7m-0.75,0a0.75,0.75 0 1,0 1.5,0a0.75,0.75 0 1,0 -1.5,0M191.1,442.5m-0.75,0a0.75,0.75 0 1,0 1.5,0a0.75,0.75 0 1,0 -1.5,0M188.6,432.7m-0.75,0a0.75,0.75 0 1,0 1.5,0a0.75,0.75 0 1,0 -1.5,0M196.2,446.7m-0.75,0a0.75,0.75 0 1,0 1.5,0a0.75,0.75 0 1,0 -1.5,0M174.1,432.6m-0.75,0a0.75,0.75 0 1,0 1.5,0a0.75,0.75 0 1,0 -1.5,0M185.7,409.4m-0.75,0a0.75,0.75 0 1,0 1.5,0a0.75,0.75 0 1,0 -1.5,0M183.7,430.1m-0.75,0a0.75,0.75 0 1,0 1.5,0a0.75,0.75 0 1,0 -1.5,0M198.0,453.1m-0.75,0a0.75,0.75 0 1,0 1.5,0a0.75,0.75 0 1,0 -1.5,0M186.6,434.0m-0.75,0a0.75,0.75 0 1,0 1.5,0a0.75,0.75 0 1,0 -1.5,0M189.8,444.0m-0.75,0a0.75,0.75 0 1,0 1.5,0a0.75,0.75 0 1,0 -1.5,0M193.9,448.5m-0.75,0a0.75,0.75 0 1,0 1.5,0a0.75,0.75 0 1,0 -1.5,0M191.6,435.7m-0.75,0a0.75,0.75 0 1,0 1.5,0a0.75,0.75 0 1,0 -1.5,0M180.1,430.3m-0.75,0a0.75,0.75 0 1,0 1.5,0a0.75,0.75 0 1,0 -1.5,0M182.9,446.2m-0.75,0a0.75,0.75 0 1,0 1.5,0a0.75,0.75 0 1,0 -1.5,0M205.0,438.6m-0.75,0a0.75,0.75 0 1,0 1.5,0a0.75,0.75 0 1,0 -1.5,0M187.4,438.8m-0.75,0a0.75,0.75 0 1,0 1.5,0a0.75,0.75 0 1,0 -1.5,0M201.4,435.5m-0.75,0a0.75,0.75 0 1,0 1.5,0a0.75,0.75 0 1,0 -1.5,0M204.8,432.3m-0.75,0a0.75,0.75 0 1,0 1.5,0a0.75,0.75 0 1,0 -1.5,0M200.6,437.9m-0.75,0a0.75,0.75 0 1,0 1.5,0a0.75,0.75 0 1,0 -1.5,0M190.2,439.7m-0.75,0a0.75,0.75 0 1,0 1.5,0a0.75,0.75 0 1,0 -1.5,0M207.5,443.2m-0.75,0a0.75,0.75 0 1,0 1.5,0a0.75,0.75 0 1,0 -1.5,0M202.1,433.3m-0.75,0a0.75,0.75 0 1,0 1.5,0a0.75,0.75 0 1,0 -1.5,0M182.4,454.1m-0.75,0a0.75,0.75 0 1,0 1.5,0a0.75,0.75 0 1,0 -1.5,0M185.9,412.2m-0.75,0a0.75,0.75 0 1,0 1.5,0a0.75,0.75 0 1,0 -1.5,0M188.8,438.4m-0.75,0a0.75,0.75 0 1,0 1.5,0a0.75,0.75 0 1,0 -1.5,0M177.4,432.1m-0.75,0a0.75,0.75 0 1,0 1.5,0a0.75,0.75 0 1,0 -1.5,0M199.3,430.0m-0.75,0a0.75,0.75 0 1,0 1.5,0a0.75,0.75 0 1,0 -1.5,0M194.7,452.5m-0.75,0a0.75,0.75 0 1,0 1.5,0a0.75,0.75 0 1,0 -1.5,0M191.6,434.3m-0.75,0a0.75,0.75 0 1,0 1.5,0a0.75,0.75 0 1,0 -1.5,0M207.8,435.2m-0.75,0a0.75,0.75 0 1,0 1.5,0a0.75,0.75 0 1,0 -1.5,0M203.2,448.8m-0.75,0a0.75,0.75 0 1,0 1.5,0a0.75,0.75 0 1,0 -1.5,0M197.0,439.3m-0.75,0a0.75,0.75 0 1,0 1.5,0a0.75,0.75 0 1,0 -1.5,0M205.6,436.5m-0.75,0a0.75,0.75 0 1,0 1.5,0a0.75,0.75 0 1,0 -1.5,0M187.2,439.1m-0.75,0a0.75,0.75 0 1,0 1.5,0a0.75,0.75 0 1,0 -1.5,0M188.2,424.3m-0.75,0a0.75,0.75 0 1,0 1.5,0a0.75,0.75 0 1,0 -1.5,0M207.6,432.8m-0.75,0a0.75,0.75 0 1,0 1.5,0a0.75,0.75 0 1,0 -1.5,0M176.2,433.1m-0.75,0a0.75,0.75 0 1,0 1.5,0a0.75,0.75 0 1,0 -1.5,0M193.9,455.4m-0.75,0a0.75,0.75 0 1,0 1.5,0a0.75,0.75 0 1,0 -1.5,0M192.4,452.8m-0.75,0a0.75,0.75 0 1,0 1.5,0a0.75,0.75 0 1,0 -1.5,0M187.1,439.0m-0.75,0a0.75,0.75 0 1,0 1.5,0a0.75,0.75 0 1,0 -1.5,0M204.2,433.9m-0.75,0a0.75,0.75 0 1,0 1.5,0a0.75,0.75 0 1,0 -1.5,0M189.6,452.7m-0.75,0a0.75,0.75 0 1,0 1.5,0a0.75,0.75 0 1,0 -1.5,0M194.8,432.5m-0.75,0a0.75,0.75 0 1,0 1.5,0a0.75,0.75 0 1,0 -1.5,0M183.2,444.3m-0.75,0a0.75,0.75 0 1,0 1.5,0a0.75,0.75 0 1,0 -1.5,0M182.1,431.1m-0.75,0a0.75,0.75 0 1,0 1.5,0a0.75,0.75 0 1,0 -1.5,0M202.1,437.6m-0.75,0a0.75,0.75 0 1,0 1.5,0a0.75,0.75 0 1,0 -1.5,0M199.6,443.6m-0.75,0a0.75,0.75 0 1,0 1.5,0a0.75,0.75 0 1,0 -1.5,0M196.6,449.8m-0.75,0a0.75,0.75 0 1,0 1.5,0a0.75,0.75 0 1,0 -1.5,0M178.4,442.1m-0.75,0a0.75,0.75 0 1,0 1.5,0a0.75,0.75 0 1,0 -1.5,0M176.1,436.4m-0.75,0a0.75,0.75 0 1,0 1.5,0a0.75,0.75 0 1,0 -1.5,0M176.7,445.3m-0.75,0a0.75,0.75 0 1,0 1.5,0a0.75,0.75 0 1,0 -1.5,0M185.3,437.0m-0.75,0a0.75,0.75 0 1,0 1.5,0a0.75,0.75 0 1,0 -1.5,0M197.4,432.0m-0.75,0a0.75,0.75 0 1,0 1.5,0a0.75,0.75 0 1,0 -1.5,0M188.6,428.4m-0.75,0a0.75,0.75 0 1,0 1.5,0a0.75,0.75 0 1,0 -1.5,0M198.0,445.0m-0.75,0a0.75,0.75 0 1,0 1.5,0a0.75,0.75 0 1,0 -1.5,0M205.9,440.3m-0.75,0a0.75,0.75 0 1,0 1.5,0a0.75,0.75 0 1,0 -1.5,0M188.7,448.9m-0.75,0a0.75,0.75 0 1,0 1.5,0a0.75,0.75 0 1,0 -1.5,0M201.1,432.8m-0.75,0a0.75,0.75 0 1,0 1.5,0a0.75,0.75 0 1,0 -1.5,0M200.3,438.1m-0.75,0a0.75,0.75 0 1,0 1.5,0a0.75,0.75 0 1,0 -1.5,0M203.4,445.7m-0.75,0a0.75,0.75 0 1,0 1.5,0a0.75,0.75 0 1,0 -1.5,0M193.2,431.5m-0.75,0a0.75,0.75 0 1,0 1.5,0a0.75,0.75 0 1,0 -1.5,0M181.4,448.4m-0.75,0a0.75,0.75 0 1,0 1.5,0a0.75,0.75 0 1,0 -1.5,0M198.1,436.5m-0.75,0a0.75,0.75 0 1,0 1.5,0a0.75,0.75 0 1,0 -1.5,0M201.5,432.7m-0.75,0a0.75,0.75 0 1,0 1.5,0a0.75,0.75 0 1,0 -1.5,0M195.7,445.0m-0.75,0a0.75,0.75 0 1,0 1.5,0a0.75,0.75 0 1,0 -1.5,0M189.6,441.5m-0.75,0a0.75,0.75 0 1,0 1.5,0a0.75,0.75 0 1,0 -1.5,0M190.1,429.6m-0.75,0a0.75,0.75 0 1,0 1.5,0a0.75,0.75 0 1,0 -1.5,0M203.9,431.4m-0.75,0a0.75,0.75 0 1,0 1.5,0a0.75,0.75 0 1,0 -1.5,0M203.6,445.5m-0.75,0a0.75,0.75 0 1,0 1.5,0a0.75,0.75 0 1,0 -1.5,0M196.7,448.7m-0.75,0a0.75,0.75 0 1,0 1.5,0a0.75,0.75 0 1,0 -1.5,0M196.4,443.0m-0.75,0a0.75,0.75 0 1,0 1.5,0a0.75,0.75 0 1,0 -1.5,0M205.8,438.2m-0.75,0a0.75,0.75 0 1,0 1.5,0a0.75,0.75 0 1,0 -1.5,0M183.8,443.6m-0.75,0a0.75,0.75 0 1,0 1.5,0a0.75,0.75 0 1,0 -1.5,0M187.4,416.4m-0.75,0a0.75,0.75 0 1,0 1.5,0a0.75,0.75 0 1,0 -1.5,0M187.9,430.2m-0.75,0a0.75,0.75 0 1,0 1.5,0a0.75,0.75 0 1,0 -1.5,0M190.1,445.5m-0.75,0a0.75,0.75 0 1,0 1.5,0a0.75,0.75 0 1,0 -1.5,0M199.5,450.0m-0.75,0a0.75,0.75 0 1,0 1.5,0a0.75,0.75 0 1,0 -1.5,0M199.1,445.2m-0.75,0a0.75,0.75 0 1,0 1.5,0a0.75,0.75 0 1,0 -1.5,0M198.2,440.2m-0.75,0a0.75,0.75 0 1,0 1.5,0a0.75,0.75 0 1,0 -1.5,0M207.1,442.9m-0.75,0a0.75,0.75 0 1,0 1.5,0a0.75,0.75 0 1,0 -1.5,0M199.1,445.6m-0.75,0a0.75,0.75 0 1,0 1.5,0a0.75,0.75 0 1,0 -1.5,0M179.5,434.1m-0.75,0a0.75,0.75 0 1,0 1.5,0a0.75,0.75 0 1,0 -1.5,0M186.3,415.3m-0.75,0a0.75,0.75 0 1,0 1.5,0a0.75,0.75 0 1,0 -1.5,0M193.8,454.7m-0.75,0a0.75,0.75 0 1,0 1.5,0a0.75,0.75 0 1,0 -1.5,0M174.2,437.5m-0.75,0a0.75,0.75 0 1,0 1.5,0a0.75,0.75 0 1,0 -1.5,0M202.1,431.4m-0.75,0a0.75,0.75 0 1,0 1.5,0a0.75,0.75 0 1,0 -1.5,0M203.9,430.2m-0.75,0a0.75,0.75 0 1,0 1.5,0a0.75,0.75 0 1,0 -1.5,0M208.5,437.8m-0.75,0a0.75,0.75 0 1,0 1.5,0a0.75,0.75 0 1,0 -1.5,0M188.9,429.6m-0.75,0a0.75,0.75 0 1,0 1.5,0a0.75,0.75 0 1,0 -1.5,0M183.6,447.8m-0.75,0a0.75,0.75 0 1,0 1.5,0a0.75,0.75 0 1,0 -1.5,0M174.7,434.3m-0.75,0a0.75,0.75 0 1,0 1.5,0a0.75,0.75 0 1,0 -1.5,0M180.6,440.5m-0.75,0a0.75,0.75 0 1,0 1.5,0a0.75,0.75 0 1,0 -1.5,0M184.7,449.8m-0.75,0a0.75,0.75 0 1,0 1.5,0a0.75,0.75 0 1,0 -1.5,0M197.4,452.6m-0.75,0a0.75,0.75 0 1,0 1.5,0a0.75,0.75 0 1,0 -1.5,0M192.3,431.1m-0.75,0a0.75,0.75 0 1,0 1.5,0a0.75,0.75 0 1,0 -1.5,0M183.0,430.1m-0.75,0a0.75,0.75 0 1,0 1.5,0a0.75,0.75 0 1,0 -1.5,0M199.1,430.7m-0.75,0a0.75,0.75 0 1,0 1.5,0a0.75,0.75 0 1,0 -1.5,0M175.8,450.0m-0.75,0a0.75,0.75 0 1,0 1.5,0a0.75,0.75 0 1,0 -1.5,0M185.0,441.5m-0.75,0a0.75,0.75 0 1,0 1.5,0a0.75,0.75 0 1,0 -1.5,0M189.9,450.5m-0.75,0a0.75,0.75 0 1,0 1.5,0a0.75,0.75 0 1,0 -1.5,0M204.7,432.6m-0.75,0a0.75,0.75 0 1,0 1.5,0a0.75,0.75 0 1,0 -1.5,0M185.7,432.9m-0.75,0a0.75,0.75 0 1,0 1.5,0a0.75,0.75 0 1,0 -1.5,0M205.6,435.9m-0.75,0a0.75,0.75 0 1,0 1.5,0a0.75,0.75 0 1,0 -1.5,0M189.9,440.1m-0.75,0a0.75,0.75 0 1,0 1.5,0a0.75,0.75 0 1,0 -1.5,0M189.4,450.9m-0.75,0a0.75,0.75 0 1,0 1.5,0a0.75,0.75 0 1,0 -1.5,0M195.9,436.9m-0.75,0a0.75,0.75 0 1,0 1.5,0a0.75,0.75 0 1,0 -1.5,0M178.9,429.9m-0.75,0a0.75,0.75 0 1,0 1.5,0a0.75,0.75 0 1,0 -1.5,0M176.2,444.9m-0.75,0a0.75,0.75 0 1,0 1.5,0a0.75,0.75 0 1,0 -1.5,0M183.2,440.1m-0.75,0a0.75,0.75 0 1,0 1.5,0a0.75,0.75 0 1,0 -1.5,0M199.5,433.0m-0.75,0a0.75,0.75 0 1,0 1.5,0a0.75,0.75 0 1,0 -1.5,0M196.6,449.3m-0.75,0a0.75,0.75 0 1,0 1.5,0a0.75,0.75 0 1,0 -1.5,0M178.9,431.3m-0.75,0a0.75,0.75 0 1,0 1.5,0a0.75,0.75 0 1,0 -1.5,0M184.6,438.6m-0.75,0a0.75,0.75 0 1,0 1.5,0a0.75,0.75 0 1,0 -1.5,0M176.3,451.2m-0.75,0a0.75,0.75 0 1,0 1.5,0a0.75,0.75 0 1,0 -1.5,0M186.6,446.2m-0.75,0a0.75,0.75 0 1,0 1.5,0a0.75,0.75 0 1,0 -1.5,0M187.4,449.8m-0.75,0a0.75,0.75 0 1,0 1.5,0a0.75,0.75 0 1,0 -1.5,0M201.7,443.5m-0.75,0a0.75,0.75 0 1,0 1.5,0a0.75,0.75 0 1,0 -1.5,0M182.1,438.3m-0.75,0a0.75,0.75 0 1,0 1.5,0a0.75,0.75 0 1,0 -1.5,0M189.3,438.0m-0.75,0a0.75,0.75 0 1,0 1.5,0a0.75,0.75 0 1,0 -1.5,0M191.8,436.4m-0.75,0a0.75,0.75 0 1,0 1.5,0a0.75,0.75 0 1,0 -1.5,0M192.0,451.9m-0.75,0a0.75,0.75 0 1,0 1.5,0a0.75,0.75 0 1,0 -1.5,0M185.4,437.9m-0.75,0a0.75,0.75 0 1,0 1.5,0a0.75,0.75 0 1,0 -1.5,0M178.3,453.5m-0.75,0a0.75,0.75 0 1,0 1.5,0a0.75,0.75 0 1,0 -1.5,0M173.7,432.5m-0.75,0a0.75,0.75 0 1,0 1.5,0a0.75,0.75 0 1,0 -1.5,0M182.8,433.8m-0.75,0a0.75,0.75 0 1,0 1.5,0a0.75,0.75 0 1,0 -1.5,0M180.7,430.4m-0.75,0a0.75,0.75 0 1,0 1.5,0a0.75,0.75 0 1,0 -1.5,0M179.5,455.9m-0.75,0a0.75,0.75 0 1,0 1.5,0a0.75,0.75 0 1,0 -1.5,0M200.6,432.1m-0.75,0a0.75,0.75 0 1,0 1.5,0a0.75,0.75 0 1,0 -1.5,0M201.0,443.7m-0.75,0a0.75,0.75 0 1,0 1.5,0a0.75,0.75 0 1,0 -1.5,0M208.3,435.3m-0.75,0a0.75,0.75 0 1,0 1.5,0a0.75,0.75 0 1,0 -1.5,0M187.2,436.1m-0.75,0a0.75,0.75 0 1,0 1.5,0a0.75,0.75 0 1,0 -1.5,0M183.1,410.1m-0.75,0a0.75,0.75 0 1,0 1.5,0a0.75,0.75 0 1,0 -1.5,0M182.2,430.5m-0.75,0a0.75,0.75 0 1,0 1.5,0a0.75,0.75 0 1,0 -1.5,0M205.3,444.3m-0.75,0a0.75,0.75 0 1,0 1.5,0a0.75,0.75 0 1,0 -1.5,0M187.5,423.7m-0.75,0a0.75,0.75 0 1,0 1.5,0a0.75,0.75 0 1,0 -1.5,0M197.2,449.7m-0.75,0a0.75,0.75 0 1,0 1.5,0a0.75,0.75 0 1,0 -1.5,0M198.4,436.6m-0.75,0a0.75,0.75 0 1,0 1.5,0a0.75,0.75 0 1,0 -1.5,0M183.1,443.7m-0.75,0a0.75,0.75 0 1,0 1.5,0a0.75,0.75 0 1,0 -1.5,0M180.1,452.9m-0.75,0a0.75,0.75 0 1,0 1.5,0a0.75,0.75 0 1,0 -1.5,0M176.6,437.0m-0.75,0a0.75,0.75 0 1,0 1.5,0a0.75,0.75 0 1,0 -1.5,0M200.0,443.8m-0.75,0a0.75,0.75 0 1,0 1.5,0a0.75,0.75 0 1,0 -1.5,0M191.3,450.5m-0.75,0a0.75,0.75 0 1,0 1.5,0a0.75,0.75 0 1,0 -1.5,0M197.0,441.8m-0.75,0a0.75,0.75 0 1,0 1.5,0a0.75,0.75 0 1,0 -1.5,0M190.5,434.7m-0.75,0a0.75,0.75 0 1,0 1.5,0a0.75,0.75 0 1,0 -1.5,0M175.7,444.2m-0.75,0a0.75,0.75 0 1,0 1.5,0a0.75,0.75 0 1,0 -1.5,0M185.7,431.3m-0.75,0a0.75,0.75 0 1,0 1.5,0a0.75,0.75 0 1,0 -1.5,0M192.7,448.9m-0.75,0a0.75,0.75 0 1,0 1.5,0a0.75,0.75 0 1,0 -1.5,0M183.9,435.4m-0.75,0a0.75,0.75 0 1,0 1.5,0a0.75,0.75 0 1,0 -1.5,0M196.0,440.0m-0.75,0a0.75,0.75 0 1,0 1.5,0a0.75,0.75 0 1,0 -1.5,0M190.6,437.4m-0.75,0a0.75,0.75 0 1,0 1.5,0a0.75,0.75 0 1,0 -1.5,0M189.7,435.4m-0.75,0a0.75,0.75 0 1,0 1.5,0a0.75,0.75 0 1,0 -1.5,0M185.9,442.0m-0.75,0a0.75,0.75 0 1,0 1.5,0a0.75,0.75 0 1,0 -1.5,0M182.1,431.6m-0.75,0a0.75,0.75 0 1,0 1.5,0a0.75,0.75 0 1,0 -1.5,0M198.5,443.2m-0.75,0a0.75,0.75 0 1,0 1.5,0a0.75,0.75 0 1,0 -1.5,0M190.9,434.3m-0.75,0a0.75,0.75 0 1,0 1.5,0a0.75,0.75 0 1,0 -1.5,0M192.0,440.4m-0.75,0a0.75,0.75 0 1,0 1.5,0a0.75,0.75 0 1,0 -1.5,0M185.1,441.4m-0.75,0a0.75,0.75 0 1,0 1.5,0a0.75,0.75 0 1,0 -1.5,0M186.5,438.2m-0.75,0a0.75,0.75 0 1,0 1.5,0a0.75,0.75 0 1,0 -1.5,0M196.4,440.7m-0.75,0a0.75,0.75 0 1,0 1.5,0a0.75,0.75 0 1,0 -1.5,0M208.8,442.6m-0.75,0a0.75,0.75 0 1,0 1.5,0a0.75,0.75 0 1,0 -1.5,0M200.2,442.4m-0.75,0a0.75,0.75 0 1,0 1.5,0a0.75,0.75 0 1,0 -1.5,0M181.1,438.0m-0.75,0a0.75,0.75 0 1,0 1.5,0a0.75,0.75 0 1,0 -1.5,0M191.5,433.7m-0.75,0a0.75,0.75 0 1,0 1.5,0a0.75,0.75 0 1,0 -1.5,0M200.7,445.4m-0.75,0a0.75,0.75 0 1,0 1.5,0a0.75,0.75 0 1,0 -1.5,0M190.5,453.8m-0.75,0a0.75,0.75 0 1,0 1.5,0a0.75,0.75 0 1,0 -1.5,0M189.5,435.7m-0.75,0a0.75,0.75 0 1,0 1.5,0a0.75,0.75 0 1,0 -1.5,0M175.2,445.9m-0.75,0a0.75,0.75 0 1,0 1.5,0a0.75,0.75 0 1,0 -1.5,0M197.9,434.4m-0.75,0a0.75,0.75 0 1,0 1.5,0a0.75,0.75 0 1,0 -1.5,0M177.7,431.9m-0.75,0a0.75,0.75 0 1,0 1.5,0a0.75,0.75 0 1,0 -1.5,0M196.4,442.1m-0.75,0a0.75,0.75 0 1,0 1.5,0a0.75,0.75 0 1,0 -1.5,0M188.9,452.5m-0.75,0a0.75,0.75 0 1,0 1.5,0a0.75,0.75 0 1,0 -1.5,0M185.2,445.6m-0.75,0a0.75,0.75 0 1,0 1.5,0a0.75,0.75 0 1,0 -1.5,0M193.1,440.6m-0.75,0a0.75,0.75 0 1,0 1.5,0a0.75,0.75 0 1,0 -1.5,0M197.3,450.2m-0.75,0a0.75,0.75 0 1,0 1.5,0a0.75,0.75 0 1,0 -1.5,0M191.6,432.2m-0.75,0a0.75,0.75 0 1,0 1.5,0a0.75,0.75 0 1,0 -1.5,0M198.1,435.5m-0.75,0a0.75,0.75 0 1,0 1.5,0a0.75,0.75 0 1,0 -1.5,0M184.6,432.5m-0.75,0a0.75,0.75 0 1,0 1.5,0a0.75,0.75 0 1,0 -1.5,0M183.8,447.6m-0.75,0a0.75,0.75 0 1,0 1.5,0a0.75,0.75 0 1,0 -1.5,0M181.5,440.6m-0.75,0a0.75,0.75 0 1,0 1.5,0a0.75,0.75 0 1,0 -1.5,0M194.5,451.7m-0.75,0a0.75,0.75 0 1,0 1.5,0a0.75,0.75 0 1,0 -1.5,0M183.6,438.8m-0.75,0a0.75,0.75 0 1,0 1.5,0a0.75,0.75 0 1,0 -1.5,0M177.6,446.3m-0.75,0a0.75,0.75 0 1,0 1.5,0a0.75,0.75 0 1,0 -1.5,0M202.4,434.6m-0.75,0a0.75,0.75 0 1,0 1.5,0a0.75,0.75 0 1,0 -1.5,0M201.3,447.6m-0.75,0a0.75,0.75 0 1,0 1.5,0a0.75,0.75 0 1,0 -1.5,0M190.4,452.3m-0.75,0a0.75,0.75 0 1,0 1.5,0a0.75,0.75 0 1,0 -1.5,0M188.9,433.5m-0.75,0a0.75,0.75 0 1,0 1.5,0a0.75,0.75 0 1,0 -1.5,0M184.1,446.0m-0.75,0a0.75,0.75 0 1,0 1.5,0a0.75,0.75 0 1,0 -1.5,0M211.7,438.4m-0.75,0a0.75,0.75 0 1,0 1.5,0a0.75,0.75 0 1,0 -1.5,0M192.8,440.9m-0.75,0a0.75,0.75 0 1,0 1.5,0a0.75,0.75 0 1,0 -1.5,0M198.7,433.6m-0.75,0a0.75,0.75 0 1,0 1.5,0a0.75,0.75 0 1,0 -1.5,0M186.5,415.5m-0.75,0a0.75,0.75 0 1,0 1.5,0a0.75,0.75 0 1,0 -1.5,0M205.9,431.7m-0.75,0a0.75,0.75 0 1,0 1.5,0a0.75,0.75 0 1,0 -1.5,0M207.4,436.3m-0.75,0a0.75,0.75 0 1,0 1.5,0a0.75,0.75 0 1,0 -1.5,0M183.5,442.8m-0.75,0a0.75,0.75 0 1,0 1.5,0a0.75,0.75 0 1,0 -1.5,0M209.2,440.5m-0.75,0a0.75,0.75 0 1,0 1.5,0a0.75,0.75 0 1,0 -1.5,0M205.3,437.0m-0.75,0a0.75,0.75 0 1,0 1.5,0a0.75,0.75 0 1,0 -1.5,0M174.4,433.6m-0.75,0a0.75,0.75 0 1,0 1.5,0a0.75,0.75 0 1,0 -1.5,0M179.1,429.9m-0.75,0a0.75,0.75 0 1,0 1.5,0a0.75,0.75 0 1,0 -1.5,0M191.5,446.3m-0.75,0a0.75,0.75 0 1,0 1.5,0a0.75,0.75 0 1,0 -1.5,0M177.2,454.2m-0.75,0a0.75,0.75 0 1,0 1.5,0a0.75,0.75 0 1,0 -1.5,0M206.4,431.7m-0.75,0a0.75,0.75 0 1,0 1.5,0a0.75,0.75 0 1,0 -1.5,0M209.2,443.5m-0.75,0a0.75,0.75 0 1,0 1.5,0a0.75,0.75 0 1,0 -1.5,0M198.0,452.3m-0.75,0a0.75,0.75 0 1,0 1.5,0a0.75,0.75 0 1,0 -1.5,0M209.7,437.2m-0.75,0a0.75,0.75 0 1,0 1.5,0a0.75,0.75 0 1,0 -1.5,0M201.4,444.8m-0.75,0a0.75,0.75 0 1,0 1.5,0a0.75,0.75 0 1,0 -1.5,0M196.4,431.4m-0.75,0a0.75,0.75 0 1,0 1.5,0a0.75,0.75 0 1,0 -1.5,0M185.8,428.3m-0.75,0a0.75,0.75 0 1,0 1.5,0a0.75,0.75 0 1,0 -1.5,0M183.0,446.1m-0.75,0a0.75,0.75 0 1,0 1.5,0a0.75,0.75 0 1,0 -1.5,0M180.7,439.3m-0.75,0a0.75,0.75 0 1,0 1.5,0a0.75,0.75 0 1,0 -1.5,0M183.9,437.7m-0.75,0a0.75,0.75 0 1,0 1.5,0a0.75,0.75 0 1,0 -1.5,0M191.9,431.9m-0.75,0a0.75,0.75 0 1,0 1.5,0a0.75,0.75 0 1,0 -1.5,0M199.0,431.2m-0.75,0a0.75,0.75 0 1,0 1.5,0a0.75,0.75 0 1,0 -1.5,0M196.7,436.9m-0.75,0a0.75,0.75 0 1,0 1.5,0a0.75,0.75 0 1,0 -1.5,0M203.4,442.8m-0.75,0a0.75,0.75 0 1,0 1.5,0a0.75,0.75 0 1,0 -1.5,0M186.1,429.4m-0.75,0a0.75,0.75 0 1,0 1.5,0a0.75,0.75 0 1,0 -1.5,0M198.8,452.2m-0.75,0a0.75,0.75 0 1,0 1.5,0a0.75,0.75 0 1,0 -1.5,0M195.0,439.5m-0.75,0a0.75,0.75 0 1,0 1.5,0a0.75,0.75 0 1,0 -1.5,0M183.3,451.3m-0.75,0a0.75,0.75 0 1,0 1.5,0a0.75,0.75 0 1,0 -1.5,0M196.2,442.7m-0.75,0a0.75,0.75 0 1,0 1.5,0a0.75,0.75 0 1,0 -1.5,0M177.4,448.6m-0.75,0a0.75,0.75 0 1,0 1.5,0a0.75,0.75 0 1,0 -1.5,0M183.3,438.2m-0.75,0a0.75,0.75 0 1,0 1.5,0a0.75,0.75 0 1,0 -1.5,0M210.9,440.1m-0.75,0a0.75,0.75 0 1,0 1.5,0a0.75,0.75 0 1,0 -1.5,0M190.7,435.5m-0.75,0a0.75,0.75 0 1,0 1.5,0a0.75,0.75 0 1,0 -1.5,0M195.1,437.3m-0.75,0a0.75,0.75 0 1,0 1.5,0a0.75,0.75 0 1,0 -1.5,0M210.9,438.4m-0.75,0a0.75,0.75 0 1,0 1.5,0a0.75,0.75 0 1,0 -1.5,0M191.7,428.7m-0.75,0a0.75,0.75 0 1,0 1.5,0a0.75,0.75 0 1,0 -1.5,0M202.2,436.2m-0.75,0a0.75,0.75 0 1,0 1.5,0a0.75,0.75 0 1,0 -1.5,0M176.8,454.6m-0.75,0a0.75,0.75 0 1,0 1.5,0a0.75,0.75 0 1,0 -1.5,0M192.9,444.6m-0.75,0a0.75,0.75 0 1,0 1.5,0a0.75,0.75 0 1,0 -1.5,0M193.7,436.8m-0.75,0a0.75,0.75 0 1,0 1.5,0a0.75,0.75 0 1,0 -1.5,0M177.1,443.7m-0.75,0a0.75,0.75 0 1,0 1.5,0a0.75,0.75 0 1,0 -1.5,0M185.8,414.6m-0.75,0a0.75,0.75 0 1,0 1.5,0a0.75,0.75 0 1,0 -1.5,0M204.4,444.5m-0.75,0a0.75,0.75 0 1,0 1.5,0a0.75,0.75 0 1,0 -1.5,0M177.1,445.1m-0.75,0a0.75,0.75 0 1,0 1.5,0a0.75,0.75 0 1,0 -1.5,0M180.5,440.7m-0.75,0a0.75,0.75 0 1,0 1.5,0a0.75,0.75 0 1,0 -1.5,0M203.4,436.8m-0.75,0a0.75,0.75 0 1,0 1.5,0a0.75,0.75 0 1,0 -1.5,0M181.1,434.9m-0.75,0a0.75,0.75 0 1,0 1.5,0a0.75,0.75 0 1,0 -1.5,0M196.1,452.3m-0.75,0a0.75,0.75 0 1,0 1.5,0a0.75,0.75 0 1,0 -1.5,0M196.0,432.5m-0.75,0a0.75,0.75 0 1,0 1.5,0a0.75,0.75 0 1,0 -1.5,0M197.8,438.7m-0.75,0a0.75,0.75 0 1,0 1.5,0a0.75,0.75 0 1,0 -1.5,0M188.1,421.2m-0.75,0a0.75,0.75 0 1,0 1.5,0a0.75,0.75 0 1,0 -1.5,0M186.2,441.5m-0.75,0a0.75,0.75 0 1,0 1.5,0a0.75,0.75 0 1,0 -1.5,0M198.1,432.1m-0.75,0a0.75,0.75 0 1,0 1.5,0a0.75,0.75 0 1,0 -1.5,0M185.9,444.7m-0.75,0a0.75,0.75 0 1,0 1.5,0a0.75,0.75 0 1,0 -1.5,0M193.3,449.9m-0.75,0a0.75,0.75 0 1,0 1.5,0a0.75,0.75 0 1,0 -1.5,0M204.1,434.1m-0.75,0a0.75,0.75 0 1,0 1.5,0a0.75,0.75 0 1,0 -1.5,0M198.4,439.4m-0.75,0a0.75,0.75 0 1,0 1.5,0a0.75,0.75 0 1,0 -1.5,0M187.4,414.4m-0.75,0a0.75,0.75 0 1,0 1.5,0a0.75,0.75 0 1,0 -1.5,0M179.5,454.3m-0.75,0a0.75,0.75 0 1,0 1.5,0a0.75,0.75 0 1,0 -1.5,0M191.8,444.8m-0.75,0a0.75,0.75 0 1,0 1.5,0a0.75,0.75 0 1,0 -1.5,0M186.6,455.9m-0.75,0a0.75,0.75 0 1,0 1.5,0a0.75,0.75 0 1,0 -1.5,0M179.5,452.1m-0.75,0a0.75,0.75 0 1,0 1.5,0a0.75,0.75 0 1,0 -1.5,0M207.1,441.3m-0.75,0a0.75,0.75 0 1,0 1.5,0a0.75,0.75 0 1,0 -1.5,0M182.5,443.7m-0.75,0a0.75,0.75 0 1,0 1.5,0a0.75,0.75 0 1,0 -1.5,0M208.0,437.0m-0.75,0a0.75,0.75 0 1,0 1.5,0a0.75,0.75 0 1,0 -1.5,0M180.6,437.8m-0.75,0a0.75,0.75 0 1,0 1.5,0a0.75,0.75 0 1,0 -1.5,0M210.0,436.9m-0.75,0a0.75,0.75 0 1,0 1.5,0a0.75,0.75 0 1,0 -1.5,0M182.1,432.2m-0.75,0a0.75,0.75 0 1,0 1.5,0a0.75,0.75 0 1,0 -1.5,0M174.8,435.4m-0.75,0a0.75,0.75 0 1,0 1.5,0a0.75,0.75 0 1,0 -1.5,0M195.1,433.8m-0.75,0a0.75,0.75 0 1,0 1.5,0a0.75,0.75 0 1,0 -1.5,0M203.4,436.2m-0.75,0a0.75,0.75 0 1,0 1.5,0a0.75,0.75 0 1,0 -1.5,0M197.3,435.6m-0.75,0a0.75,0.75 0 1,0 1.5,0a0.75,0.75 0 1,0 -1.5,0M176.4,450.2m-0.75,0a0.75,0.75 0 1,0 1.5,0a0.75,0.75 0 1,0 -1.5,0M207.6,437.8m-0.75,0a0.75,0.75 0 1,0 1.5,0a0.75,0.75 0 1,0 -1.5,0M206.0,442.3m-0.75,0a0.75,0.75 0 1,0 1.5,0a0.75,0.75 0 1,0 -1.5,0M186.9,413.9m-0.75,0a0.75,0.75 0 1,0 1.5,0a0.75,0.75 0 1,0 -1.5,0M202.4,442.7m-0.75,0a0.75,0.75 0 1,0 1.5,0a0.75,0.75 0 1,0 -1.5,0M186.4,453.6m-0.75,0a0.75,0.75 0 1,0 1.5,0a0.75,0.75 0 1,0 -1.5,0M190.8,441.4m-0.75,0a0.75,0.75 0 1,0 1.5,0a0.75,0.75 0 1,0 -1.5,0M182.8,437.1m-0.75,0a0.75,0.75 0 1,0 1.5,0a0.75,0.75 0 1,0 -1.5,0M193.6,429.0m-0.75,0a0.75,0.75 0 1,0 1.5,0a0.75,0.75 0 1,0 -1.5,0M185.5,413.5m-0.75,0a0.75,0.75 0 1,0 1.5,0a0.75,0.75 0 1,0 -1.5,0M184.5,455.8m-0.75,0a0.75,0.75 0 1,0 1.5,0a0.75,0.75 0 1,0 -1.5,0M186.3,448.8m-0.75,0a0.75,0.75 0 1,0 1.5,0a0.75,0.75 0 1,0 -1.5,0M210.8,442.0m-0.75,0a0.75,0.75 0 1,0 1.5,0a0.75,0.75 0 1,0 -1.5,0M199.0,433.6m-0.75,0a0.75,0.75 0 1,0 1.5,0a0.75,0.75 0 1,0 -1.5,0M207.1,442.6m-0.75,0a0.75,0.75 0 1,0 1.5,0a0.75,0.75 0 1,0 -1.5,0M186.6,436.5m-0.75,0a0.75,0.75 0 1,0 1.5,0a0.75,0.75 0 1,0 -1.5,0M199.3,441.5m-0.75,0a0.75,0.75 0 1,0 1.5,0a0.75,0.75 0 1,0 -1.5,0M203.4,430.6m-0.75,0a0.75,0.75 0 1,0 1.5,0a0.75,0.75 0 1,0 -1.5,0M191.6,453.8m-0.75,0a0.75,0.75 0 1,0 1.5,0a0.75,0.75 0 1,0 -1.5,0M193.9,437.3m-0.75,0a0.75,0.75 0 1,0 1.5,0a0.75,0.75 0 1,0 -1.5,0M184.1,440.5m-0.75,0a0.75,0.75 0 1,0 1.5,0a0.75,0.75 0 1,0 -1.5,0M191.4,454.0m-0.75,0a0.75,0.75 0 1,0 1.5,0a0.75,0.75 0 1,0 -1.5,0M204.9,435.3m-0.75,0a0.75,0.75 0 1,0 1.5,0a0.75,0.75 0 1,0 -1.5,0M177.6,444.4m-0.75,0a0.75,0.75 0 1,0 1.5,0a0.75,0.75 0 1,0 -1.5,0M205.1,439.8m-0.75,0a0.75,0.75 0 1,0 1.5,0a0.75,0.75 0 1,0 -1.5,0M206.9,443.5m-0.75,0a0.75,0.75 0 1,0 1.5,0a0.75,0.75 0 1,0 -1.5,0M188.7,426.7m-0.75,0a0.75,0.75 0 1,0 1.5,0a0.75,0.75 0 1,0 -1.5,0M187.5,452.5m-0.75,0a0.75,0.75 0 1,0 1.5,0a0.75,0.75 0 1,0 -1.5,0M189.3,447.0m-0.75,0a0.75,0.75 0 1,0 1.5,0a0.75,0.75 0 1,0 -1.5,0" fill="#4c9fba"/>
<path d="M176.0,435.2 C176.6,434.4 178.7,433.3 180.0,432.8 C181.3,432.3 182.8,432.3 184.0,432.3 C185.2,432.3 187.2,432.6 187.5,433.0 C187.8,433.4 186.6,434.3 185.5,434.8 C184.4,435.3 182.2,435.3 181.0,435.8 C179.8,436.3 178.8,437.5 178.0,437.8 C177.2,438.1 176.5,437.9 176.2,437.5 C175.9,437.1 175.4,436.0 176.0,435.2 Z" fill="#ffffff" opacity="1.0"/>
<path d="M88.7,449.4 C89.2,448.5 92.1,446.9 93.5,446.5 C94.9,446.1 96.6,446.0 97.3,447.0 C98.0,448.0 97.1,450.2 97.8,452.3 C98.5,454.4 101.1,458.1 101.5,459.5 C101.9,460.9 101.1,461.4 100.0,460.5 C98.9,459.6 96.6,455.4 95.0,454.0 C93.4,452.6 91.6,452.6 90.6,451.8 C89.5,451.0 88.2,450.3 88.7,449.4 Z" fill="#80a6d6" opacity="1.0"/>
<path d="M96.3,445.6 C97.3,444.1 101.0,444.0 103.1,444.1 C105.2,444.2 107.5,445.1 108.8,446.5 C110.1,447.9 110.8,450.5 110.8,452.3 C110.8,454.1 109.8,455.8 108.8,457.1 C107.8,458.4 106.3,459.9 105.0,460.0 C103.7,460.1 102.5,459.1 101.2,458.0 C99.9,456.9 98.1,455.4 97.3,453.3 C96.5,451.2 95.3,447.1 96.3,445.6 Z" fill="#e0eca8"/>
<path d="M107.7,457.2m-0.75,0a0.75,0.75 0 1,0 1.5,0a0.75,0.75 0 1,0 -1.5,0M103.1,448.2m-0.75,0a0.75,0.75 0 1,0 1.5,0a0.75,0.75 0 1,0 -1.5,0M102.9,456.2m-0.75,0a0.75,0.75 0 1,0 1.5,0a0.75,0.75 0 1,0 -1.5,0M101.5,456.3m-0.75,0a0.75,0.75 0 1,0 1.5,0a0.75,0.75 0 1,0 -1.5,0M100.0,456.8m-0.75,0a0.75,0.75 0 1,0 1.5,0a0.75,0.75 0 1,0 -1.5,0M106.8,450.7m-0.75,0a0.75,0.75 0 1,0 1.5,0a0.75,0.75 0 1,0 -1.5,0M103.9,454.9m-0.75,0a0.75,0.75 0 1,0 1.5,0a0.75,0.75 0 1,0 -1.5,0M98.8,452.9m-0.75,0a0.75,0.75 0 1,0 1.5,0a0.75,0.75 0 1,0 -1.5,0M107.9,448.3m-0.75,0a0.75,0.75 0 1,0 1.5,0a0.75,0.75 0 1,0 -1.5,0M107.9,455.0m-0.75,0a0.75,0.75 0 1,0 1.5,0a0.75,0.75 0 1,0 -1.5,0M108.5,449.4m-0.75,0a0.75,0.75 0 1,0 1.5,0a0.75,0.75 0 1,0 -1.5,0M107.9,451.2m-0.75,0a0.75,0.75 0 1,0 1.5,0a0.75,0.75 0 1,0 -1.5,0M97.3,447.2m-0.75,0a0.75,0.75 0 1,0 1.5,0a0.75,0.75 0 1,0 -1.5,0M105.4,448.7m-0.75,0a0.75,0.75 0 1,0 1.5,0a0.75,0.75 0 1,0 -1.5,0M110.1,453.4m-0.75,0a0.75,0.75 0 1,0 1.5,0a0.75,0.75 0 1,0 -1.5,0M98.9,454.5m-0.75,0a0.75,0.75 0 1,0 1.5,0a0.75,0.75 0 1,0 -1.5,0M109.5,452.3m-0.75,0a0.75,0.75 0 1,0 1.5,0a0.75,0.75 0 1,0 -1.5,0M105.5,455.2m-0.75,0a0.75,0.75 0 1,0 1.5,0a0.75,0.75 0 1,0 -1.5,0M96.4,449.8m-0.75,0a0.75,0.75 0 1,0 1.5,0a0.75,0.75 0 1,0 -1.5,0M104.9,448.9m-0.75,0a0.75,0.75 0 1,0 1.5,0a0.75,0.75 0 1,0 -1.5,0M104.7,445.5m-0.75,0a0.75,0.75 0 1,0 1.5,0a0.75,0.75 0 1,0 -1.5,0M109.0,452.4m-0.75,0a0.75,0.75 0 1,0 1.5,0a0.75,0.75 0 1,0 -1.5,0M100.6,447.2m-0.75,0a0.75,0.75 0 1,0 1.5,0a0.75,0.75 0 1,0 -1.5,0M103.1,446.3m-0.75,0a0.75,0.75 0 1,0 1.5,0a0.75,0.75 0 1,0 -1.5,0M105.2,448.9m-0.75,0a0.75,0.75 0 1,0 1.5,0a0.75,0.75 0 1,0 -1.5,0M101.5,450.3m-0.75,0a0.75,0.75 0 1,0 1.5,0a0.75,0.75 0 1,0 -1.5,0M96.7,450.8m-0.75,0a0.75,0.75 0 1,0 1.5,0a0.75,0.75 0 1,0 -1.5,0M107.0,450.4m-0.75,0a0.75,0.75 0 1,0 1.5,0a0.75,0.75 0 1,0 -1.5,0M105.9,458.2m-0.75,0a0.75,0.75 0 1,0 1.5,0a0.75,0.75 0 1,0 -1.5,0M102.6,457.3m-0.75,0a0.75,0.75 0 1,0 1.5,0a0.75,0.75 0 1,0 -1.5,0M107.8,452.3m-0.75,0a0.75,0.75 0 1,0 1.5,0a0.75,0.75 0 1,0 -1.5,0M102.9,455.3m-0.75,0a0.75,0.75 0 1,0 1.5,0a0.75,0.75 0 1,0 -1.5,0M102.0,445.4m-0.75,0a0.75,0.75 0 1,0 1.5,0a0.75,0.75 0 1,0 -1.5,0M107.0,448.3m-0.75,0a0.75,0.75 0 1,0 1.5,0a0.75,0.75 0 1,0 -1.5,0M103.2,456.6m-0.75,0a0.75,0.75 0 1,0 1.5,0a0.75,0.75 0 1,0 -1.5,0M98.5,444.4m-0.75,0a0.75,0.75 0 1,0 1.5,0a0.75,0.75 0 1,0 -1.5,0M97.8,453.5m-0.75,0a0.75,0.75 0 1,0 1.5,0a0.75,0.75 0 1,0 -1.5,0M101.3,448.1m-0.75,0a0.75,0.75 0 1,0 1.5,0a0.75,0.75 0 1,0 -1.5,0M102.6,458.8m-0.75,0a0.75,0.75 0 1,0 1.5,0a0.75,0.75 0 1,0 -1.5,0M99.7,450.6m-0.75,0a0.75,0.75 0 1,0 1.5,0a0.75,0.75 0 1,0 -1.5,0M109.0,453.8m-0.75,0a0.75,0.75 0 1,0 1.5,0a0.75,0.75 0 1,0 -1.5,0M99.9,451.6m-0.75,0a0.75,0.75 0 1,0 1.5,0a0.75,0.75 0 1,0 -1.5,0M103.0,446.3m-0.75,0a0.75,0.75 0 1,0 1.5,0a0.75,0.75 0 1,0 -1.5,0M101.5,448.9m-0.75,0a0.75,0.75 0 1,0 1.5,0a0.75,0.75 0 1,0 -1.5,0M107.9,449.2m-0.75,0a0.75,0.75 0 1,0 1.5,0a0.75,0.75 0 1,0 -1.5,0M105.7,459.5m-0.75,0a0.75,0.75 0 1,0 1.5,0a0.75,0.75 0 1,0 -1.5,0M109.7,450.1m-0.75,0a0.75,0.75 0 1,0 1.5,0a0.75,0.75 0 1,0 -1.5,0M104.9,449.2m-0.75,0a0.75,0.75 0 1,0 1.5,0a0.75,0.75 0 1,0 -1.5,0M101.9,451.8m-0.75,0a0.75,0.75 0 1,0 1.5,0a0.75,0.75 0 1,0 -1.5,0M100.3,444.2m-0.75,0a0.75,0.75 0 1,0 1.5,0a0.75,0.75 0 1,0 -1.5,0M102.6,445.0m-0.75,0a0.75,0.75 0 1,0 1.5,0a0.75,0.75 0 1,0 -1.5,0M105.1,450.8m-0.75,0a0.75,0.75 0 1,0 1.5,0a0.75,0.75 0 1,0 -1.5,0M107.6,457.0m-0.75,0a0.75,0.75 0 1,0 1.5,0a0.75,0.75 0 1,0 -1.5,0M103.2,451.5m-0.75,0a0.75,0.75 0 1,0 1.5,0a0.75,0.75 0 1,0 -1.5,0M97.4,449.8m-0.75,0a0.75,0.75 0 1,0 1.5,0a0.75,0.75 0 1,0 -1.5,0M98.1,454.0m-0.75,0a0.75,0.75 0 1,0 1.5,0a0.75,0.75 0 1,0 -1.5,0M105.0,446.4m-0.75,0a0.75,0.75 0 1,0 1.5,0a0.75,0.75 0 1,0 -1.5,0M105.3,445.6m-0.75,0a0.75,0.75 0 1,0 1.5,0a0.75,0.75 0 1,0 -1.5,0M102.8,458.4m-0.75,0a0.75,0.75 0 1,0 1.5,0a0.75,0.75 0 1,0 -1.5,0M105.3,455.2m-0.75,0a0.75,0.75 0 1,0 1.5,0a0.75,0.75 0 1,0 -1.5,0M109.2,451.3m-0.75,0a0.75,0.75 0 1,0 1.5,0a0.75,0.75 0 1,0 -1.5,0M106.2,456.7m-0.75,0a0.75,0.75 0 1,0 1.5,0a0.75,0.75 0 1,0 -1.5,0M109.4,451.1m-0.75,0a0.75,0.75 0 1,0 1.5,0a0.75,0.75 0 1,0 -1.5,0M107.5,451.2m-0.75,0a0.75,0.75 0 1,0 1.5,0a0.75,0.75 0 1,0 -1.5,0M100.0,455.4m-0.75,0a0.75,0.75 0 1,0 1.5,0a0.75,0.75 0 1,0 -1.5,0M108.7,448.5m-0.75,0a0.75,0.75 0 1,0 1.5,0a0.75,0.75 0 1,0 -1.5,0M110.3,450.9m-0.75,0a0.75,0.75 0 1,0 1.5,0a0.75,0.75 0 1,0 -1.5,0M105.4,452.6m-0.75,0a0.75,0.75 0 1,0 1.5,0a0.75,0.75 0 1,0 -1.5,0M96.4,446.8m-0.75,0a0.75,0.75 0 1,0 1.5,0a0.75,0.75 0 1,0 -1.5,0M101.4,444.9m-0.75,0a0.75,0.75 0 1,0 1.5,0a0.75,0.75 0 1,0 -1.5,0M101.0,445.3m-0.75,0a0.75,0.75 0 1,0 1.5,0a0.75,0.75 0 1,0 -1.5,0M106.8,445.9m-0.75,0a0.75,0.75 0 1,0 1.5,0a0.75,0.75 0 1,0 -1.5,0M104.1,451.5m-0.75,0a0.75,0.75 0 1,0 1.5,0a0.75,0.75 0 1,0 -1.5,0M103.3,445.3m-0.75,0a0.75,0.75 0 1,0 1.5,0a0.75,0.75 0 1,0 -1.5,0M97.0,452.4m-0.75,0a0.75,0.75 0 1,0 1.5,0a0.75,0.75 0 1,0 -1.5,0M98.2,448.5m-0.75,0a0.75,0.75 0 1,0 1.5,0a0.75,0.75 0 1,0 -1.5,0M98.2,453.1m-0.75,0a0.75,0.75 0 1,0 1.5,0a0.75,0.75 0 1,0 -1.5,0M101.7,447.6m-0.75,0a0.75,0.75 0 1,0 1.5,0a0.75,0.75 0 1,0 -1.5,0M99.2,453.1m-0.75,0a0.75,0.75 0 1,0 1.5,0a0.75,0.75 0 1,0 -1.5,0M109.5,450.7m-0.75,0a0.75,0.75 0 1,0 1.5,0a0.75,0.75 0 1,0 -1.5,0M98.4,449.1m-0.75,0a0.75,0.75 0 1,0 1.5,0a0.75,0.75 0 1,0 -1.5,0M99.5,453.2m-0.75,0a0.75,0.75 0 1,0 1.5,0a0.75,0.75 0 1,0 -1.5,0M107.6,453.1m-0.75,0a0.75,0.75 0 1,0 1.5,0a0.75,0.75 0 1,0 -1.5,0M98.7,449.2m-0.75,0a0.75,0.75 0 1,0 1.5,0a0.75,0.75 0 1,0 -1.5,0M101.6,451.1m-0.75,0a0.75,0.75 0 1,0 1.5,0a0.75,0.75 0 1,0 -1.5,0M104.1,454.6m-0.75,0a0.75,0.75 0 1,0 1.5,0a0.75,0.75 0 1,0 -1.5,0M106.6,454.3m-0.75,0a0.75,0.75 0 1,0 1.5,0a0.75,0.75 0 1,0 -1.5,0M107.9,450.0m-0.75,0a0.75,0.75 0 1,0 1.5,0a0.75,0.75 0 1,0 -1.5,0M105.8,459.6m-0.75,0a0.75,0.75 0 1,0 1.5,0a0.75,0.75 0 1,0 -1.5,0M98.4,454.0m-0.75,0a0.75,0.75 0 1,0 1.5,0a0.75,0.75 0 1,0 -1.5,0M101.7,445.0m-0.75,0a0.75,0.75 0 1,0 1.5,0a0.75,0.75 0 1,0 -1.5,0M97.4,449.9m-0.75,0a0.75,0.75 0 1,0 1.5,0a0.75,0.75 0 1,0 -1.5,0M107.6,447.7m-0.75,0a0.75,0.75 0 1,0 1.5,0a0.75,0.75 0 1,0 -1.5,0M104.3,458.8m-0.75,0a0.75,0.75 0 1,0 1.5,0a0.75,0.75 0 1,0 -1.5,0M100.3,451.6m-0.75,0a0.75,0.75 0 1,0 1.5,0a0.75,0.75 0 1,0 -1.5,0M106.7,457.8m-0.75,0a0.75,0.75 0 1,0 1.5,0a0.75,0.75 0 1,0 -1.5,0M98.4,454.6m-0.75,0a0.75,0.75 0 1,0 1.5,0a0.75,0.75 0 1,0 -1.5,0M97.7,445.8m-0.75,0a0.75,0.75 0 1,0 1.5,0a0.75,0.75 0 1,0 -1.5,0M109.6,456.0m-0.75,0a0.75,0.75 0 1,0 1.5,0a0.75,0.75 0 1,0 -1.5,0" fill="#c2d862"/>
<path d="M101.0,456.0 C101.8,455.3 103.8,456.8 105.0,458.0 C106.2,459.2 108.7,461.7 108.5,463.0 C108.3,464.3 105.3,466.2 104.0,466.0 C102.7,465.8 101.0,463.7 100.5,462.0 C100.0,460.3 100.2,456.7 101.0,456.0 Z" fill="#9cb8b0" opacity="1.0"/>
<path d="M101.2,462.9 C102.6,462.2 105.3,461.3 106.9,461.9 C108.5,462.5 109.8,464.4 110.8,466.7 C111.8,468.9 113.0,473.5 112.7,475.4 C112.4,477.3 110.7,478.0 108.8,478.3 C106.9,478.6 103.0,478.4 101.2,477.3 C99.4,476.2 98.2,473.4 97.8,471.5 C97.4,469.6 98.2,467.2 98.8,465.8 C99.4,464.4 99.8,463.5 101.2,462.9 Z" fill="#b8cce8"/>
<path d="M102.6,464.2m-0.75,0a0.75,0.75 0 1,0 1.5,0a0.75,0.75 0 1,0 -1.5,0M107.5,462.9m-0.75,0a0.75,0.75 0 1,0 1.5,0a0.75,0.75 0 1,0 -1.5,0M105.8,467.8m-0.75,0a0.75,0.75 0 1,0 1.5,0a0.75,0.75 0 1,0 -1.5,0M98.6,470.2m-0.75,0a0.75,0.75 0 1,0 1.5,0a0.75,0.75 0 1,0 -1.5,0M98.3,469.0m-0.75,0a0.75,0.75 0 1,0 1.5,0a0.75,0.75 0 1,0 -1.5,0M104.1,475.5m-0.75,0a0.75,0.75 0 1,0 1.5,0a0.75,0.75 0 1,0 -1.5,0M99.6,465.4m-0.75,0a0.75,0.75 0 1,0 1.5,0a0.75,0.75 0 1,0 -1.5,0M107.1,477.6m-0.75,0a0.75,0.75 0 1,0 1.5,0a0.75,0.75 0 1,0 -1.5,0M106.4,468.3m-0.75,0a0.75,0.75 0 1,0 1.5,0a0.75,0.75 0 1,0 -1.5,0M110.6,466.5m-0.75,0a0.75,0.75 0 1,0 1.5,0a0.75,0.75 0 1,0 -1.5,0M102.3,475.4m-0.75,0a0.75,0.75 0 1,0 1.5,0a0.75,0.75 0 1,0 -1.5,0M100.4,471.4m-0.75,0a0.75,0.75 0 1,0 1.5,0a0.75,0.75 0 1,0 -1.5,0M107.3,467.9m-0.75,0a0.75,0.75 0 1,0 1.5,0a0.75,0.75 0 1,0 -1.5,0M105.9,462.7m-0.75,0a0.75,0.75 0 1,0 1.5,0a0.75,0.75 0 1,0 -1.5,0M107.9,468.9m-0.75,0a0.75,0.75 0 1,0 1.5,0a0.75,0.75 0 1,0 -1.5,0M102.4,471.5m-0.75,0a0.75,0.75 0 1,0 1.5,0a0.75,0.75 0 1,0 -1.5,0M104.5,466.7m-0.75,0a0.75,0.75 0 1,0 1.5,0a0.75,0.75 0 1,0 -1.5,0M109.7,473.4m-0.75,0a0.75,0.75 0 1,0 1.5,0a0.75,0.75 0 1,0 -1.5,0M101.4,471.3m-0.75,0a0.75,0.75 0 1,0 1.5,0a0.75,0.75 0 1,0 -1.5,0M105.6,476.3m-0.75,0a0.75,0.75 0 1,0 1.5,0a0.75,0.75 0 1,0 -1.5,0M108.7,466.5m-0.75,0a0.75,0.75 0 1,0 1.5,0a0.75,0.75 0 1,0 -1.5,0M104.0,474.4m-0.75,0a0.75,0.75 0 1,0 1.5,0a0.75,0.75 0 1,0 -1.5,0M100.0,469.9m-0.75,0a0.75,0.75 0 1,0 1.5,0a0.75,0.75 0 1,0 -1.5,0M98.3,472.9m-0.75,0a0.75,0.75 0 1,0 1.5,0a0.75,0.75 0 1,0 -1.5,0M109.2,471.3m-0.75,0a0.75,0.75 0 1,0 1.5,0a0.75,0.75 0 1,0 -1.5,0M110.9,466.9m-0.75,0a0.75,0.75 0 1,0 1.5,0a0.75,0.75 0 1,0 -1.5,0M108.2,471.6m-0.75,0a0.75,0.75 0 1,0 1.5,0a0.75,0.75 0 1,0 -1.5,0M106.4,469.3m-0.75,0a0.75,0.75 0 1,0 1.5,0a0.75,0.75 0 1,0 -1.5,0M110.3,477.5m-0.75,0a0.75,0.75 0 1,0 1.5,0a0.75,0.75 0 1,0 -1.5,0M104.8,472.8m-0.75,0a0.75,0.75 0 1,0 1.5,0a0.75,0.75 0 1,0 -1.5,0M98.6,473.4m-0.75,0a0.75,0.75 0 1,0 1.5,0a0.75,0.75 0 1,0 -1.5,0M107.4,478.3m-0.75,0a0.75,0.75 0 1,0 1.5,0a0.75,0.75 0 1,0 -1.5,0M110.1,466.5m-0.75,0a0.75,0.75 0 1,0 1.5,0a0.75,0.75 0 1,0 -1.5,0M103.5,472.9m-0.75,0a0.75,0.75 0 1,0 1.5,0a0.75,0.75 0 1,0 -1.5,0M98.0,469.4m-0.75,0a0.75,0.75 0 1,0 1.5,0a0.75,0.75 0 1,0 -1.5,0M100.2,463.7m-0.75,0a0.75,0.75 0 1,0 1.5,0a0.75,0.75 0 1,0 -1.5,0M99.7,465.8m-0.75,0a0.75,0.75 0 1,0 1.5,0a0.75,0.75 0 1,0 -1.5,0M103.6,476.3m-0.75,0a0.75,0.75 0 1,0 1.5,0a0.75,0.75 0 1,0 -1.5,0M98.9,469.2m-0.75,0a0.75,0.75 0 1,0 1.5,0a0.75,0.75 0 1,0 -1.5,0M106.0,476.5m-0.75,0a0.75,0.75 0 1,0 1.5,0a0.75,0.75 0 1,0 -1.5,0M110.0,476.2m-0.75,0a0.75,0.75 0 1,0 1.5,0a0.75,0.75 0 1,0 -1.5,0M101.9,468.6m-0.75,0a0.75,0.75 0 1,0 1.5,0a0.75,0.75 0 1,0 -1.5,0M103.1,476.5m-0.75,0a0.75,0.75 0 1,0 1.5,0a0.75,0.75 0 1,0 -1.5,0M100.4,465.6m-0.75,0a0.75,0.75 0 1,0 1.5,0a0.75,0.75 0 1,0 -1.5,0M101.2,469.8m-0.75,0a0.75,0.75 0 1,0 1.5,0a0.75,0.75 0 1,0 -1.5,0M106.6,466.1m-0.75,0a0.75,0.75 0 1,0 1.5,0a0.75,0.75 0 1,0 -1.5,0M97.8,468.7m-0.75,0a0.75,0.75 0 1,0 1.5,0a0.75,0.75 0 1,0 -1.5,0M103.3,471.2m-0.75,0a0.75,0.75 0 1,0 1.5,0a0.75,0.75 0 1,0 -1.5,0M112.0,473.3m-0.75,0a0.75,0.75 0 1,0 1.5,0a0.75,0.75 0 1,0 -1.5,0M105.5,472.0m-0.75,0a0.75,0.75 0 1,0 1.5,0a0.75,0.75 0 1,0 -1.5,0M107.9,462.6m-0.75,0a0.75,0.75 0 1,0 1.5,0a0.75,0.75 0 1,0 -1.5,0M111.2,474.8m-0.75,0a0.75,0.75 0 1,0 1.5,0a0.75,0.75 0 1,0 -1.5,0M110.9,475.1m-0.75,0a0.75,0.75 0 1,0 1.5,0a0.75,0.75 0 1,0 -1.5,0M103.6,468.4m-0.75,0a0.75,0.75 0 1,0 1.5,0a0.75,0.75 0 1,0 -1.5,0M99.3,472.3m-0.75,0a0.75,0.75 0 1,0 1.5,0a0.75,0.75 0 1,0 -1.5,0M100.8,464.4m-0.75,0a0.75,0.75 0 1,0 1.5,0a0.75,0.75 0 1,0 -1.5,0M102.8,462.6m-0.75,0a0.75,0.75 0 1,0 1.5,0a0.75,0.75 0 1,0 -1.5,0M99.2,467.8m-0.75,0a0.75,0.75 0 1,0 1.5,0a0.75,0.75 0 1,0 -1.5,0M106.9,464.2m-0.75,0a0.75,0.75 0 1,0 1.5,0a0.75,0.75 0 1,0 -1.5,0M101.5,467.5m-0.75,0a0.75,0.75 0 1,0 1.5,0a0.75,0.75 0 1,0 -1.5,0M103.2,463.8m-0.75,0a0.75,0.75 0 1,0 1.5,0a0.75,0.75 0 1,0 -1.5,0M104.7,469.8m-0.75,0a0.75,0.75 0 1,0 1.5,0a0.75,0.75 0 1,0 -1.5,0M102.9,466.1m-0.75,0a0.75,0.75 0 1,0 1.5,0a0.75,0.75 0 1,0 -1.5,0M105.7,464.2m-0.75,0a0.75,0.75 0 1,0 1.5,0a0.75,0.75 0 1,0 -1.5,0M105.9,462.2m-0.75,0a0.75,0.75 0 1,0 1.5,0a0.75,0.75 0 1,0 -1.5,0M105.7,478.1m-0.75,0a0.75,0.75 0 1,0 1.5,0a0.75,0.75 0 1,0 -1.5,0M110.7,473.4m-0.75,0a0.75,0.75 0 1,0 1.5,0a0.75,0.75 0 1,0 -1.5,0M101.6,467.8m-0.75,0a0.75,0.75 0 1,0 1.5,0a0.75,0.75 0 1,0 -1.5,0M100.2,474.6m-0.75,0a0.75,0.75 0 1,0 1.5,0a0.75,0.75 0 1,0 -1.5,0M105.7,474.7m-0.75,0a0.75,0.75 0 1,0 1.5,0a0.75,0.75 0 1,0 -1.5,0M102.7,465.4m-0.75,0a0.75,0.75 0 1,0 1.5,0a0.75,0.75 0 1,0 -1.5,0M109.9,478.2m-0.75,0a0.75,0.75 0 1,0 1.5,0a0.75,0.75 0 1,0 -1.5,0M110.5,475.2m-0.75,0a0.75,0.75 0 1,0 1.5,0a0.75,0.75 0 1,0 -1.5,0M110.0,474.1m-0.75,0a0.75,0.75 0 1,0 1.5,0a0.75,0.75 0 1,0 -1.5,0M101.1,470.4m-0.75,0a0.75,0.75 0 1,0 1.5,0a0.75,0.75 0 1,0 -1.5,0M103.1,462.2m-0.75,0a0.75,0.75 0 1,0 1.5,0a0.75,0.75 0 1,0 -1.5,0M101.6,473.3m-0.75,0a0.75,0.75 0 1,0 1.5,0a0.75,0.75 0 1,0 -1.5,0M101.0,465.5m-0.75,0a0.75,0.75 0 1,0 1.5,0a0.75,0.75 0 1,0 -1.5,0M100.7,465.1m-0.75,0a0.75,0.75 0 1,0 1.5,0a0.75,0.75 0 1,0 -1.5,0M107.1,476.8m-0.75,0a0.75,0.75 0 1,0 1.5,0a0.75,0.75 0 1,0 -1.5,0M110.4,469.7m-0.75,0a0.75,0.75 0 1,0 1.5,0a0.75,0.75 0 1,0 -1.5,0M107.5,475.1m-0.75,0a0.75,0.75 0 1,0 1.5,0a0.75,0.75 0 1,0 -1.5,0M99.0,472.8m-0.75,0a0.75,0.75 0 1,0 1.5,0a0.75,0.75 0 1,0 -1.5,0M111.4,474.8m-0.75,0a0.75,0.75 0 1,0 1.5,0a0.75,0.75 0 1,0 -1.5,0M109.0,469.7m-0.75,0a0.75,0.75 0 1,0 1.5,0a0.75,0.75 0 1,0 -1.5,0M100.4,474.9m-0.75,0a0.75,0.75 0 1,0 1.5,0a0.75,0.75 0 1,0 -1.5,0M102.7,475.1m-0.75,0a0.75,0.75 0 1,0 1.5,0a0.75,0.75 0 1,0 -1.5,0M103.7,477.5m-0.75,0a0.75,0.75 0 1,0 1.5,0a0.75,0.75 0 1,0 -1.5,0M108.6,464.5m-0.75,0a0.75,0.75 0 1,0 1.5,0a0.75,0.75 0 1,0 -1.5,0M99.6,464.2m-0.75,0a0.75,0.75 0 1,0 1.5,0a0.75,0.75 0 1,0 -1.5,0M111.3,475.2m-0.75,0a0.75,0.75 0 1,0 1.5,0a0.75,0.75 0 1,0 -1.5,0M99.9,475.5m-0.75,0a0.75,0.75 0 1,0 1.5,0a0.75,0.75 0 1,0 -1.5,0M112.5,472.7m-0.75,0a0.75,0.75 0 1,0 1.5,0a0.75,0.75 0 1,0 -1.5,0M103.0,470.9m-0.75,0a0.75,0.75 0 1,0 1.5,0a0.75,0.75 0 1,0 -1.5,0M112.3,472.6m-0.75,0a0.75,0.75 0 1,0 1.5,0a0.75,0.75 0 1,0 -1.5,0M105.6,477.3m-0.75,0a0.75,0.75 0 1,0 1.5,0a0.75,0.75 0 1,0 -1.5,0M104.2,476.3m-0.75,0a0.75,0.75 0 1,0 1.5,0a0.75,0.75 0 1,0 -1.5,0M110.1,465.2m-0.75,0a0.75,0.75 0 1,0 1.5,0a0.75,0.75 0 1,0 -1.5,0M101.5,466.6m-0.75,0a0.75,0.75 0 1,0 1.5,0a0.75,0.75 0 1,0 -1.5,0M101.3,471.5m-0.75,0a0.75,0.75 0 1,0 1.5,0a0.75,0.75 0 1,0 -1.5,0M101.6,468.7m-0.75,0a0.75,0.75 0 1,0 1.5,0a0.75,0.75 0 1,0 -1.5,0M103.0,469.4m-0.75,0a0.75,0.75 0 1,0 1.5,0a0.75,0.75 0 1,0 -1.5,0M106.5,476.8m-0.75,0a0.75,0.75 0 1,0 1.5,0a0.75,0.75 0 1,0 -1.5,0M104.0,477.1m-0.75,0a0.75,0.75 0 1,0 1.5,0a0.75,0.75 0 1,0 -1.5,0M105.3,470.6m-0.75,0a0.75,0.75 0 1,0 1.5,0a0.75,0.75 0 1,0 -1.5,0M105.6,462.0m-0.75,0a0.75,0.75 0 1,0 1.5,0a0.75,0.75 0 1,0 -1.5,0M104.3,464.8m-0.75,0a0.75,0.75 0 1,0 1.5,0a0.75,0.75 0 1,0 -1.5,0M100.3,469.6m-0.75,0a0.75,0.75 0 1,0 1.5,0a0.75,0.75 0 1,0 -1.5,0M108.6,471.0m-0.75,0a0.75,0.75 0 1,0 1.5,0a0.75,0.75 0 1,0 -1.5,0M102.6,470.4m-0.75,0a0.75,0.75 0 1,0 1.5,0a0.75,0.75 0 1,0 -1.5,0M106.1,474.8m-0.75,0a0.75,0.75 0 1,0 1.5,0a0.75,0.75 0 1,0 -1.5,0" fill="#7a9ccc"/>
<circle cx="144" cy="509.6" r="0.75" fill="#4e97a8"/>
<circle cx="145.3" cy="508" r="0.75" fill="#4e97a8"/>
<circle cx="146.2" cy="506.8" r="0.75" fill="#4e97a8"/>
<circle cx="148.2" cy="507" r="0.75" fill="#4e97a8"/>
<circle cx="150.2" cy="506.7" r="0.75" fill="#4e97a8"/>
<circle cx="152.2" cy="506.6" r="0.75" fill="#4e97a8"/>
<circle cx="144.6" cy="510.8" r="0.75" fill="#4e97a8"/>
<circle cx="146.8" cy="508.2" r="0.75" fill="#4e97a8"/>
<text x="46.5" y="366.8" font-size="8.7" fill="#231f20" textLength="64" lengthAdjust="spacingAndGlyphs" stroke="#231f20" stroke-width="0.12">CD56<tspan font-size="5.5" dy="-3.5">dim</tspan><tspan dy="3.5"> NK cells</tspan></text>
<text x="62.7" y="431.9" font-size="8.7" fill="#231f20" textLength="68.5" lengthAdjust="spacingAndGlyphs" stroke="#231f20" stroke-width="0.12">CD56<tspan font-size="5.5" dy="-3.5">bright</tspan><tspan dy="3.5"> NK cells</tspan></text>
<text x="137.3" y="361.8" font-size="8.7" text-anchor="start" fill="#231f20" textLength="38.5" lengthAdjust="spacingAndGlyphs" stroke="#231f20" stroke-width="0.12">Monocytes</text>
<text x="187" y="383.3" font-size="8.7" text-anchor="start" fill="#231f20" textLength="20.8" lengthAdjust="spacingAndGlyphs" stroke="#231f20" stroke-width="0.12">pDCs</text>
<text x="112.8" y="454.8" font-size="8.7" text-anchor="start" fill="#231f20" textLength="43" lengthAdjust="spacingAndGlyphs" stroke="#231f20" stroke-width="0.12">CD8 T cells</text>
<text x="75" y="486.8" font-size="8.8" text-anchor="start" fill="#231f20" textLength="43" lengthAdjust="spacingAndGlyphs" stroke="#231f20" stroke-width="0.12">CD4 T cells</text>
<text x="177.5" y="465.3" font-size="8.7" text-anchor="start" fill="#231f20" textLength="23.5" lengthAdjust="spacingAndGlyphs" stroke="#231f20" stroke-width="0.12">B cells</text>
<text x="390.5" y="277.6" font-size="9.9" text-anchor="middle" fill="#231f20" textLength="158.5" lengthAdjust="spacingAndGlyphs" stroke="#231f20" stroke-width="0.12">Patient #26 bone marrow chimerism</text>
<line x1="286.2" y1="283" x2="286.2" y2="337.8" stroke="#231f20" stroke-width="1.2"/>
<line x1="285.6" y1="337.3" x2="494.6" y2="337.3" stroke="#231f20" stroke-width="1.2"/>
<line x1="283" y1="287.5" x2="286" y2="287.5" stroke="#231f20" stroke-width="1"/>
<text x="280.3" y="290.5" font-size="8.6" text-anchor="end" fill="#231f20" textLength="11.3" lengthAdjust="spacingAndGlyphs" stroke="#231f20" stroke-width="0.12">3.0</text>
<line x1="283" y1="302" x2="286" y2="302" stroke="#231f20" stroke-width="1"/>
<text x="280.3" y="305.0" font-size="8.6" text-anchor="end" fill="#231f20" textLength="11.3" lengthAdjust="spacingAndGlyphs" stroke="#231f20" stroke-width="0.12">2.0</text>
<line x1="283" y1="316.8" x2="286" y2="316.8" stroke="#231f20" stroke-width="1"/>
<text x="280.3" y="319.8" font-size="8.6" text-anchor="end" fill="#231f20" textLength="11.3" lengthAdjust="spacingAndGlyphs" stroke="#231f20" stroke-width="0.12">1.0</text>
<line x1="283" y1="331.3" x2="286" y2="331.3" stroke="#231f20" stroke-width="1"/>
<text x="280.3" y="334.3" font-size="8.6" text-anchor="end" fill="#231f20" textLength="11.3" lengthAdjust="spacingAndGlyphs" stroke="#231f20" stroke-width="0.12">0.0</text>
<line x1="299.3" y1="337.3" x2="299.3" y2="339.8" stroke="#231f20" stroke-width="1"/>
<line x1="325.2" y1="337.3" x2="325.2" y2="339.8" stroke="#231f20" stroke-width="1"/>
<line x1="351.1" y1="337.3" x2="351.1" y2="339.8" stroke="#231f20" stroke-width="1"/>
<line x1="377.0" y1="337.3" x2="377.0" y2="339.8" stroke="#231f20" stroke-width="1"/>
<line x1="402.9" y1="337.3" x2="402.9" y2="339.8" stroke="#231f20" stroke-width="1"/>
<line x1="428.8" y1="337.3" x2="428.8" y2="339.8" stroke="#231f20" stroke-width="1"/>
<line x1="454.7" y1="337.3" x2="454.7" y2="339.8" stroke="#231f20" stroke-width="1"/>
<line x1="480.6" y1="337.3" x2="480.6" y2="339.8" stroke="#231f20" stroke-width="1"/>
<line x1="286.2" y1="348.7" x2="286.2" y2="401.5" stroke="#231f20" stroke-width="1.2"/>
<line x1="285.6" y1="401" x2="494.6" y2="401" stroke="#231f20" stroke-width="1.2"/>
<line x1="283" y1="351.3" x2="286" y2="351.3" stroke="#231f20" stroke-width="1"/>
<text x="280.3" y="354.3" font-size="8.6" text-anchor="end" fill="#231f20" stroke="#231f20" stroke-width="0.12">4</text>
<line x1="283" y1="362.3" x2="286" y2="362.3" stroke="#231f20" stroke-width="1"/>
<text x="280.3" y="365.3" font-size="8.6" text-anchor="end" fill="#231f20" stroke="#231f20" stroke-width="0.12">3</text>
<line x1="283" y1="373.5" x2="286" y2="373.5" stroke="#231f20" stroke-width="1"/>
<text x="280.3" y="376.5" font-size="8.6" text-anchor="end" fill="#231f20" stroke="#231f20" stroke-width="0.12">2</text>
<line x1="283" y1="384.6" x2="286" y2="384.6" stroke="#231f20" stroke-width="1"/>
<text x="280.3" y="387.6" font-size="8.6" text-anchor="end" fill="#231f20" stroke="#231f20" stroke-width="0.12">1</text>
<line x1="283" y1="395" x2="286" y2="395" stroke="#231f20" stroke-width="1"/>
<text x="280.3" y="398.0" font-size="8.6" text-anchor="end" fill="#231f20" stroke="#231f20" stroke-width="0.12">0</text>
<line x1="299.3" y1="401" x2="299.3" y2="403.5" stroke="#231f20" stroke-width="1"/>
<line x1="325.2" y1="401" x2="325.2" y2="403.5" stroke="#231f20" stroke-width="1"/>
<line x1="351.1" y1="401" x2="351.1" y2="403.5" stroke="#231f20" stroke-width="1"/>
<line x1="377.0" y1="401" x2="377.0" y2="403.5" stroke="#231f20" stroke-width="1"/>
<line x1="402.9" y1="401" x2="402.9" y2="403.5" stroke="#231f20" stroke-width="1"/>
<line x1="428.8" y1="401" x2="428.8" y2="403.5" stroke="#231f20" stroke-width="1"/>
<line x1="454.7" y1="401" x2="454.7" y2="403.5" stroke="#231f20" stroke-width="1"/>
<line x1="480.6" y1="401" x2="480.6" y2="403.5" stroke="#231f20" stroke-width="1"/>
<text transform="translate(249.6,310) rotate(-90)" font-size="9.4" font-style="italic" text-anchor="middle" fill="#231f20" stroke="#231f20" stroke-width="0.35" textLength="16" lengthAdjust="spacingAndGlyphs">XIST</text>
<text transform="translate(262,311) rotate(-90)" font-size="9" text-anchor="middle" fill="#231f20" stroke="#231f20" stroke-width="0.35" textLength="25" lengthAdjust="spacingAndGlyphs">(counts)</text>
<text transform="translate(256.6,375.2) rotate(-90)" font-size="9.2" font-style="italic" text-anchor="middle" fill="#231f20" stroke="#231f20" stroke-width="0.35" textLength="25" lengthAdjust="spacingAndGlyphs">RPS4Y1</text>
<text transform="translate(268.9,374.8) rotate(-90)" font-size="9" text-anchor="middle" fill="#231f20" stroke="#231f20" stroke-width="0.35" textLength="25" lengthAdjust="spacingAndGlyphs">(counts)</text>
<line x1="299.3" y1="284.8" x2="299.3" y2="331.3" stroke="#222" stroke-width="0.9"/>
<path d="M289.3,331.3 Q296.3,330.40000000000003 299.3,329.5 Q302.3,330.40000000000003 309.3,331.3 Q302.3,332.2 299.3,333.1 Q296.3,332.2 289.3,331.3 Z" fill="#3cb4c6" stroke="#1c6a76" stroke-width="0.6"/>
<rect x="296.40000000000003" y="321" width="5.8" height="12.6" fill="#111"/>
<rect x="297.8" y="313.5" width="3" height="8" fill="#111"/>
<circle cx="299.3" cy="331.3" r="1" fill="#fff"/>
<line x1="325.2" y1="304.8" x2="325.2" y2="331.3" stroke="#1a2a44" stroke-width="0.9"/>
<ellipse cx="325.2" cy="320.5" rx="1.1" ry="2.6" fill="#1b3c6e"/>
<path d="M315.7,331.3 Q322.34999999999997,330.2 325.2,329.1 Q328.05,330.2 334.7,331.3 Q328.05,332.40000000000003 325.2,333.5 Q322.34999999999997,332.40000000000003 315.7,331.3 Z" fill="#1d3f74" stroke="#0f2244" stroke-width="0.6"/>
<circle cx="325.2" cy="331.3" r="1" fill="#fff"/>
<line x1="351.1" y1="312" x2="351.1" y2="331.3" stroke="#444" stroke-width="0.9"/>
<ellipse cx="351.1" cy="323.5" rx="1.5" ry="3.8" fill="#f3b3cd" stroke="#b57a93" stroke-width="0.5"/>
<line x1="351.1" y1="312" x2="351.1" y2="328" stroke="#555" stroke-width="0.8"/>
<path d="M340.8,331.3 Q348.01000000000005,329.7 351.1,328.1 Q354.19,329.7 361.40000000000003,331.3 Q354.19,332.90000000000003 351.1,334.5 Q348.01000000000005,332.90000000000003 340.8,331.3 Z" fill="#f2a8c6" stroke="#b87a95" stroke-width="0.6"/>
<circle cx="351.1" cy="331.3" r="1" fill="#fff"/>
<line x1="377.0" y1="297.3" x2="377.0" y2="331.3" stroke="#333" stroke-width="0.9"/>
<ellipse cx="377.0" cy="320" rx="1.0" ry="2.8" fill="#4a7a4a"/>
<path d="M367.0,331.3 Q374.0,330.05 377.0,328.8 Q380.0,330.05 387.0,331.3 Q380.0,332.55 377.0,333.8 Q374.0,332.55 367.0,331.3 Z" fill="#3c9c3c" stroke="#1e5a1e" stroke-width="0.6"/>
<circle cx="377.0" cy="331.3" r="1" fill="#fff"/>
<line x1="402.9" y1="300.2" x2="402.9" y2="331.3" stroke="#4a2a30" stroke-width="0.9"/>
<ellipse cx="402.9" cy="319.5" rx="1.1" ry="2.8" fill="#b01830"/>
<path d="M392.7,331.3 Q399.84,330.05 402.9,328.8 Q405.96,330.05 413.09999999999997,331.3 Q405.96,332.55 402.9,333.8 Q399.84,332.55 392.7,331.3 Z" fill="#c8142e" stroke="#6a0a18" stroke-width="0.6"/>
<circle cx="402.9" cy="331.3" r="1" fill="#fff"/>
<line x1="428.8" y1="302.5" x2="428.8" y2="331.3" stroke="#555" stroke-width="0.9"/>
<ellipse cx="428.8" cy="321" rx="1.3" ry="2.8" fill="#eccf9a" stroke="#8a7a5a" stroke-width="0.4"/>
<path d="M418.5,331.3 Q425.71000000000004,330.05 428.8,328.8 Q431.89,330.05 439.1,331.3 Q431.89,332.55 428.8,333.8 Q425.71000000000004,332.55 418.5,331.3 Z" fill="#f7d9a2" stroke="#a08050" stroke-width="0.6"/>
<circle cx="428.8" cy="331.3" r="1" fill="#fff"/>
<line x1="454.7" y1="296" x2="454.7" y2="331.3" stroke="#555" stroke-width="0.9"/>
<path d="M444.3,331.3 Q451.58,330.40000000000003 454.7,329.5 Q457.82,330.40000000000003 465.09999999999997,331.3 Q457.82,332.2 454.7,333.1 Q451.58,332.2 444.3,331.3 Z" fill="#c98a28" stroke="#6a4510" stroke-width="0.6"/>
<rect x="453.09999999999997" y="312.7" width="3.2" height="9" fill="#111"/>
<rect x="451.8" y="321.3" width="5.8" height="13.3" fill="#111"/>
<circle cx="454.7" cy="331.3" r="1" fill="#fff"/>
<path d="M480.6,308.3 C481.0,308.3 481.3,310.1 481.8,311.3 C482.3,312.5 482.8,314.0 483.5,315.3 C484.2,316.6 485.4,318.1 486.1,319.3 C486.8,320.5 487.3,321.2 487.5,322.3 C487.7,323.4 487.1,324.7 487.1,325.8 C487.1,326.9 486.9,327.9 487.6,328.8 C488.3,329.7 491.3,330.5 491.1,331.3 C490.9,332.1 488.4,333.1 486.6,333.8 C484.9,334.5 482.6,335.3 480.6,335.3 C478.6,335.3 476.4,334.5 474.6,333.8 C472.9,333.1 470.3,332.1 470.1,331.3 C469.9,330.5 472.9,329.7 473.6,328.8 C474.3,327.9 474.1,326.9 474.1,325.8 C474.1,324.7 473.5,323.4 473.7,322.3 C473.9,321.2 474.4,320.5 475.1,319.3 C475.8,318.1 477.0,316.6 477.7,315.3 C478.4,314.0 478.9,312.5 479.4,311.3 C479.9,310.1 480.2,308.3 480.6,308.3 Z" fill="#a7a4d8" stroke="#3c3a6a" stroke-width="0.6" stroke-linejoin="round"/>
<line x1="480.6" y1="306.3" x2="480.6" y2="331.3" stroke="#111" stroke-width="1.1"/>
<rect x="478.3" y="316" width="4.6" height="18.6" fill="#111"/>
<circle cx="480.6" cy="325" r="1" fill="#fff"/>
<line x1="299.3" y1="356" x2="299.3" y2="395" stroke="#333" stroke-width="1.0"/>
<rect x="289.3" y="394.2" width="20" height="1.6" fill="#5c8c98"/>
<circle cx="299.3" cy="395" r="1" fill="#fff"/>
<line x1="325.2" y1="349.6" x2="325.2" y2="395" stroke="#1a2a44" stroke-width="1.0"/>
<ellipse cx="325.2" cy="374.5" rx="1.2" ry="9" fill="#1d3f74"/>
<path d="M314.9,395 C319.2,393.5 322.2,391 325.2,389.5 C328.2,391 331.2,393.5 335.5,395 C331.2,396.5 328.2,398 325.2,399.2 C322.2,398 319.2,396.5 314.9,395 Z" fill="#1f4580" stroke="#0f2244" stroke-width="0.5"/>
<circle cx="325.2" cy="395" r="1" fill="#fff"/>
<line x1="351.1" y1="369" x2="351.1" y2="395" stroke="#444" stroke-width="0.9"/>
<ellipse cx="351.1" cy="385" rx="1.0" ry="3.5" fill="#e8a0bc"/>
<path d="M341.1,395 Q348.1,393.5 351.1,392 Q354.1,393.5 361.1,395 Q354.1,396.5 351.1,398 Q348.1,396.5 341.1,395 Z" fill="#f2a8c6" stroke="#b87a95" stroke-width="0.6"/>
<circle cx="351.1" cy="395" r="1" fill="#fff"/>
<line x1="377.0" y1="358" x2="377.0" y2="395" stroke="#333" stroke-width="1.0"/>
<path d="M367.0,395 Q374.0,394.0 377.0,393 Q380.0,394.0 387.0,395 Q380.0,396.0 377.0,397 Q374.0,396.0 367.0,395 Z" fill="#3c9c3c" stroke="#1e5a1e" stroke-width="0.6"/>
<circle cx="377.0" cy="395" r="1" fill="#fff"/>
<rect x="392.29999999999995" y="394.4" width="21.2" height="1.2" fill="#c4c4c4"/>
<line x1="428.8" y1="375.6" x2="428.8" y2="395" stroke="#777" stroke-width="1.0"/>
<path d="M418.5,395 Q425.71000000000004,394.35 428.8,393.7 Q431.89,394.35 439.1,395 Q431.89,395.65 428.8,396.3 Q425.71000000000004,395.65 418.5,395 Z" fill="#f0cf98" stroke="#8a6a40" stroke-width="0.6"/>
<line x1="454.7" y1="375.6" x2="454.7" y2="395" stroke="#555" stroke-width="1.0"/>
<path d="M444.4,395 Q451.61,394.35 454.7,393.7 Q457.78999999999996,394.35 465.0,395 Q457.78999999999996,395.65 454.7,396.3 Q451.61,395.65 444.4,395 Z" fill="#c98a28" stroke="#6a4510" stroke-width="0.6"/>
<line x1="480.6" y1="379.6" x2="480.6" y2="395" stroke="#666" stroke-width="1.0"/>
<path d="M470.3,395 Q477.51000000000005,394.35 480.6,393.7 Q483.69,394.35 490.90000000000003,395 Q483.69,395.65 480.6,396.3 Q477.51000000000005,395.65 470.3,395 Z" fill="#9b98d2" stroke="#3c3a6a" stroke-width="0.6"/>
<line x1="286.2" y1="438.8" x2="286.2" y2="520.9" stroke="#231f20" stroke-width="1.2"/>
<line x1="285.6" y1="520.4" x2="494.6" y2="520.4" stroke="#231f20" stroke-width="1.2"/>
<line x1="283" y1="520.4" x2="286" y2="520.4" stroke="#231f20" stroke-width="1"/>
<text x="281" y="523.5" font-size="8.9" text-anchor="end" fill="#231f20" textLength="12" lengthAdjust="spacingAndGlyphs" stroke="#231f20" stroke-width="0.12">0.0</text>
<line x1="283" y1="504.9" x2="286" y2="504.9" stroke="#231f20" stroke-width="1"/>
<text x="281" y="508.0" font-size="8.9" text-anchor="end" fill="#231f20" textLength="12" lengthAdjust="spacingAndGlyphs" stroke="#231f20" stroke-width="0.12">0.2</text>
<line x1="283" y1="489.4" x2="286" y2="489.4" stroke="#231f20" stroke-width="1"/>
<text x="281" y="492.5" font-size="8.9" text-anchor="end" fill="#231f20" textLength="12" lengthAdjust="spacingAndGlyphs" stroke="#231f20" stroke-width="0.12">0.4</text>
<line x1="283" y1="473.9" x2="286" y2="473.9" stroke="#231f20" stroke-width="1"/>
<text x="281" y="477.0" font-size="8.9" text-anchor="end" fill="#231f20" textLength="12" lengthAdjust="spacingAndGlyphs" stroke="#231f20" stroke-width="0.12">0.6</text>
<line x1="283" y1="458.4" x2="286" y2="458.4" stroke="#231f20" stroke-width="1"/>
<text x="281" y="461.5" font-size="8.9" text-anchor="end" fill="#231f20" textLength="12" lengthAdjust="spacingAndGlyphs" stroke="#231f20" stroke-width="0.12">0.8</text>
<line x1="283" y1="442.9" x2="286" y2="442.9" stroke="#231f20" stroke-width="1"/>
<text x="281" y="446.0" font-size="8.9" text-anchor="end" fill="#231f20" textLength="12" lengthAdjust="spacingAndGlyphs" stroke="#231f20" stroke-width="0.12">1.0</text>
<text transform="translate(261.5,480) rotate(-90)" font-size="9.4" text-anchor="middle" fill="#231f20" stroke="#231f20" stroke-width="0.35" textLength="33" lengthAdjust="spacingAndGlyphs">Proportion</text>
<rect x="292.90000000000003" y="442.9" width="13" height="1.0750000000000006" fill="#f39214"/>
<rect x="292.90000000000003" y="443.67499999999995" width="13" height="76.725" fill="#f09dc4"/>
<line x1="299.3" y1="520.4" x2="299.3" y2="523" stroke="#231f20" stroke-width="1"/>
<rect x="318.8" y="442.9" width="13" height="18.8225" fill="#f39214"/>
<rect x="318.8" y="461.42249999999996" width="13" height="58.9775" fill="#f09dc4"/>
<line x1="325.2" y1="520.4" x2="325.2" y2="523" stroke="#231f20" stroke-width="1"/>
<rect x="344.70000000000005" y="442.9" width="13" height="6.112499999999996" fill="#f39214"/>
<rect x="344.70000000000005" y="448.7125" width="13" height="71.6875" fill="#f09dc4"/>
<line x1="351.1" y1="520.4" x2="351.1" y2="523" stroke="#231f20" stroke-width="1"/>
<rect x="370.6" y="442.9" width="13" height="3.4000000000000026" fill="#f39214"/>
<rect x="370.6" y="446.0" width="13" height="74.39999999999999" fill="#f09dc4"/>
<line x1="377.0" y1="520.4" x2="377.0" y2="523" stroke="#231f20" stroke-width="1"/>
<rect x="396.5" y="442.9" width="13" height="0.6100000000000003" fill="#f39214"/>
<rect x="396.5" y="443.21" width="13" height="77.19" fill="#f09dc4"/>
<line x1="402.9" y1="520.4" x2="402.9" y2="523" stroke="#231f20" stroke-width="1"/>
<rect x="422.40000000000003" y="442.9" width="13" height="0.8425000000000005" fill="#f39214"/>
<rect x="422.40000000000003" y="443.4425" width="13" height="76.9575" fill="#f09dc4"/>
<line x1="428.8" y1="520.4" x2="428.8" y2="523" stroke="#231f20" stroke-width="1"/>
<rect x="448.3" y="442.9" width="13" height="0.8425000000000005" fill="#f39214"/>
<rect x="448.3" y="443.4425" width="13" height="76.9575" fill="#f09dc4"/>
<line x1="454.7" y1="520.4" x2="454.7" y2="523" stroke="#231f20" stroke-width="1"/>
<rect x="474.20000000000005" y="442.9" width="13" height="0.4550000000000001" fill="#f39214"/>
<rect x="474.20000000000005" y="443.05499999999995" width="13" height="77.345" fill="#f09dc4"/>
<line x1="480.6" y1="520.4" x2="480.6" y2="523" stroke="#231f20" stroke-width="1"/>
<text transform="translate(302.8,532.5) rotate(-45)" font-size="8.7" text-anchor="end" fill="#231f20" stroke="#231f20" stroke-width="0.12">B cell</text>
<text transform="translate(328.7,532.5) rotate(-45)" font-size="8.7" text-anchor="end" fill="#231f20" stroke="#231f20" stroke-width="0.12">CD4 T cell</text>
<text transform="translate(354.6,532.5) rotate(-45)" font-size="8.7" text-anchor="end" fill="#231f20" stroke="#231f20" stroke-width="0.12">Treg</text>
<text transform="translate(380.5,532.5) rotate(-45)" font-size="8.7" text-anchor="end" fill="#231f20" stroke="#231f20" stroke-width="0.12">CD8 T cell</text>
<text transform="translate(406.4,532.5) rotate(-45)" font-size="8.7" text-anchor="end" fill="#231f20" stroke="#231f20" stroke-width="0.12">NK CD56<tspan font-size="5.5" dy="-3.2">bright</tspan></text>
<text transform="translate(432.3,532.5) rotate(-45)" font-size="8.7" text-anchor="end" fill="#231f20" stroke="#231f20" stroke-width="0.12">NK CD56<tspan font-size="5.5" dy="-3.2">dim</tspan></text>
<text transform="translate(458.2,532.5) rotate(-45)" font-size="8.7" text-anchor="end" fill="#231f20" stroke="#231f20" stroke-width="0.12">Monocyte</text>
<text transform="translate(484.1,532.5) rotate(-45)" font-size="8.7" text-anchor="end" fill="#231f20" stroke="#231f20" stroke-width="0.12">pDC</text>
<rect x="351.2" y="583.2" width="6.2" height="6.2" fill="#f09dc4"/>
<text x="361.4" y="588.8" font-size="8.3" text-anchor="start" fill="#231f20" textLength="20.5" lengthAdjust="spacingAndGlyphs" stroke="#231f20" stroke-width="0.12">donor</text>
<rect x="392.2" y="583" width="6.2" height="6.2" fill="#f39214"/>
<text x="401.6" y="588.8" font-size="8.3" text-anchor="start" fill="#231f20" textLength="15.8" lengthAdjust="spacingAndGlyphs" stroke="#231f20" stroke-width="0.12">host</text>
</svg>
</body></html>
